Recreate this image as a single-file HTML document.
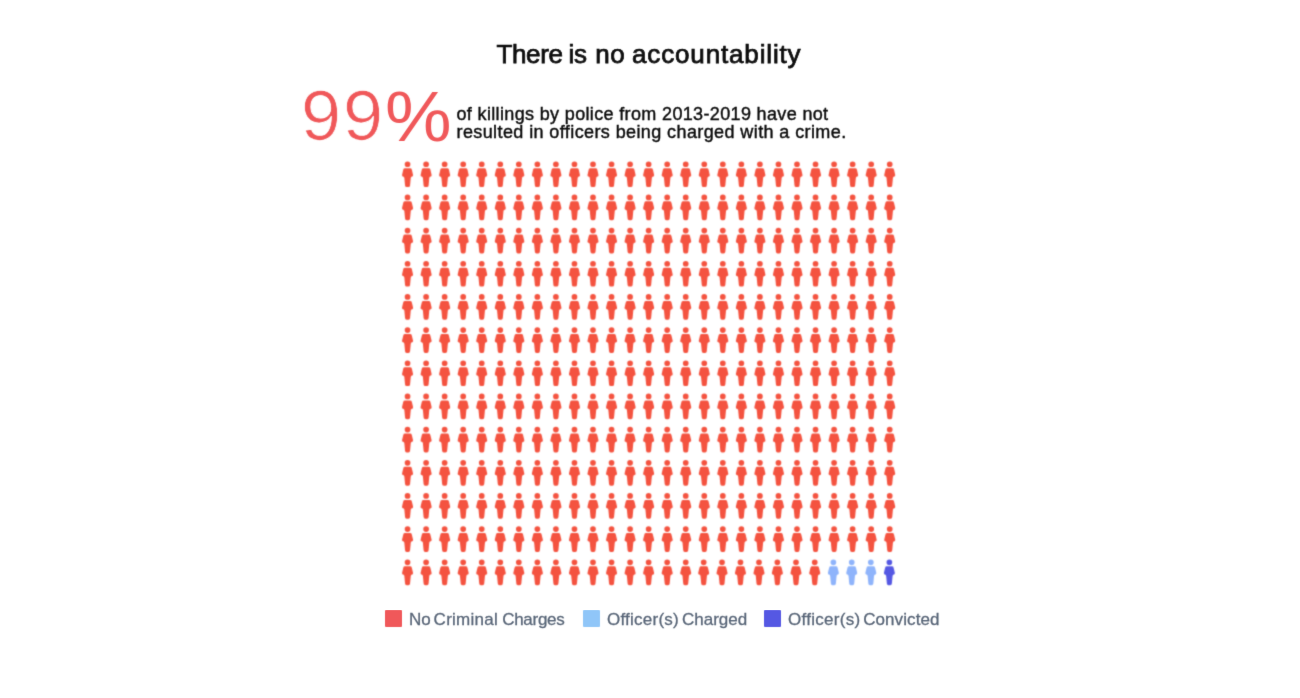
<!DOCTYPE html>
<html lang="en">
<head>
<meta charset="utf-8">
<title>There is no accountability</title>
<style>
html,body{margin:0;padding:0;background:#fff;}
body{width:1300px;height:698px;position:relative;overflow:hidden;font-family:"Liberation Sans",sans-serif;}
.soft{filter:url(#t);}
.title{position:absolute;left:0;top:37.5px;width:1300px;height:32px;white-space:nowrap;font-size:26px;line-height:32px;color:#0a0a0a;-webkit-text-stroke:0.75px #0a0a0a;}
.title span{position:absolute;top:0;}
.big{position:absolute;left:301px;top:76.3px;font-size:71px;line-height:80px;color:#f0585a;white-space:nowrap;}
.big .n{position:absolute;left:0;top:0;letter-spacing:2px;-webkit-text-stroke:0.7px #fff;transform-origin:0 81%;transform:scale(1.015,1);}
.big .pc{position:absolute;left:84px;top:0.8px;display:inline-block;transform-origin:0 81%;transform:scale(1.055,1);}
.sub{position:absolute;left:456.5px;top:105.3px;font-size:18px;line-height:18px;color:#111;white-space:nowrap;letter-spacing:0.31px;-webkit-text-stroke:0.45px #111;}
.legend{position:absolute;top:610px;left:0;font-family:"Liberation Sans",sans-serif;font-size:17px;color:#596678;line-height:18px;white-space:nowrap;-webkit-text-stroke:0.3px #596678;}
.legend span.sw{position:absolute;top:0.4px;width:17.1px;height:17px;border-radius:1px;}
.legend span.tx{position:absolute;top:1.1px;}
svg.grid{position:absolute;left:0;top:0;}
.r{fill:#f4523f;} .l{fill:#8fb4fb;} .d{fill:#5558e3;}
</style>
</head>
<body>
<div class="soft" style="position:absolute;left:0;top:0;width:1300px;height:698px">
<div class="title"><span style="left:496.5px;letter-spacing:-0.39px">There </span><span style="left:568.5px;letter-spacing:-0.4px">is </span><span style="left:595.2px;letter-spacing:0.6px">no </span><span style="left:632px;letter-spacing:0.85px">accountability</span></div>
<div class="big"><span class="n">99</span><span class="pc">%</span></div>
<div class="sub"><span style="letter-spacing:0.35px">of killings by police from 2013-2019 have not</span><br><span style="letter-spacing:0.4px">resulted in officers being charged with a crime.</span></div>
</div>
<svg class="grid" width="1300" height="698" viewBox="0 0 1300 698">
<defs>
<filter id="b" x="-5%" y="-5%" width="110%" height="110%"><feConvolveMatrix order="3" kernelMatrix="0.0361 0.1178 0.0361 0.1178 0.3846 0.1178 0.0361 0.1178 0.0361" divisor="1" edgeMode="none" preserveAlpha="false"/></filter>
<filter id="t" x="0" y="0" width="100%" height="100%"><feConvolveMatrix order="3" kernelMatrix="0.0113 0.0838 0.0113 0.0838 0.6193 0.0838 0.0113 0.0838 0.0113" divisor="1" edgeMode="none" preserveAlpha="false"/></filter>
</defs>
<g filter="url(#b)">
<path class="r" d="M404.7,164.25a2.85,2.85 0 1,0 5.7,0a2.85,2.85 0 1,0 -5.7,0zM404.95,168.2l5.2,0q1.3,0 1.65,1.4l1.15,4.8q0.4,1.9 -0.9,2.1q-1.2,0.2 -1.3,1.4l-0.7,7.5q-0.1,1.7 -1.6,1.7l-1.8,0q-1.5,0 -1.6,-1.7l-0.7,-7.5q-0.1,-1.2 -1.3,-1.4q-1.3,-0.2 -0.9,-2.1l1.15,-4.8q0.35,-1.4 1.65,-1.4z M423.25,164.25a2.85,2.85 0 1,0 5.7,0a2.85,2.85 0 1,0 -5.7,0zM423.5,168.2l5.2,0q1.3,0 1.65,1.4l1.15,4.8q0.4,1.9 -0.9,2.1q-1.2,0.2 -1.3,1.4l-0.7,7.5q-0.1,1.7 -1.6,1.7l-1.8,0q-1.5,0 -1.6,-1.7l-0.7,-7.5q-0.1,-1.2 -1.3,-1.4q-1.3,-0.2 -0.9,-2.1l1.15,-4.8q0.35,-1.4 1.65,-1.4z M441.79,164.25a2.85,2.85 0 1,0 5.7,0a2.85,2.85 0 1,0 -5.7,0zM442.04,168.2l5.2,0q1.3,0 1.65,1.4l1.15,4.8q0.4,1.9 -0.9,2.1q-1.2,0.2 -1.3,1.4l-0.7,7.5q-0.1,1.7 -1.6,1.7l-1.8,0q-1.5,0 -1.6,-1.7l-0.7,-7.5q-0.1,-1.2 -1.3,-1.4q-1.3,-0.2 -0.9,-2.1l1.15,-4.8q0.35,-1.4 1.65,-1.4z M460.33,164.25a2.85,2.85 0 1,0 5.7,0a2.85,2.85 0 1,0 -5.7,0zM460.58,168.2l5.2,0q1.3,0 1.65,1.4l1.15,4.8q0.4,1.9 -0.9,2.1q-1.2,0.2 -1.3,1.4l-0.7,7.5q-0.1,1.7 -1.6,1.7l-1.8,0q-1.5,0 -1.6,-1.7l-0.7,-7.5q-0.1,-1.2 -1.3,-1.4q-1.3,-0.2 -0.9,-2.1l1.15,-4.8q0.35,-1.4 1.65,-1.4z M478.88,164.25a2.85,2.85 0 1,0 5.7,0a2.85,2.85 0 1,0 -5.7,0zM479.13,168.2l5.2,0q1.3,0 1.65,1.4l1.15,4.8q0.4,1.9 -0.9,2.1q-1.2,0.2 -1.3,1.4l-0.7,7.5q-0.1,1.7 -1.6,1.7l-1.8,0q-1.5,0 -1.6,-1.7l-0.7,-7.5q-0.1,-1.2 -1.3,-1.4q-1.3,-0.2 -0.9,-2.1l1.15,-4.8q0.35,-1.4 1.65,-1.4z M497.43,164.25a2.85,2.85 0 1,0 5.7,0a2.85,2.85 0 1,0 -5.7,0zM497.68,168.2l5.2,0q1.3,0 1.65,1.4l1.15,4.8q0.4,1.9 -0.9,2.1q-1.2,0.2 -1.3,1.4l-0.7,7.5q-0.1,1.7 -1.6,1.7l-1.8,0q-1.5,0 -1.6,-1.7l-0.7,-7.5q-0.1,-1.2 -1.3,-1.4q-1.3,-0.2 -0.9,-2.1l1.15,-4.8q0.35,-1.4 1.65,-1.4z M515.97,164.25a2.85,2.85 0 1,0 5.7,0a2.85,2.85 0 1,0 -5.7,0zM516.22,168.2l5.2,0q1.3,0 1.65,1.4l1.15,4.8q0.4,1.9 -0.9,2.1q-1.2,0.2 -1.3,1.4l-0.7,7.5q-0.1,1.7 -1.6,1.7l-1.8,0q-1.5,0 -1.6,-1.7l-0.7,-7.5q-0.1,-1.2 -1.3,-1.4q-1.3,-0.2 -0.9,-2.1l1.15,-4.8q0.35,-1.4 1.65,-1.4z M534.51,164.25a2.85,2.85 0 1,0 5.7,0a2.85,2.85 0 1,0 -5.7,0zM534.76,168.2l5.2,0q1.3,0 1.65,1.4l1.15,4.8q0.4,1.9 -0.9,2.1q-1.2,0.2 -1.3,1.4l-0.7,7.5q-0.1,1.7 -1.6,1.7l-1.8,0q-1.5,0 -1.6,-1.7l-0.7,-7.5q-0.1,-1.2 -1.3,-1.4q-1.3,-0.2 -0.9,-2.1l1.15,-4.8q0.35,-1.4 1.65,-1.4z M553.06,164.25a2.85,2.85 0 1,0 5.7,0a2.85,2.85 0 1,0 -5.7,0zM553.31,168.2l5.2,0q1.3,0 1.65,1.4l1.15,4.8q0.4,1.9 -0.9,2.1q-1.2,0.2 -1.3,1.4l-0.7,7.5q-0.1,1.7 -1.6,1.7l-1.8,0q-1.5,0 -1.6,-1.7l-0.7,-7.5q-0.1,-1.2 -1.3,-1.4q-1.3,-0.2 -0.9,-2.1l1.15,-4.8q0.35,-1.4 1.65,-1.4z M571.61,164.25a2.85,2.85 0 1,0 5.7,0a2.85,2.85 0 1,0 -5.7,0zM571.86,168.2l5.2,0q1.3,0 1.65,1.4l1.15,4.8q0.4,1.9 -0.9,2.1q-1.2,0.2 -1.3,1.4l-0.7,7.5q-0.1,1.7 -1.6,1.7l-1.8,0q-1.5,0 -1.6,-1.7l-0.7,-7.5q-0.1,-1.2 -1.3,-1.4q-1.3,-0.2 -0.9,-2.1l1.15,-4.8q0.35,-1.4 1.65,-1.4z M590.15,164.25a2.85,2.85 0 1,0 5.7,0a2.85,2.85 0 1,0 -5.7,0zM590.4,168.2l5.2,0q1.3,0 1.65,1.4l1.15,4.8q0.4,1.9 -0.9,2.1q-1.2,0.2 -1.3,1.4l-0.7,7.5q-0.1,1.7 -1.6,1.7l-1.8,0q-1.5,0 -1.6,-1.7l-0.7,-7.5q-0.1,-1.2 -1.3,-1.4q-1.3,-0.2 -0.9,-2.1l1.15,-4.8q0.35,-1.4 1.65,-1.4z M608.7,164.25a2.85,2.85 0 1,0 5.7,0a2.85,2.85 0 1,0 -5.7,0zM608.95,168.2l5.2,0q1.3,0 1.65,1.4l1.15,4.8q0.4,1.9 -0.9,2.1q-1.2,0.2 -1.3,1.4l-0.7,7.5q-0.1,1.7 -1.6,1.7l-1.8,0q-1.5,0 -1.6,-1.7l-0.7,-7.5q-0.1,-1.2 -1.3,-1.4q-1.3,-0.2 -0.9,-2.1l1.15,-4.8q0.35,-1.4 1.65,-1.4z M627.24,164.25a2.85,2.85 0 1,0 5.7,0a2.85,2.85 0 1,0 -5.7,0zM627.49,168.2l5.2,0q1.3,0 1.65,1.4l1.15,4.8q0.4,1.9 -0.9,2.1q-1.2,0.2 -1.3,1.4l-0.7,7.5q-0.1,1.7 -1.6,1.7l-1.8,0q-1.5,0 -1.6,-1.7l-0.7,-7.5q-0.1,-1.2 -1.3,-1.4q-1.3,-0.2 -0.9,-2.1l1.15,-4.8q0.35,-1.4 1.65,-1.4z M645.78,164.25a2.85,2.85 0 1,0 5.7,0a2.85,2.85 0 1,0 -5.7,0zM646.03,168.2l5.2,0q1.3,0 1.65,1.4l1.15,4.8q0.4,1.9 -0.9,2.1q-1.2,0.2 -1.3,1.4l-0.7,7.5q-0.1,1.7 -1.6,1.7l-1.8,0q-1.5,0 -1.6,-1.7l-0.7,-7.5q-0.1,-1.2 -1.3,-1.4q-1.3,-0.2 -0.9,-2.1l1.15,-4.8q0.35,-1.4 1.65,-1.4z M664.33,164.25a2.85,2.85 0 1,0 5.7,0a2.85,2.85 0 1,0 -5.7,0zM664.58,168.2l5.2,0q1.3,0 1.65,1.4l1.15,4.8q0.4,1.9 -0.9,2.1q-1.2,0.2 -1.3,1.4l-0.7,7.5q-0.1,1.7 -1.6,1.7l-1.8,0q-1.5,0 -1.6,-1.7l-0.7,-7.5q-0.1,-1.2 -1.3,-1.4q-1.3,-0.2 -0.9,-2.1l1.15,-4.8q0.35,-1.4 1.65,-1.4z M682.88,164.25a2.85,2.85 0 1,0 5.7,0a2.85,2.85 0 1,0 -5.7,0zM683.12,168.2l5.2,0q1.3,0 1.65,1.4l1.15,4.8q0.4,1.9 -0.9,2.1q-1.2,0.2 -1.3,1.4l-0.7,7.5q-0.1,1.7 -1.6,1.7l-1.8,0q-1.5,0 -1.6,-1.7l-0.7,-7.5q-0.1,-1.2 -1.3,-1.4q-1.3,-0.2 -0.9,-2.1l1.15,-4.8q0.35,-1.4 1.65,-1.4z M701.42,164.25a2.85,2.85 0 1,0 5.7,0a2.85,2.85 0 1,0 -5.7,0zM701.67,168.2l5.2,0q1.3,0 1.65,1.4l1.15,4.8q0.4,1.9 -0.9,2.1q-1.2,0.2 -1.3,1.4l-0.7,7.5q-0.1,1.7 -1.6,1.7l-1.8,0q-1.5,0 -1.6,-1.7l-0.7,-7.5q-0.1,-1.2 -1.3,-1.4q-1.3,-0.2 -0.9,-2.1l1.15,-4.8q0.35,-1.4 1.65,-1.4z M719.97,164.25a2.85,2.85 0 1,0 5.7,0a2.85,2.85 0 1,0 -5.7,0zM720.22,168.2l5.2,0q1.3,0 1.65,1.4l1.15,4.8q0.4,1.9 -0.9,2.1q-1.2,0.2 -1.3,1.4l-0.7,7.5q-0.1,1.7 -1.6,1.7l-1.8,0q-1.5,0 -1.6,-1.7l-0.7,-7.5q-0.1,-1.2 -1.3,-1.4q-1.3,-0.2 -0.9,-2.1l1.15,-4.8q0.35,-1.4 1.65,-1.4z M738.51,164.25a2.85,2.85 0 1,0 5.7,0a2.85,2.85 0 1,0 -5.7,0zM738.76,168.2l5.2,0q1.3,0 1.65,1.4l1.15,4.8q0.4,1.9 -0.9,2.1q-1.2,0.2 -1.3,1.4l-0.7,7.5q-0.1,1.7 -1.6,1.7l-1.8,0q-1.5,0 -1.6,-1.7l-0.7,-7.5q-0.1,-1.2 -1.3,-1.4q-1.3,-0.2 -0.9,-2.1l1.15,-4.8q0.35,-1.4 1.65,-1.4z M757.05,164.25a2.85,2.85 0 1,0 5.7,0a2.85,2.85 0 1,0 -5.7,0zM757.3,168.2l5.2,0q1.3,0 1.65,1.4l1.15,4.8q0.4,1.9 -0.9,2.1q-1.2,0.2 -1.3,1.4l-0.7,7.5q-0.1,1.7 -1.6,1.7l-1.8,0q-1.5,0 -1.6,-1.7l-0.7,-7.5q-0.1,-1.2 -1.3,-1.4q-1.3,-0.2 -0.9,-2.1l1.15,-4.8q0.35,-1.4 1.65,-1.4z M775.6,164.25a2.85,2.85 0 1,0 5.7,0a2.85,2.85 0 1,0 -5.7,0zM775.85,168.2l5.2,0q1.3,0 1.65,1.4l1.15,4.8q0.4,1.9 -0.9,2.1q-1.2,0.2 -1.3,1.4l-0.7,7.5q-0.1,1.7 -1.6,1.7l-1.8,0q-1.5,0 -1.6,-1.7l-0.7,-7.5q-0.1,-1.2 -1.3,-1.4q-1.3,-0.2 -0.9,-2.1l1.15,-4.8q0.35,-1.4 1.65,-1.4z M794.15,164.25a2.85,2.85 0 1,0 5.7,0a2.85,2.85 0 1,0 -5.7,0zM794.4,168.2l5.2,0q1.3,0 1.65,1.4l1.15,4.8q0.4,1.9 -0.9,2.1q-1.2,0.2 -1.3,1.4l-0.7,7.5q-0.1,1.7 -1.6,1.7l-1.8,0q-1.5,0 -1.6,-1.7l-0.7,-7.5q-0.1,-1.2 -1.3,-1.4q-1.3,-0.2 -0.9,-2.1l1.15,-4.8q0.35,-1.4 1.65,-1.4z M812.69,164.25a2.85,2.85 0 1,0 5.7,0a2.85,2.85 0 1,0 -5.7,0zM812.94,168.2l5.2,0q1.3,0 1.65,1.4l1.15,4.8q0.4,1.9 -0.9,2.1q-1.2,0.2 -1.3,1.4l-0.7,7.5q-0.1,1.7 -1.6,1.7l-1.8,0q-1.5,0 -1.6,-1.7l-0.7,-7.5q-0.1,-1.2 -1.3,-1.4q-1.3,-0.2 -0.9,-2.1l1.15,-4.8q0.35,-1.4 1.65,-1.4z M831.24,164.25a2.85,2.85 0 1,0 5.7,0a2.85,2.85 0 1,0 -5.7,0zM831.49,168.2l5.2,0q1.3,0 1.65,1.4l1.15,4.8q0.4,1.9 -0.9,2.1q-1.2,0.2 -1.3,1.4l-0.7,7.5q-0.1,1.7 -1.6,1.7l-1.8,0q-1.5,0 -1.6,-1.7l-0.7,-7.5q-0.1,-1.2 -1.3,-1.4q-1.3,-0.2 -0.9,-2.1l1.15,-4.8q0.35,-1.4 1.65,-1.4z M849.78,164.25a2.85,2.85 0 1,0 5.7,0a2.85,2.85 0 1,0 -5.7,0zM850.03,168.2l5.2,0q1.3,0 1.65,1.4l1.15,4.8q0.4,1.9 -0.9,2.1q-1.2,0.2 -1.3,1.4l-0.7,7.5q-0.1,1.7 -1.6,1.7l-1.8,0q-1.5,0 -1.6,-1.7l-0.7,-7.5q-0.1,-1.2 -1.3,-1.4q-1.3,-0.2 -0.9,-2.1l1.15,-4.8q0.35,-1.4 1.65,-1.4z M868.33,164.25a2.85,2.85 0 1,0 5.7,0a2.85,2.85 0 1,0 -5.7,0zM868.58,168.2l5.2,0q1.3,0 1.65,1.4l1.15,4.8q0.4,1.9 -0.9,2.1q-1.2,0.2 -1.3,1.4l-0.7,7.5q-0.1,1.7 -1.6,1.7l-1.8,0q-1.5,0 -1.6,-1.7l-0.7,-7.5q-0.1,-1.2 -1.3,-1.4q-1.3,-0.2 -0.9,-2.1l1.15,-4.8q0.35,-1.4 1.65,-1.4z M886.87,164.25a2.85,2.85 0 1,0 5.7,0a2.85,2.85 0 1,0 -5.7,0zM887.12,168.2l5.2,0q1.3,0 1.65,1.4l1.15,4.8q0.4,1.9 -0.9,2.1q-1.2,0.2 -1.3,1.4l-0.7,7.5q-0.1,1.7 -1.6,1.7l-1.8,0q-1.5,0 -1.6,-1.7l-0.7,-7.5q-0.1,-1.2 -1.3,-1.4q-1.3,-0.2 -0.9,-2.1l1.15,-4.8q0.35,-1.4 1.65,-1.4z M404.7,197.42a2.85,2.85 0 1,0 5.7,0a2.85,2.85 0 1,0 -5.7,0zM404.95,201.37l5.2,0q1.3,0 1.65,1.4l1.15,4.8q0.4,1.9 -0.9,2.1q-1.2,0.2 -1.3,1.4l-0.7,7.5q-0.1,1.7 -1.6,1.7l-1.8,0q-1.5,0 -1.6,-1.7l-0.7,-7.5q-0.1,-1.2 -1.3,-1.4q-1.3,-0.2 -0.9,-2.1l1.15,-4.8q0.35,-1.4 1.65,-1.4z M423.25,197.42a2.85,2.85 0 1,0 5.7,0a2.85,2.85 0 1,0 -5.7,0zM423.5,201.37l5.2,0q1.3,0 1.65,1.4l1.15,4.8q0.4,1.9 -0.9,2.1q-1.2,0.2 -1.3,1.4l-0.7,7.5q-0.1,1.7 -1.6,1.7l-1.8,0q-1.5,0 -1.6,-1.7l-0.7,-7.5q-0.1,-1.2 -1.3,-1.4q-1.3,-0.2 -0.9,-2.1l1.15,-4.8q0.35,-1.4 1.65,-1.4z M441.79,197.42a2.85,2.85 0 1,0 5.7,0a2.85,2.85 0 1,0 -5.7,0zM442.04,201.37l5.2,0q1.3,0 1.65,1.4l1.15,4.8q0.4,1.9 -0.9,2.1q-1.2,0.2 -1.3,1.4l-0.7,7.5q-0.1,1.7 -1.6,1.7l-1.8,0q-1.5,0 -1.6,-1.7l-0.7,-7.5q-0.1,-1.2 -1.3,-1.4q-1.3,-0.2 -0.9,-2.1l1.15,-4.8q0.35,-1.4 1.65,-1.4z M460.33,197.42a2.85,2.85 0 1,0 5.7,0a2.85,2.85 0 1,0 -5.7,0zM460.58,201.37l5.2,0q1.3,0 1.65,1.4l1.15,4.8q0.4,1.9 -0.9,2.1q-1.2,0.2 -1.3,1.4l-0.7,7.5q-0.1,1.7 -1.6,1.7l-1.8,0q-1.5,0 -1.6,-1.7l-0.7,-7.5q-0.1,-1.2 -1.3,-1.4q-1.3,-0.2 -0.9,-2.1l1.15,-4.8q0.35,-1.4 1.65,-1.4z M478.88,197.42a2.85,2.85 0 1,0 5.7,0a2.85,2.85 0 1,0 -5.7,0zM479.13,201.37l5.2,0q1.3,0 1.65,1.4l1.15,4.8q0.4,1.9 -0.9,2.1q-1.2,0.2 -1.3,1.4l-0.7,7.5q-0.1,1.7 -1.6,1.7l-1.8,0q-1.5,0 -1.6,-1.7l-0.7,-7.5q-0.1,-1.2 -1.3,-1.4q-1.3,-0.2 -0.9,-2.1l1.15,-4.8q0.35,-1.4 1.65,-1.4z M497.43,197.42a2.85,2.85 0 1,0 5.7,0a2.85,2.85 0 1,0 -5.7,0zM497.68,201.37l5.2,0q1.3,0 1.65,1.4l1.15,4.8q0.4,1.9 -0.9,2.1q-1.2,0.2 -1.3,1.4l-0.7,7.5q-0.1,1.7 -1.6,1.7l-1.8,0q-1.5,0 -1.6,-1.7l-0.7,-7.5q-0.1,-1.2 -1.3,-1.4q-1.3,-0.2 -0.9,-2.1l1.15,-4.8q0.35,-1.4 1.65,-1.4z M515.97,197.42a2.85,2.85 0 1,0 5.7,0a2.85,2.85 0 1,0 -5.7,0zM516.22,201.37l5.2,0q1.3,0 1.65,1.4l1.15,4.8q0.4,1.9 -0.9,2.1q-1.2,0.2 -1.3,1.4l-0.7,7.5q-0.1,1.7 -1.6,1.7l-1.8,0q-1.5,0 -1.6,-1.7l-0.7,-7.5q-0.1,-1.2 -1.3,-1.4q-1.3,-0.2 -0.9,-2.1l1.15,-4.8q0.35,-1.4 1.65,-1.4z M534.51,197.42a2.85,2.85 0 1,0 5.7,0a2.85,2.85 0 1,0 -5.7,0zM534.76,201.37l5.2,0q1.3,0 1.65,1.4l1.15,4.8q0.4,1.9 -0.9,2.1q-1.2,0.2 -1.3,1.4l-0.7,7.5q-0.1,1.7 -1.6,1.7l-1.8,0q-1.5,0 -1.6,-1.7l-0.7,-7.5q-0.1,-1.2 -1.3,-1.4q-1.3,-0.2 -0.9,-2.1l1.15,-4.8q0.35,-1.4 1.65,-1.4z M553.06,197.42a2.85,2.85 0 1,0 5.7,0a2.85,2.85 0 1,0 -5.7,0zM553.31,201.37l5.2,0q1.3,0 1.65,1.4l1.15,4.8q0.4,1.9 -0.9,2.1q-1.2,0.2 -1.3,1.4l-0.7,7.5q-0.1,1.7 -1.6,1.7l-1.8,0q-1.5,0 -1.6,-1.7l-0.7,-7.5q-0.1,-1.2 -1.3,-1.4q-1.3,-0.2 -0.9,-2.1l1.15,-4.8q0.35,-1.4 1.65,-1.4z M571.61,197.42a2.85,2.85 0 1,0 5.7,0a2.85,2.85 0 1,0 -5.7,0zM571.86,201.37l5.2,0q1.3,0 1.65,1.4l1.15,4.8q0.4,1.9 -0.9,2.1q-1.2,0.2 -1.3,1.4l-0.7,7.5q-0.1,1.7 -1.6,1.7l-1.8,0q-1.5,0 -1.6,-1.7l-0.7,-7.5q-0.1,-1.2 -1.3,-1.4q-1.3,-0.2 -0.9,-2.1l1.15,-4.8q0.35,-1.4 1.65,-1.4z M590.15,197.42a2.85,2.85 0 1,0 5.7,0a2.85,2.85 0 1,0 -5.7,0zM590.4,201.37l5.2,0q1.3,0 1.65,1.4l1.15,4.8q0.4,1.9 -0.9,2.1q-1.2,0.2 -1.3,1.4l-0.7,7.5q-0.1,1.7 -1.6,1.7l-1.8,0q-1.5,0 -1.6,-1.7l-0.7,-7.5q-0.1,-1.2 -1.3,-1.4q-1.3,-0.2 -0.9,-2.1l1.15,-4.8q0.35,-1.4 1.65,-1.4z M608.7,197.42a2.85,2.85 0 1,0 5.7,0a2.85,2.85 0 1,0 -5.7,0zM608.95,201.37l5.2,0q1.3,0 1.65,1.4l1.15,4.8q0.4,1.9 -0.9,2.1q-1.2,0.2 -1.3,1.4l-0.7,7.5q-0.1,1.7 -1.6,1.7l-1.8,0q-1.5,0 -1.6,-1.7l-0.7,-7.5q-0.1,-1.2 -1.3,-1.4q-1.3,-0.2 -0.9,-2.1l1.15,-4.8q0.35,-1.4 1.65,-1.4z M627.24,197.42a2.85,2.85 0 1,0 5.7,0a2.85,2.85 0 1,0 -5.7,0zM627.49,201.37l5.2,0q1.3,0 1.65,1.4l1.15,4.8q0.4,1.9 -0.9,2.1q-1.2,0.2 -1.3,1.4l-0.7,7.5q-0.1,1.7 -1.6,1.7l-1.8,0q-1.5,0 -1.6,-1.7l-0.7,-7.5q-0.1,-1.2 -1.3,-1.4q-1.3,-0.2 -0.9,-2.1l1.15,-4.8q0.35,-1.4 1.65,-1.4z M645.78,197.42a2.85,2.85 0 1,0 5.7,0a2.85,2.85 0 1,0 -5.7,0zM646.03,201.37l5.2,0q1.3,0 1.65,1.4l1.15,4.8q0.4,1.9 -0.9,2.1q-1.2,0.2 -1.3,1.4l-0.7,7.5q-0.1,1.7 -1.6,1.7l-1.8,0q-1.5,0 -1.6,-1.7l-0.7,-7.5q-0.1,-1.2 -1.3,-1.4q-1.3,-0.2 -0.9,-2.1l1.15,-4.8q0.35,-1.4 1.65,-1.4z M664.33,197.42a2.85,2.85 0 1,0 5.7,0a2.85,2.85 0 1,0 -5.7,0zM664.58,201.37l5.2,0q1.3,0 1.65,1.4l1.15,4.8q0.4,1.9 -0.9,2.1q-1.2,0.2 -1.3,1.4l-0.7,7.5q-0.1,1.7 -1.6,1.7l-1.8,0q-1.5,0 -1.6,-1.7l-0.7,-7.5q-0.1,-1.2 -1.3,-1.4q-1.3,-0.2 -0.9,-2.1l1.15,-4.8q0.35,-1.4 1.65,-1.4z M682.88,197.42a2.85,2.85 0 1,0 5.7,0a2.85,2.85 0 1,0 -5.7,0zM683.12,201.37l5.2,0q1.3,0 1.65,1.4l1.15,4.8q0.4,1.9 -0.9,2.1q-1.2,0.2 -1.3,1.4l-0.7,7.5q-0.1,1.7 -1.6,1.7l-1.8,0q-1.5,0 -1.6,-1.7l-0.7,-7.5q-0.1,-1.2 -1.3,-1.4q-1.3,-0.2 -0.9,-2.1l1.15,-4.8q0.35,-1.4 1.65,-1.4z M701.42,197.42a2.85,2.85 0 1,0 5.7,0a2.85,2.85 0 1,0 -5.7,0zM701.67,201.37l5.2,0q1.3,0 1.65,1.4l1.15,4.8q0.4,1.9 -0.9,2.1q-1.2,0.2 -1.3,1.4l-0.7,7.5q-0.1,1.7 -1.6,1.7l-1.8,0q-1.5,0 -1.6,-1.7l-0.7,-7.5q-0.1,-1.2 -1.3,-1.4q-1.3,-0.2 -0.9,-2.1l1.15,-4.8q0.35,-1.4 1.65,-1.4z M719.97,197.42a2.85,2.85 0 1,0 5.7,0a2.85,2.85 0 1,0 -5.7,0zM720.22,201.37l5.2,0q1.3,0 1.65,1.4l1.15,4.8q0.4,1.9 -0.9,2.1q-1.2,0.2 -1.3,1.4l-0.7,7.5q-0.1,1.7 -1.6,1.7l-1.8,0q-1.5,0 -1.6,-1.7l-0.7,-7.5q-0.1,-1.2 -1.3,-1.4q-1.3,-0.2 -0.9,-2.1l1.15,-4.8q0.35,-1.4 1.65,-1.4z M738.51,197.42a2.85,2.85 0 1,0 5.7,0a2.85,2.85 0 1,0 -5.7,0zM738.76,201.37l5.2,0q1.3,0 1.65,1.4l1.15,4.8q0.4,1.9 -0.9,2.1q-1.2,0.2 -1.3,1.4l-0.7,7.5q-0.1,1.7 -1.6,1.7l-1.8,0q-1.5,0 -1.6,-1.7l-0.7,-7.5q-0.1,-1.2 -1.3,-1.4q-1.3,-0.2 -0.9,-2.1l1.15,-4.8q0.35,-1.4 1.65,-1.4z M757.05,197.42a2.85,2.85 0 1,0 5.7,0a2.85,2.85 0 1,0 -5.7,0zM757.3,201.37l5.2,0q1.3,0 1.65,1.4l1.15,4.8q0.4,1.9 -0.9,2.1q-1.2,0.2 -1.3,1.4l-0.7,7.5q-0.1,1.7 -1.6,1.7l-1.8,0q-1.5,0 -1.6,-1.7l-0.7,-7.5q-0.1,-1.2 -1.3,-1.4q-1.3,-0.2 -0.9,-2.1l1.15,-4.8q0.35,-1.4 1.65,-1.4z M775.6,197.42a2.85,2.85 0 1,0 5.7,0a2.85,2.85 0 1,0 -5.7,0zM775.85,201.37l5.2,0q1.3,0 1.65,1.4l1.15,4.8q0.4,1.9 -0.9,2.1q-1.2,0.2 -1.3,1.4l-0.7,7.5q-0.1,1.7 -1.6,1.7l-1.8,0q-1.5,0 -1.6,-1.7l-0.7,-7.5q-0.1,-1.2 -1.3,-1.4q-1.3,-0.2 -0.9,-2.1l1.15,-4.8q0.35,-1.4 1.65,-1.4z M794.15,197.42a2.85,2.85 0 1,0 5.7,0a2.85,2.85 0 1,0 -5.7,0zM794.4,201.37l5.2,0q1.3,0 1.65,1.4l1.15,4.8q0.4,1.9 -0.9,2.1q-1.2,0.2 -1.3,1.4l-0.7,7.5q-0.1,1.7 -1.6,1.7l-1.8,0q-1.5,0 -1.6,-1.7l-0.7,-7.5q-0.1,-1.2 -1.3,-1.4q-1.3,-0.2 -0.9,-2.1l1.15,-4.8q0.35,-1.4 1.65,-1.4z M812.69,197.42a2.85,2.85 0 1,0 5.7,0a2.85,2.85 0 1,0 -5.7,0zM812.94,201.37l5.2,0q1.3,0 1.65,1.4l1.15,4.8q0.4,1.9 -0.9,2.1q-1.2,0.2 -1.3,1.4l-0.7,7.5q-0.1,1.7 -1.6,1.7l-1.8,0q-1.5,0 -1.6,-1.7l-0.7,-7.5q-0.1,-1.2 -1.3,-1.4q-1.3,-0.2 -0.9,-2.1l1.15,-4.8q0.35,-1.4 1.65,-1.4z M831.24,197.42a2.85,2.85 0 1,0 5.7,0a2.85,2.85 0 1,0 -5.7,0zM831.49,201.37l5.2,0q1.3,0 1.65,1.4l1.15,4.8q0.4,1.9 -0.9,2.1q-1.2,0.2 -1.3,1.4l-0.7,7.5q-0.1,1.7 -1.6,1.7l-1.8,0q-1.5,0 -1.6,-1.7l-0.7,-7.5q-0.1,-1.2 -1.3,-1.4q-1.3,-0.2 -0.9,-2.1l1.15,-4.8q0.35,-1.4 1.65,-1.4z M849.78,197.42a2.85,2.85 0 1,0 5.7,0a2.85,2.85 0 1,0 -5.7,0zM850.03,201.37l5.2,0q1.3,0 1.65,1.4l1.15,4.8q0.4,1.9 -0.9,2.1q-1.2,0.2 -1.3,1.4l-0.7,7.5q-0.1,1.7 -1.6,1.7l-1.8,0q-1.5,0 -1.6,-1.7l-0.7,-7.5q-0.1,-1.2 -1.3,-1.4q-1.3,-0.2 -0.9,-2.1l1.15,-4.8q0.35,-1.4 1.65,-1.4z M868.33,197.42a2.85,2.85 0 1,0 5.7,0a2.85,2.85 0 1,0 -5.7,0zM868.58,201.37l5.2,0q1.3,0 1.65,1.4l1.15,4.8q0.4,1.9 -0.9,2.1q-1.2,0.2 -1.3,1.4l-0.7,7.5q-0.1,1.7 -1.6,1.7l-1.8,0q-1.5,0 -1.6,-1.7l-0.7,-7.5q-0.1,-1.2 -1.3,-1.4q-1.3,-0.2 -0.9,-2.1l1.15,-4.8q0.35,-1.4 1.65,-1.4z M886.87,197.42a2.85,2.85 0 1,0 5.7,0a2.85,2.85 0 1,0 -5.7,0zM887.12,201.37l5.2,0q1.3,0 1.65,1.4l1.15,4.8q0.4,1.9 -0.9,2.1q-1.2,0.2 -1.3,1.4l-0.7,7.5q-0.1,1.7 -1.6,1.7l-1.8,0q-1.5,0 -1.6,-1.7l-0.7,-7.5q-0.1,-1.2 -1.3,-1.4q-1.3,-0.2 -0.9,-2.1l1.15,-4.8q0.35,-1.4 1.65,-1.4z M404.7,230.59a2.85,2.85 0 1,0 5.7,0a2.85,2.85 0 1,0 -5.7,0zM404.95,234.54l5.2,0q1.3,0 1.65,1.4l1.15,4.8q0.4,1.9 -0.9,2.1q-1.2,0.2 -1.3,1.4l-0.7,7.5q-0.1,1.7 -1.6,1.7l-1.8,0q-1.5,0 -1.6,-1.7l-0.7,-7.5q-0.1,-1.2 -1.3,-1.4q-1.3,-0.2 -0.9,-2.1l1.15,-4.8q0.35,-1.4 1.65,-1.4z M423.25,230.59a2.85,2.85 0 1,0 5.7,0a2.85,2.85 0 1,0 -5.7,0zM423.5,234.54l5.2,0q1.3,0 1.65,1.4l1.15,4.8q0.4,1.9 -0.9,2.1q-1.2,0.2 -1.3,1.4l-0.7,7.5q-0.1,1.7 -1.6,1.7l-1.8,0q-1.5,0 -1.6,-1.7l-0.7,-7.5q-0.1,-1.2 -1.3,-1.4q-1.3,-0.2 -0.9,-2.1l1.15,-4.8q0.35,-1.4 1.65,-1.4z M441.79,230.59a2.85,2.85 0 1,0 5.7,0a2.85,2.85 0 1,0 -5.7,0zM442.04,234.54l5.2,0q1.3,0 1.65,1.4l1.15,4.8q0.4,1.9 -0.9,2.1q-1.2,0.2 -1.3,1.4l-0.7,7.5q-0.1,1.7 -1.6,1.7l-1.8,0q-1.5,0 -1.6,-1.7l-0.7,-7.5q-0.1,-1.2 -1.3,-1.4q-1.3,-0.2 -0.9,-2.1l1.15,-4.8q0.35,-1.4 1.65,-1.4z M460.33,230.59a2.85,2.85 0 1,0 5.7,0a2.85,2.85 0 1,0 -5.7,0zM460.58,234.54l5.2,0q1.3,0 1.65,1.4l1.15,4.8q0.4,1.9 -0.9,2.1q-1.2,0.2 -1.3,1.4l-0.7,7.5q-0.1,1.7 -1.6,1.7l-1.8,0q-1.5,0 -1.6,-1.7l-0.7,-7.5q-0.1,-1.2 -1.3,-1.4q-1.3,-0.2 -0.9,-2.1l1.15,-4.8q0.35,-1.4 1.65,-1.4z M478.88,230.59a2.85,2.85 0 1,0 5.7,0a2.85,2.85 0 1,0 -5.7,0zM479.13,234.54l5.2,0q1.3,0 1.65,1.4l1.15,4.8q0.4,1.9 -0.9,2.1q-1.2,0.2 -1.3,1.4l-0.7,7.5q-0.1,1.7 -1.6,1.7l-1.8,0q-1.5,0 -1.6,-1.7l-0.7,-7.5q-0.1,-1.2 -1.3,-1.4q-1.3,-0.2 -0.9,-2.1l1.15,-4.8q0.35,-1.4 1.65,-1.4z M497.43,230.59a2.85,2.85 0 1,0 5.7,0a2.85,2.85 0 1,0 -5.7,0zM497.68,234.54l5.2,0q1.3,0 1.65,1.4l1.15,4.8q0.4,1.9 -0.9,2.1q-1.2,0.2 -1.3,1.4l-0.7,7.5q-0.1,1.7 -1.6,1.7l-1.8,0q-1.5,0 -1.6,-1.7l-0.7,-7.5q-0.1,-1.2 -1.3,-1.4q-1.3,-0.2 -0.9,-2.1l1.15,-4.8q0.35,-1.4 1.65,-1.4z M515.97,230.59a2.85,2.85 0 1,0 5.7,0a2.85,2.85 0 1,0 -5.7,0zM516.22,234.54l5.2,0q1.3,0 1.65,1.4l1.15,4.8q0.4,1.9 -0.9,2.1q-1.2,0.2 -1.3,1.4l-0.7,7.5q-0.1,1.7 -1.6,1.7l-1.8,0q-1.5,0 -1.6,-1.7l-0.7,-7.5q-0.1,-1.2 -1.3,-1.4q-1.3,-0.2 -0.9,-2.1l1.15,-4.8q0.35,-1.4 1.65,-1.4z M534.51,230.59a2.85,2.85 0 1,0 5.7,0a2.85,2.85 0 1,0 -5.7,0zM534.76,234.54l5.2,0q1.3,0 1.65,1.4l1.15,4.8q0.4,1.9 -0.9,2.1q-1.2,0.2 -1.3,1.4l-0.7,7.5q-0.1,1.7 -1.6,1.7l-1.8,0q-1.5,0 -1.6,-1.7l-0.7,-7.5q-0.1,-1.2 -1.3,-1.4q-1.3,-0.2 -0.9,-2.1l1.15,-4.8q0.35,-1.4 1.65,-1.4z M553.06,230.59a2.85,2.85 0 1,0 5.7,0a2.85,2.85 0 1,0 -5.7,0zM553.31,234.54l5.2,0q1.3,0 1.65,1.4l1.15,4.8q0.4,1.9 -0.9,2.1q-1.2,0.2 -1.3,1.4l-0.7,7.5q-0.1,1.7 -1.6,1.7l-1.8,0q-1.5,0 -1.6,-1.7l-0.7,-7.5q-0.1,-1.2 -1.3,-1.4q-1.3,-0.2 -0.9,-2.1l1.15,-4.8q0.35,-1.4 1.65,-1.4z M571.61,230.59a2.85,2.85 0 1,0 5.7,0a2.85,2.85 0 1,0 -5.7,0zM571.86,234.54l5.2,0q1.3,0 1.65,1.4l1.15,4.8q0.4,1.9 -0.9,2.1q-1.2,0.2 -1.3,1.4l-0.7,7.5q-0.1,1.7 -1.6,1.7l-1.8,0q-1.5,0 -1.6,-1.7l-0.7,-7.5q-0.1,-1.2 -1.3,-1.4q-1.3,-0.2 -0.9,-2.1l1.15,-4.8q0.35,-1.4 1.65,-1.4z M590.15,230.59a2.85,2.85 0 1,0 5.7,0a2.85,2.85 0 1,0 -5.7,0zM590.4,234.54l5.2,0q1.3,0 1.65,1.4l1.15,4.8q0.4,1.9 -0.9,2.1q-1.2,0.2 -1.3,1.4l-0.7,7.5q-0.1,1.7 -1.6,1.7l-1.8,0q-1.5,0 -1.6,-1.7l-0.7,-7.5q-0.1,-1.2 -1.3,-1.4q-1.3,-0.2 -0.9,-2.1l1.15,-4.8q0.35,-1.4 1.65,-1.4z M608.7,230.59a2.85,2.85 0 1,0 5.7,0a2.85,2.85 0 1,0 -5.7,0zM608.95,234.54l5.2,0q1.3,0 1.65,1.4l1.15,4.8q0.4,1.9 -0.9,2.1q-1.2,0.2 -1.3,1.4l-0.7,7.5q-0.1,1.7 -1.6,1.7l-1.8,0q-1.5,0 -1.6,-1.7l-0.7,-7.5q-0.1,-1.2 -1.3,-1.4q-1.3,-0.2 -0.9,-2.1l1.15,-4.8q0.35,-1.4 1.65,-1.4z M627.24,230.59a2.85,2.85 0 1,0 5.7,0a2.85,2.85 0 1,0 -5.7,0zM627.49,234.54l5.2,0q1.3,0 1.65,1.4l1.15,4.8q0.4,1.9 -0.9,2.1q-1.2,0.2 -1.3,1.4l-0.7,7.5q-0.1,1.7 -1.6,1.7l-1.8,0q-1.5,0 -1.6,-1.7l-0.7,-7.5q-0.1,-1.2 -1.3,-1.4q-1.3,-0.2 -0.9,-2.1l1.15,-4.8q0.35,-1.4 1.65,-1.4z M645.78,230.59a2.85,2.85 0 1,0 5.7,0a2.85,2.85 0 1,0 -5.7,0zM646.03,234.54l5.2,0q1.3,0 1.65,1.4l1.15,4.8q0.4,1.9 -0.9,2.1q-1.2,0.2 -1.3,1.4l-0.7,7.5q-0.1,1.7 -1.6,1.7l-1.8,0q-1.5,0 -1.6,-1.7l-0.7,-7.5q-0.1,-1.2 -1.3,-1.4q-1.3,-0.2 -0.9,-2.1l1.15,-4.8q0.35,-1.4 1.65,-1.4z M664.33,230.59a2.85,2.85 0 1,0 5.7,0a2.85,2.85 0 1,0 -5.7,0zM664.58,234.54l5.2,0q1.3,0 1.65,1.4l1.15,4.8q0.4,1.9 -0.9,2.1q-1.2,0.2 -1.3,1.4l-0.7,7.5q-0.1,1.7 -1.6,1.7l-1.8,0q-1.5,0 -1.6,-1.7l-0.7,-7.5q-0.1,-1.2 -1.3,-1.4q-1.3,-0.2 -0.9,-2.1l1.15,-4.8q0.35,-1.4 1.65,-1.4z M682.88,230.59a2.85,2.85 0 1,0 5.7,0a2.85,2.85 0 1,0 -5.7,0zM683.12,234.54l5.2,0q1.3,0 1.65,1.4l1.15,4.8q0.4,1.9 -0.9,2.1q-1.2,0.2 -1.3,1.4l-0.7,7.5q-0.1,1.7 -1.6,1.7l-1.8,0q-1.5,0 -1.6,-1.7l-0.7,-7.5q-0.1,-1.2 -1.3,-1.4q-1.3,-0.2 -0.9,-2.1l1.15,-4.8q0.35,-1.4 1.65,-1.4z M701.42,230.59a2.85,2.85 0 1,0 5.7,0a2.85,2.85 0 1,0 -5.7,0zM701.67,234.54l5.2,0q1.3,0 1.65,1.4l1.15,4.8q0.4,1.9 -0.9,2.1q-1.2,0.2 -1.3,1.4l-0.7,7.5q-0.1,1.7 -1.6,1.7l-1.8,0q-1.5,0 -1.6,-1.7l-0.7,-7.5q-0.1,-1.2 -1.3,-1.4q-1.3,-0.2 -0.9,-2.1l1.15,-4.8q0.35,-1.4 1.65,-1.4z M719.97,230.59a2.85,2.85 0 1,0 5.7,0a2.85,2.85 0 1,0 -5.7,0zM720.22,234.54l5.2,0q1.3,0 1.65,1.4l1.15,4.8q0.4,1.9 -0.9,2.1q-1.2,0.2 -1.3,1.4l-0.7,7.5q-0.1,1.7 -1.6,1.7l-1.8,0q-1.5,0 -1.6,-1.7l-0.7,-7.5q-0.1,-1.2 -1.3,-1.4q-1.3,-0.2 -0.9,-2.1l1.15,-4.8q0.35,-1.4 1.65,-1.4z M738.51,230.59a2.85,2.85 0 1,0 5.7,0a2.85,2.85 0 1,0 -5.7,0zM738.76,234.54l5.2,0q1.3,0 1.65,1.4l1.15,4.8q0.4,1.9 -0.9,2.1q-1.2,0.2 -1.3,1.4l-0.7,7.5q-0.1,1.7 -1.6,1.7l-1.8,0q-1.5,0 -1.6,-1.7l-0.7,-7.5q-0.1,-1.2 -1.3,-1.4q-1.3,-0.2 -0.9,-2.1l1.15,-4.8q0.35,-1.4 1.65,-1.4z M757.05,230.59a2.85,2.85 0 1,0 5.7,0a2.85,2.85 0 1,0 -5.7,0zM757.3,234.54l5.2,0q1.3,0 1.65,1.4l1.15,4.8q0.4,1.9 -0.9,2.1q-1.2,0.2 -1.3,1.4l-0.7,7.5q-0.1,1.7 -1.6,1.7l-1.8,0q-1.5,0 -1.6,-1.7l-0.7,-7.5q-0.1,-1.2 -1.3,-1.4q-1.3,-0.2 -0.9,-2.1l1.15,-4.8q0.35,-1.4 1.65,-1.4z M775.6,230.59a2.85,2.85 0 1,0 5.7,0a2.85,2.85 0 1,0 -5.7,0zM775.85,234.54l5.2,0q1.3,0 1.65,1.4l1.15,4.8q0.4,1.9 -0.9,2.1q-1.2,0.2 -1.3,1.4l-0.7,7.5q-0.1,1.7 -1.6,1.7l-1.8,0q-1.5,0 -1.6,-1.7l-0.7,-7.5q-0.1,-1.2 -1.3,-1.4q-1.3,-0.2 -0.9,-2.1l1.15,-4.8q0.35,-1.4 1.65,-1.4z M794.15,230.59a2.85,2.85 0 1,0 5.7,0a2.85,2.85 0 1,0 -5.7,0zM794.4,234.54l5.2,0q1.3,0 1.65,1.4l1.15,4.8q0.4,1.9 -0.9,2.1q-1.2,0.2 -1.3,1.4l-0.7,7.5q-0.1,1.7 -1.6,1.7l-1.8,0q-1.5,0 -1.6,-1.7l-0.7,-7.5q-0.1,-1.2 -1.3,-1.4q-1.3,-0.2 -0.9,-2.1l1.15,-4.8q0.35,-1.4 1.65,-1.4z M812.69,230.59a2.85,2.85 0 1,0 5.7,0a2.85,2.85 0 1,0 -5.7,0zM812.94,234.54l5.2,0q1.3,0 1.65,1.4l1.15,4.8q0.4,1.9 -0.9,2.1q-1.2,0.2 -1.3,1.4l-0.7,7.5q-0.1,1.7 -1.6,1.7l-1.8,0q-1.5,0 -1.6,-1.7l-0.7,-7.5q-0.1,-1.2 -1.3,-1.4q-1.3,-0.2 -0.9,-2.1l1.15,-4.8q0.35,-1.4 1.65,-1.4z M831.24,230.59a2.85,2.85 0 1,0 5.7,0a2.85,2.85 0 1,0 -5.7,0zM831.49,234.54l5.2,0q1.3,0 1.65,1.4l1.15,4.8q0.4,1.9 -0.9,2.1q-1.2,0.2 -1.3,1.4l-0.7,7.5q-0.1,1.7 -1.6,1.7l-1.8,0q-1.5,0 -1.6,-1.7l-0.7,-7.5q-0.1,-1.2 -1.3,-1.4q-1.3,-0.2 -0.9,-2.1l1.15,-4.8q0.35,-1.4 1.65,-1.4z M849.78,230.59a2.85,2.85 0 1,0 5.7,0a2.85,2.85 0 1,0 -5.7,0zM850.03,234.54l5.2,0q1.3,0 1.65,1.4l1.15,4.8q0.4,1.9 -0.9,2.1q-1.2,0.2 -1.3,1.4l-0.7,7.5q-0.1,1.7 -1.6,1.7l-1.8,0q-1.5,0 -1.6,-1.7l-0.7,-7.5q-0.1,-1.2 -1.3,-1.4q-1.3,-0.2 -0.9,-2.1l1.15,-4.8q0.35,-1.4 1.65,-1.4z M868.33,230.59a2.85,2.85 0 1,0 5.7,0a2.85,2.85 0 1,0 -5.7,0zM868.58,234.54l5.2,0q1.3,0 1.65,1.4l1.15,4.8q0.4,1.9 -0.9,2.1q-1.2,0.2 -1.3,1.4l-0.7,7.5q-0.1,1.7 -1.6,1.7l-1.8,0q-1.5,0 -1.6,-1.7l-0.7,-7.5q-0.1,-1.2 -1.3,-1.4q-1.3,-0.2 -0.9,-2.1l1.15,-4.8q0.35,-1.4 1.65,-1.4z M886.87,230.59a2.85,2.85 0 1,0 5.7,0a2.85,2.85 0 1,0 -5.7,0zM887.12,234.54l5.2,0q1.3,0 1.65,1.4l1.15,4.8q0.4,1.9 -0.9,2.1q-1.2,0.2 -1.3,1.4l-0.7,7.5q-0.1,1.7 -1.6,1.7l-1.8,0q-1.5,0 -1.6,-1.7l-0.7,-7.5q-0.1,-1.2 -1.3,-1.4q-1.3,-0.2 -0.9,-2.1l1.15,-4.8q0.35,-1.4 1.65,-1.4z M404.7,263.76a2.85,2.85 0 1,0 5.7,0a2.85,2.85 0 1,0 -5.7,0zM404.95,267.71l5.2,0q1.3,0 1.65,1.4l1.15,4.8q0.4,1.9 -0.9,2.1q-1.2,0.2 -1.3,1.4l-0.7,7.5q-0.1,1.7 -1.6,1.7l-1.8,0q-1.5,0 -1.6,-1.7l-0.7,-7.5q-0.1,-1.2 -1.3,-1.4q-1.3,-0.2 -0.9,-2.1l1.15,-4.8q0.35,-1.4 1.65,-1.4z M423.25,263.76a2.85,2.85 0 1,0 5.7,0a2.85,2.85 0 1,0 -5.7,0zM423.5,267.71l5.2,0q1.3,0 1.65,1.4l1.15,4.8q0.4,1.9 -0.9,2.1q-1.2,0.2 -1.3,1.4l-0.7,7.5q-0.1,1.7 -1.6,1.7l-1.8,0q-1.5,0 -1.6,-1.7l-0.7,-7.5q-0.1,-1.2 -1.3,-1.4q-1.3,-0.2 -0.9,-2.1l1.15,-4.8q0.35,-1.4 1.65,-1.4z M441.79,263.76a2.85,2.85 0 1,0 5.7,0a2.85,2.85 0 1,0 -5.7,0zM442.04,267.71l5.2,0q1.3,0 1.65,1.4l1.15,4.8q0.4,1.9 -0.9,2.1q-1.2,0.2 -1.3,1.4l-0.7,7.5q-0.1,1.7 -1.6,1.7l-1.8,0q-1.5,0 -1.6,-1.7l-0.7,-7.5q-0.1,-1.2 -1.3,-1.4q-1.3,-0.2 -0.9,-2.1l1.15,-4.8q0.35,-1.4 1.65,-1.4z M460.33,263.76a2.85,2.85 0 1,0 5.7,0a2.85,2.85 0 1,0 -5.7,0zM460.58,267.71l5.2,0q1.3,0 1.65,1.4l1.15,4.8q0.4,1.9 -0.9,2.1q-1.2,0.2 -1.3,1.4l-0.7,7.5q-0.1,1.7 -1.6,1.7l-1.8,0q-1.5,0 -1.6,-1.7l-0.7,-7.5q-0.1,-1.2 -1.3,-1.4q-1.3,-0.2 -0.9,-2.1l1.15,-4.8q0.35,-1.4 1.65,-1.4z M478.88,263.76a2.85,2.85 0 1,0 5.7,0a2.85,2.85 0 1,0 -5.7,0zM479.13,267.71l5.2,0q1.3,0 1.65,1.4l1.15,4.8q0.4,1.9 -0.9,2.1q-1.2,0.2 -1.3,1.4l-0.7,7.5q-0.1,1.7 -1.6,1.7l-1.8,0q-1.5,0 -1.6,-1.7l-0.7,-7.5q-0.1,-1.2 -1.3,-1.4q-1.3,-0.2 -0.9,-2.1l1.15,-4.8q0.35,-1.4 1.65,-1.4z M497.43,263.76a2.85,2.85 0 1,0 5.7,0a2.85,2.85 0 1,0 -5.7,0zM497.68,267.71l5.2,0q1.3,0 1.65,1.4l1.15,4.8q0.4,1.9 -0.9,2.1q-1.2,0.2 -1.3,1.4l-0.7,7.5q-0.1,1.7 -1.6,1.7l-1.8,0q-1.5,0 -1.6,-1.7l-0.7,-7.5q-0.1,-1.2 -1.3,-1.4q-1.3,-0.2 -0.9,-2.1l1.15,-4.8q0.35,-1.4 1.65,-1.4z M515.97,263.76a2.85,2.85 0 1,0 5.7,0a2.85,2.85 0 1,0 -5.7,0zM516.22,267.71l5.2,0q1.3,0 1.65,1.4l1.15,4.8q0.4,1.9 -0.9,2.1q-1.2,0.2 -1.3,1.4l-0.7,7.5q-0.1,1.7 -1.6,1.7l-1.8,0q-1.5,0 -1.6,-1.7l-0.7,-7.5q-0.1,-1.2 -1.3,-1.4q-1.3,-0.2 -0.9,-2.1l1.15,-4.8q0.35,-1.4 1.65,-1.4z M534.51,263.76a2.85,2.85 0 1,0 5.7,0a2.85,2.85 0 1,0 -5.7,0zM534.76,267.71l5.2,0q1.3,0 1.65,1.4l1.15,4.8q0.4,1.9 -0.9,2.1q-1.2,0.2 -1.3,1.4l-0.7,7.5q-0.1,1.7 -1.6,1.7l-1.8,0q-1.5,0 -1.6,-1.7l-0.7,-7.5q-0.1,-1.2 -1.3,-1.4q-1.3,-0.2 -0.9,-2.1l1.15,-4.8q0.35,-1.4 1.65,-1.4z M553.06,263.76a2.85,2.85 0 1,0 5.7,0a2.85,2.85 0 1,0 -5.7,0zM553.31,267.71l5.2,0q1.3,0 1.65,1.4l1.15,4.8q0.4,1.9 -0.9,2.1q-1.2,0.2 -1.3,1.4l-0.7,7.5q-0.1,1.7 -1.6,1.7l-1.8,0q-1.5,0 -1.6,-1.7l-0.7,-7.5q-0.1,-1.2 -1.3,-1.4q-1.3,-0.2 -0.9,-2.1l1.15,-4.8q0.35,-1.4 1.65,-1.4z M571.61,263.76a2.85,2.85 0 1,0 5.7,0a2.85,2.85 0 1,0 -5.7,0zM571.86,267.71l5.2,0q1.3,0 1.65,1.4l1.15,4.8q0.4,1.9 -0.9,2.1q-1.2,0.2 -1.3,1.4l-0.7,7.5q-0.1,1.7 -1.6,1.7l-1.8,0q-1.5,0 -1.6,-1.7l-0.7,-7.5q-0.1,-1.2 -1.3,-1.4q-1.3,-0.2 -0.9,-2.1l1.15,-4.8q0.35,-1.4 1.65,-1.4z M590.15,263.76a2.85,2.85 0 1,0 5.7,0a2.85,2.85 0 1,0 -5.7,0zM590.4,267.71l5.2,0q1.3,0 1.65,1.4l1.15,4.8q0.4,1.9 -0.9,2.1q-1.2,0.2 -1.3,1.4l-0.7,7.5q-0.1,1.7 -1.6,1.7l-1.8,0q-1.5,0 -1.6,-1.7l-0.7,-7.5q-0.1,-1.2 -1.3,-1.4q-1.3,-0.2 -0.9,-2.1l1.15,-4.8q0.35,-1.4 1.65,-1.4z M608.7,263.76a2.85,2.85 0 1,0 5.7,0a2.85,2.85 0 1,0 -5.7,0zM608.95,267.71l5.2,0q1.3,0 1.65,1.4l1.15,4.8q0.4,1.9 -0.9,2.1q-1.2,0.2 -1.3,1.4l-0.7,7.5q-0.1,1.7 -1.6,1.7l-1.8,0q-1.5,0 -1.6,-1.7l-0.7,-7.5q-0.1,-1.2 -1.3,-1.4q-1.3,-0.2 -0.9,-2.1l1.15,-4.8q0.35,-1.4 1.65,-1.4z M627.24,263.76a2.85,2.85 0 1,0 5.7,0a2.85,2.85 0 1,0 -5.7,0zM627.49,267.71l5.2,0q1.3,0 1.65,1.4l1.15,4.8q0.4,1.9 -0.9,2.1q-1.2,0.2 -1.3,1.4l-0.7,7.5q-0.1,1.7 -1.6,1.7l-1.8,0q-1.5,0 -1.6,-1.7l-0.7,-7.5q-0.1,-1.2 -1.3,-1.4q-1.3,-0.2 -0.9,-2.1l1.15,-4.8q0.35,-1.4 1.65,-1.4z M645.78,263.76a2.85,2.85 0 1,0 5.7,0a2.85,2.85 0 1,0 -5.7,0zM646.03,267.71l5.2,0q1.3,0 1.65,1.4l1.15,4.8q0.4,1.9 -0.9,2.1q-1.2,0.2 -1.3,1.4l-0.7,7.5q-0.1,1.7 -1.6,1.7l-1.8,0q-1.5,0 -1.6,-1.7l-0.7,-7.5q-0.1,-1.2 -1.3,-1.4q-1.3,-0.2 -0.9,-2.1l1.15,-4.8q0.35,-1.4 1.65,-1.4z M664.33,263.76a2.85,2.85 0 1,0 5.7,0a2.85,2.85 0 1,0 -5.7,0zM664.58,267.71l5.2,0q1.3,0 1.65,1.4l1.15,4.8q0.4,1.9 -0.9,2.1q-1.2,0.2 -1.3,1.4l-0.7,7.5q-0.1,1.7 -1.6,1.7l-1.8,0q-1.5,0 -1.6,-1.7l-0.7,-7.5q-0.1,-1.2 -1.3,-1.4q-1.3,-0.2 -0.9,-2.1l1.15,-4.8q0.35,-1.4 1.65,-1.4z M682.88,263.76a2.85,2.85 0 1,0 5.7,0a2.85,2.85 0 1,0 -5.7,0zM683.12,267.71l5.2,0q1.3,0 1.65,1.4l1.15,4.8q0.4,1.9 -0.9,2.1q-1.2,0.2 -1.3,1.4l-0.7,7.5q-0.1,1.7 -1.6,1.7l-1.8,0q-1.5,0 -1.6,-1.7l-0.7,-7.5q-0.1,-1.2 -1.3,-1.4q-1.3,-0.2 -0.9,-2.1l1.15,-4.8q0.35,-1.4 1.65,-1.4z M701.42,263.76a2.85,2.85 0 1,0 5.7,0a2.85,2.85 0 1,0 -5.7,0zM701.67,267.71l5.2,0q1.3,0 1.65,1.4l1.15,4.8q0.4,1.9 -0.9,2.1q-1.2,0.2 -1.3,1.4l-0.7,7.5q-0.1,1.7 -1.6,1.7l-1.8,0q-1.5,0 -1.6,-1.7l-0.7,-7.5q-0.1,-1.2 -1.3,-1.4q-1.3,-0.2 -0.9,-2.1l1.15,-4.8q0.35,-1.4 1.65,-1.4z M719.97,263.76a2.85,2.85 0 1,0 5.7,0a2.85,2.85 0 1,0 -5.7,0zM720.22,267.71l5.2,0q1.3,0 1.65,1.4l1.15,4.8q0.4,1.9 -0.9,2.1q-1.2,0.2 -1.3,1.4l-0.7,7.5q-0.1,1.7 -1.6,1.7l-1.8,0q-1.5,0 -1.6,-1.7l-0.7,-7.5q-0.1,-1.2 -1.3,-1.4q-1.3,-0.2 -0.9,-2.1l1.15,-4.8q0.35,-1.4 1.65,-1.4z M738.51,263.76a2.85,2.85 0 1,0 5.7,0a2.85,2.85 0 1,0 -5.7,0zM738.76,267.71l5.2,0q1.3,0 1.65,1.4l1.15,4.8q0.4,1.9 -0.9,2.1q-1.2,0.2 -1.3,1.4l-0.7,7.5q-0.1,1.7 -1.6,1.7l-1.8,0q-1.5,0 -1.6,-1.7l-0.7,-7.5q-0.1,-1.2 -1.3,-1.4q-1.3,-0.2 -0.9,-2.1l1.15,-4.8q0.35,-1.4 1.65,-1.4z M757.05,263.76a2.85,2.85 0 1,0 5.7,0a2.85,2.85 0 1,0 -5.7,0zM757.3,267.71l5.2,0q1.3,0 1.65,1.4l1.15,4.8q0.4,1.9 -0.9,2.1q-1.2,0.2 -1.3,1.4l-0.7,7.5q-0.1,1.7 -1.6,1.7l-1.8,0q-1.5,0 -1.6,-1.7l-0.7,-7.5q-0.1,-1.2 -1.3,-1.4q-1.3,-0.2 -0.9,-2.1l1.15,-4.8q0.35,-1.4 1.65,-1.4z M775.6,263.76a2.85,2.85 0 1,0 5.7,0a2.85,2.85 0 1,0 -5.7,0zM775.85,267.71l5.2,0q1.3,0 1.65,1.4l1.15,4.8q0.4,1.9 -0.9,2.1q-1.2,0.2 -1.3,1.4l-0.7,7.5q-0.1,1.7 -1.6,1.7l-1.8,0q-1.5,0 -1.6,-1.7l-0.7,-7.5q-0.1,-1.2 -1.3,-1.4q-1.3,-0.2 -0.9,-2.1l1.15,-4.8q0.35,-1.4 1.65,-1.4z M794.15,263.76a2.85,2.85 0 1,0 5.7,0a2.85,2.85 0 1,0 -5.7,0zM794.4,267.71l5.2,0q1.3,0 1.65,1.4l1.15,4.8q0.4,1.9 -0.9,2.1q-1.2,0.2 -1.3,1.4l-0.7,7.5q-0.1,1.7 -1.6,1.7l-1.8,0q-1.5,0 -1.6,-1.7l-0.7,-7.5q-0.1,-1.2 -1.3,-1.4q-1.3,-0.2 -0.9,-2.1l1.15,-4.8q0.35,-1.4 1.65,-1.4z M812.69,263.76a2.85,2.85 0 1,0 5.7,0a2.85,2.85 0 1,0 -5.7,0zM812.94,267.71l5.2,0q1.3,0 1.65,1.4l1.15,4.8q0.4,1.9 -0.9,2.1q-1.2,0.2 -1.3,1.4l-0.7,7.5q-0.1,1.7 -1.6,1.7l-1.8,0q-1.5,0 -1.6,-1.7l-0.7,-7.5q-0.1,-1.2 -1.3,-1.4q-1.3,-0.2 -0.9,-2.1l1.15,-4.8q0.35,-1.4 1.65,-1.4z M831.24,263.76a2.85,2.85 0 1,0 5.7,0a2.85,2.85 0 1,0 -5.7,0zM831.49,267.71l5.2,0q1.3,0 1.65,1.4l1.15,4.8q0.4,1.9 -0.9,2.1q-1.2,0.2 -1.3,1.4l-0.7,7.5q-0.1,1.7 -1.6,1.7l-1.8,0q-1.5,0 -1.6,-1.7l-0.7,-7.5q-0.1,-1.2 -1.3,-1.4q-1.3,-0.2 -0.9,-2.1l1.15,-4.8q0.35,-1.4 1.65,-1.4z M849.78,263.76a2.85,2.85 0 1,0 5.7,0a2.85,2.85 0 1,0 -5.7,0zM850.03,267.71l5.2,0q1.3,0 1.65,1.4l1.15,4.8q0.4,1.9 -0.9,2.1q-1.2,0.2 -1.3,1.4l-0.7,7.5q-0.1,1.7 -1.6,1.7l-1.8,0q-1.5,0 -1.6,-1.7l-0.7,-7.5q-0.1,-1.2 -1.3,-1.4q-1.3,-0.2 -0.9,-2.1l1.15,-4.8q0.35,-1.4 1.65,-1.4z M868.33,263.76a2.85,2.85 0 1,0 5.7,0a2.85,2.85 0 1,0 -5.7,0zM868.58,267.71l5.2,0q1.3,0 1.65,1.4l1.15,4.8q0.4,1.9 -0.9,2.1q-1.2,0.2 -1.3,1.4l-0.7,7.5q-0.1,1.7 -1.6,1.7l-1.8,0q-1.5,0 -1.6,-1.7l-0.7,-7.5q-0.1,-1.2 -1.3,-1.4q-1.3,-0.2 -0.9,-2.1l1.15,-4.8q0.35,-1.4 1.65,-1.4z M886.87,263.76a2.85,2.85 0 1,0 5.7,0a2.85,2.85 0 1,0 -5.7,0zM887.12,267.71l5.2,0q1.3,0 1.65,1.4l1.15,4.8q0.4,1.9 -0.9,2.1q-1.2,0.2 -1.3,1.4l-0.7,7.5q-0.1,1.7 -1.6,1.7l-1.8,0q-1.5,0 -1.6,-1.7l-0.7,-7.5q-0.1,-1.2 -1.3,-1.4q-1.3,-0.2 -0.9,-2.1l1.15,-4.8q0.35,-1.4 1.65,-1.4z M404.7,296.93a2.85,2.85 0 1,0 5.7,0a2.85,2.85 0 1,0 -5.7,0zM404.95,300.88l5.2,0q1.3,0 1.65,1.4l1.15,4.8q0.4,1.9 -0.9,2.1q-1.2,0.2 -1.3,1.4l-0.7,7.5q-0.1,1.7 -1.6,1.7l-1.8,0q-1.5,0 -1.6,-1.7l-0.7,-7.5q-0.1,-1.2 -1.3,-1.4q-1.3,-0.2 -0.9,-2.1l1.15,-4.8q0.35,-1.4 1.65,-1.4z M423.25,296.93a2.85,2.85 0 1,0 5.7,0a2.85,2.85 0 1,0 -5.7,0zM423.5,300.88l5.2,0q1.3,0 1.65,1.4l1.15,4.8q0.4,1.9 -0.9,2.1q-1.2,0.2 -1.3,1.4l-0.7,7.5q-0.1,1.7 -1.6,1.7l-1.8,0q-1.5,0 -1.6,-1.7l-0.7,-7.5q-0.1,-1.2 -1.3,-1.4q-1.3,-0.2 -0.9,-2.1l1.15,-4.8q0.35,-1.4 1.65,-1.4z M441.79,296.93a2.85,2.85 0 1,0 5.7,0a2.85,2.85 0 1,0 -5.7,0zM442.04,300.88l5.2,0q1.3,0 1.65,1.4l1.15,4.8q0.4,1.9 -0.9,2.1q-1.2,0.2 -1.3,1.4l-0.7,7.5q-0.1,1.7 -1.6,1.7l-1.8,0q-1.5,0 -1.6,-1.7l-0.7,-7.5q-0.1,-1.2 -1.3,-1.4q-1.3,-0.2 -0.9,-2.1l1.15,-4.8q0.35,-1.4 1.65,-1.4z M460.33,296.93a2.85,2.85 0 1,0 5.7,0a2.85,2.85 0 1,0 -5.7,0zM460.58,300.88l5.2,0q1.3,0 1.65,1.4l1.15,4.8q0.4,1.9 -0.9,2.1q-1.2,0.2 -1.3,1.4l-0.7,7.5q-0.1,1.7 -1.6,1.7l-1.8,0q-1.5,0 -1.6,-1.7l-0.7,-7.5q-0.1,-1.2 -1.3,-1.4q-1.3,-0.2 -0.9,-2.1l1.15,-4.8q0.35,-1.4 1.65,-1.4z M478.88,296.93a2.85,2.85 0 1,0 5.7,0a2.85,2.85 0 1,0 -5.7,0zM479.13,300.88l5.2,0q1.3,0 1.65,1.4l1.15,4.8q0.4,1.9 -0.9,2.1q-1.2,0.2 -1.3,1.4l-0.7,7.5q-0.1,1.7 -1.6,1.7l-1.8,0q-1.5,0 -1.6,-1.7l-0.7,-7.5q-0.1,-1.2 -1.3,-1.4q-1.3,-0.2 -0.9,-2.1l1.15,-4.8q0.35,-1.4 1.65,-1.4z M497.43,296.93a2.85,2.85 0 1,0 5.7,0a2.85,2.85 0 1,0 -5.7,0zM497.68,300.88l5.2,0q1.3,0 1.65,1.4l1.15,4.8q0.4,1.9 -0.9,2.1q-1.2,0.2 -1.3,1.4l-0.7,7.5q-0.1,1.7 -1.6,1.7l-1.8,0q-1.5,0 -1.6,-1.7l-0.7,-7.5q-0.1,-1.2 -1.3,-1.4q-1.3,-0.2 -0.9,-2.1l1.15,-4.8q0.35,-1.4 1.65,-1.4z M515.97,296.93a2.85,2.85 0 1,0 5.7,0a2.85,2.85 0 1,0 -5.7,0zM516.22,300.88l5.2,0q1.3,0 1.65,1.4l1.15,4.8q0.4,1.9 -0.9,2.1q-1.2,0.2 -1.3,1.4l-0.7,7.5q-0.1,1.7 -1.6,1.7l-1.8,0q-1.5,0 -1.6,-1.7l-0.7,-7.5q-0.1,-1.2 -1.3,-1.4q-1.3,-0.2 -0.9,-2.1l1.15,-4.8q0.35,-1.4 1.65,-1.4z M534.51,296.93a2.85,2.85 0 1,0 5.7,0a2.85,2.85 0 1,0 -5.7,0zM534.76,300.88l5.2,0q1.3,0 1.65,1.4l1.15,4.8q0.4,1.9 -0.9,2.1q-1.2,0.2 -1.3,1.4l-0.7,7.5q-0.1,1.7 -1.6,1.7l-1.8,0q-1.5,0 -1.6,-1.7l-0.7,-7.5q-0.1,-1.2 -1.3,-1.4q-1.3,-0.2 -0.9,-2.1l1.15,-4.8q0.35,-1.4 1.65,-1.4z M553.06,296.93a2.85,2.85 0 1,0 5.7,0a2.85,2.85 0 1,0 -5.7,0zM553.31,300.88l5.2,0q1.3,0 1.65,1.4l1.15,4.8q0.4,1.9 -0.9,2.1q-1.2,0.2 -1.3,1.4l-0.7,7.5q-0.1,1.7 -1.6,1.7l-1.8,0q-1.5,0 -1.6,-1.7l-0.7,-7.5q-0.1,-1.2 -1.3,-1.4q-1.3,-0.2 -0.9,-2.1l1.15,-4.8q0.35,-1.4 1.65,-1.4z M571.61,296.93a2.85,2.85 0 1,0 5.7,0a2.85,2.85 0 1,0 -5.7,0zM571.86,300.88l5.2,0q1.3,0 1.65,1.4l1.15,4.8q0.4,1.9 -0.9,2.1q-1.2,0.2 -1.3,1.4l-0.7,7.5q-0.1,1.7 -1.6,1.7l-1.8,0q-1.5,0 -1.6,-1.7l-0.7,-7.5q-0.1,-1.2 -1.3,-1.4q-1.3,-0.2 -0.9,-2.1l1.15,-4.8q0.35,-1.4 1.65,-1.4z M590.15,296.93a2.85,2.85 0 1,0 5.7,0a2.85,2.85 0 1,0 -5.7,0zM590.4,300.88l5.2,0q1.3,0 1.65,1.4l1.15,4.8q0.4,1.9 -0.9,2.1q-1.2,0.2 -1.3,1.4l-0.7,7.5q-0.1,1.7 -1.6,1.7l-1.8,0q-1.5,0 -1.6,-1.7l-0.7,-7.5q-0.1,-1.2 -1.3,-1.4q-1.3,-0.2 -0.9,-2.1l1.15,-4.8q0.35,-1.4 1.65,-1.4z M608.7,296.93a2.85,2.85 0 1,0 5.7,0a2.85,2.85 0 1,0 -5.7,0zM608.95,300.88l5.2,0q1.3,0 1.65,1.4l1.15,4.8q0.4,1.9 -0.9,2.1q-1.2,0.2 -1.3,1.4l-0.7,7.5q-0.1,1.7 -1.6,1.7l-1.8,0q-1.5,0 -1.6,-1.7l-0.7,-7.5q-0.1,-1.2 -1.3,-1.4q-1.3,-0.2 -0.9,-2.1l1.15,-4.8q0.35,-1.4 1.65,-1.4z M627.24,296.93a2.85,2.85 0 1,0 5.7,0a2.85,2.85 0 1,0 -5.7,0zM627.49,300.88l5.2,0q1.3,0 1.65,1.4l1.15,4.8q0.4,1.9 -0.9,2.1q-1.2,0.2 -1.3,1.4l-0.7,7.5q-0.1,1.7 -1.6,1.7l-1.8,0q-1.5,0 -1.6,-1.7l-0.7,-7.5q-0.1,-1.2 -1.3,-1.4q-1.3,-0.2 -0.9,-2.1l1.15,-4.8q0.35,-1.4 1.65,-1.4z M645.78,296.93a2.85,2.85 0 1,0 5.7,0a2.85,2.85 0 1,0 -5.7,0zM646.03,300.88l5.2,0q1.3,0 1.65,1.4l1.15,4.8q0.4,1.9 -0.9,2.1q-1.2,0.2 -1.3,1.4l-0.7,7.5q-0.1,1.7 -1.6,1.7l-1.8,0q-1.5,0 -1.6,-1.7l-0.7,-7.5q-0.1,-1.2 -1.3,-1.4q-1.3,-0.2 -0.9,-2.1l1.15,-4.8q0.35,-1.4 1.65,-1.4z M664.33,296.93a2.85,2.85 0 1,0 5.7,0a2.85,2.85 0 1,0 -5.7,0zM664.58,300.88l5.2,0q1.3,0 1.65,1.4l1.15,4.8q0.4,1.9 -0.9,2.1q-1.2,0.2 -1.3,1.4l-0.7,7.5q-0.1,1.7 -1.6,1.7l-1.8,0q-1.5,0 -1.6,-1.7l-0.7,-7.5q-0.1,-1.2 -1.3,-1.4q-1.3,-0.2 -0.9,-2.1l1.15,-4.8q0.35,-1.4 1.65,-1.4z M682.88,296.93a2.85,2.85 0 1,0 5.7,0a2.85,2.85 0 1,0 -5.7,0zM683.12,300.88l5.2,0q1.3,0 1.65,1.4l1.15,4.8q0.4,1.9 -0.9,2.1q-1.2,0.2 -1.3,1.4l-0.7,7.5q-0.1,1.7 -1.6,1.7l-1.8,0q-1.5,0 -1.6,-1.7l-0.7,-7.5q-0.1,-1.2 -1.3,-1.4q-1.3,-0.2 -0.9,-2.1l1.15,-4.8q0.35,-1.4 1.65,-1.4z M701.42,296.93a2.85,2.85 0 1,0 5.7,0a2.85,2.85 0 1,0 -5.7,0zM701.67,300.88l5.2,0q1.3,0 1.65,1.4l1.15,4.8q0.4,1.9 -0.9,2.1q-1.2,0.2 -1.3,1.4l-0.7,7.5q-0.1,1.7 -1.6,1.7l-1.8,0q-1.5,0 -1.6,-1.7l-0.7,-7.5q-0.1,-1.2 -1.3,-1.4q-1.3,-0.2 -0.9,-2.1l1.15,-4.8q0.35,-1.4 1.65,-1.4z M719.97,296.93a2.85,2.85 0 1,0 5.7,0a2.85,2.85 0 1,0 -5.7,0zM720.22,300.88l5.2,0q1.3,0 1.65,1.4l1.15,4.8q0.4,1.9 -0.9,2.1q-1.2,0.2 -1.3,1.4l-0.7,7.5q-0.1,1.7 -1.6,1.7l-1.8,0q-1.5,0 -1.6,-1.7l-0.7,-7.5q-0.1,-1.2 -1.3,-1.4q-1.3,-0.2 -0.9,-2.1l1.15,-4.8q0.35,-1.4 1.65,-1.4z M738.51,296.93a2.85,2.85 0 1,0 5.7,0a2.85,2.85 0 1,0 -5.7,0zM738.76,300.88l5.2,0q1.3,0 1.65,1.4l1.15,4.8q0.4,1.9 -0.9,2.1q-1.2,0.2 -1.3,1.4l-0.7,7.5q-0.1,1.7 -1.6,1.7l-1.8,0q-1.5,0 -1.6,-1.7l-0.7,-7.5q-0.1,-1.2 -1.3,-1.4q-1.3,-0.2 -0.9,-2.1l1.15,-4.8q0.35,-1.4 1.65,-1.4z M757.05,296.93a2.85,2.85 0 1,0 5.7,0a2.85,2.85 0 1,0 -5.7,0zM757.3,300.88l5.2,0q1.3,0 1.65,1.4l1.15,4.8q0.4,1.9 -0.9,2.1q-1.2,0.2 -1.3,1.4l-0.7,7.5q-0.1,1.7 -1.6,1.7l-1.8,0q-1.5,0 -1.6,-1.7l-0.7,-7.5q-0.1,-1.2 -1.3,-1.4q-1.3,-0.2 -0.9,-2.1l1.15,-4.8q0.35,-1.4 1.65,-1.4z M775.6,296.93a2.85,2.85 0 1,0 5.7,0a2.85,2.85 0 1,0 -5.7,0zM775.85,300.88l5.2,0q1.3,0 1.65,1.4l1.15,4.8q0.4,1.9 -0.9,2.1q-1.2,0.2 -1.3,1.4l-0.7,7.5q-0.1,1.7 -1.6,1.7l-1.8,0q-1.5,0 -1.6,-1.7l-0.7,-7.5q-0.1,-1.2 -1.3,-1.4q-1.3,-0.2 -0.9,-2.1l1.15,-4.8q0.35,-1.4 1.65,-1.4z M794.15,296.93a2.85,2.85 0 1,0 5.7,0a2.85,2.85 0 1,0 -5.7,0zM794.4,300.88l5.2,0q1.3,0 1.65,1.4l1.15,4.8q0.4,1.9 -0.9,2.1q-1.2,0.2 -1.3,1.4l-0.7,7.5q-0.1,1.7 -1.6,1.7l-1.8,0q-1.5,0 -1.6,-1.7l-0.7,-7.5q-0.1,-1.2 -1.3,-1.4q-1.3,-0.2 -0.9,-2.1l1.15,-4.8q0.35,-1.4 1.65,-1.4z M812.69,296.93a2.85,2.85 0 1,0 5.7,0a2.85,2.85 0 1,0 -5.7,0zM812.94,300.88l5.2,0q1.3,0 1.65,1.4l1.15,4.8q0.4,1.9 -0.9,2.1q-1.2,0.2 -1.3,1.4l-0.7,7.5q-0.1,1.7 -1.6,1.7l-1.8,0q-1.5,0 -1.6,-1.7l-0.7,-7.5q-0.1,-1.2 -1.3,-1.4q-1.3,-0.2 -0.9,-2.1l1.15,-4.8q0.35,-1.4 1.65,-1.4z M831.24,296.93a2.85,2.85 0 1,0 5.7,0a2.85,2.85 0 1,0 -5.7,0zM831.49,300.88l5.2,0q1.3,0 1.65,1.4l1.15,4.8q0.4,1.9 -0.9,2.1q-1.2,0.2 -1.3,1.4l-0.7,7.5q-0.1,1.7 -1.6,1.7l-1.8,0q-1.5,0 -1.6,-1.7l-0.7,-7.5q-0.1,-1.2 -1.3,-1.4q-1.3,-0.2 -0.9,-2.1l1.15,-4.8q0.35,-1.4 1.65,-1.4z M849.78,296.93a2.85,2.85 0 1,0 5.7,0a2.85,2.85 0 1,0 -5.7,0zM850.03,300.88l5.2,0q1.3,0 1.65,1.4l1.15,4.8q0.4,1.9 -0.9,2.1q-1.2,0.2 -1.3,1.4l-0.7,7.5q-0.1,1.7 -1.6,1.7l-1.8,0q-1.5,0 -1.6,-1.7l-0.7,-7.5q-0.1,-1.2 -1.3,-1.4q-1.3,-0.2 -0.9,-2.1l1.15,-4.8q0.35,-1.4 1.65,-1.4z M868.33,296.93a2.85,2.85 0 1,0 5.7,0a2.85,2.85 0 1,0 -5.7,0zM868.58,300.88l5.2,0q1.3,0 1.65,1.4l1.15,4.8q0.4,1.9 -0.9,2.1q-1.2,0.2 -1.3,1.4l-0.7,7.5q-0.1,1.7 -1.6,1.7l-1.8,0q-1.5,0 -1.6,-1.7l-0.7,-7.5q-0.1,-1.2 -1.3,-1.4q-1.3,-0.2 -0.9,-2.1l1.15,-4.8q0.35,-1.4 1.65,-1.4z M886.87,296.93a2.85,2.85 0 1,0 5.7,0a2.85,2.85 0 1,0 -5.7,0zM887.12,300.88l5.2,0q1.3,0 1.65,1.4l1.15,4.8q0.4,1.9 -0.9,2.1q-1.2,0.2 -1.3,1.4l-0.7,7.5q-0.1,1.7 -1.6,1.7l-1.8,0q-1.5,0 -1.6,-1.7l-0.7,-7.5q-0.1,-1.2 -1.3,-1.4q-1.3,-0.2 -0.9,-2.1l1.15,-4.8q0.35,-1.4 1.65,-1.4z M404.7,330.1a2.85,2.85 0 1,0 5.7,0a2.85,2.85 0 1,0 -5.7,0zM404.95,334.05l5.2,0q1.3,0 1.65,1.4l1.15,4.8q0.4,1.9 -0.9,2.1q-1.2,0.2 -1.3,1.4l-0.7,7.5q-0.1,1.7 -1.6,1.7l-1.8,0q-1.5,0 -1.6,-1.7l-0.7,-7.5q-0.1,-1.2 -1.3,-1.4q-1.3,-0.2 -0.9,-2.1l1.15,-4.8q0.35,-1.4 1.65,-1.4z M423.25,330.1a2.85,2.85 0 1,0 5.7,0a2.85,2.85 0 1,0 -5.7,0zM423.5,334.05l5.2,0q1.3,0 1.65,1.4l1.15,4.8q0.4,1.9 -0.9,2.1q-1.2,0.2 -1.3,1.4l-0.7,7.5q-0.1,1.7 -1.6,1.7l-1.8,0q-1.5,0 -1.6,-1.7l-0.7,-7.5q-0.1,-1.2 -1.3,-1.4q-1.3,-0.2 -0.9,-2.1l1.15,-4.8q0.35,-1.4 1.65,-1.4z M441.79,330.1a2.85,2.85 0 1,0 5.7,0a2.85,2.85 0 1,0 -5.7,0zM442.04,334.05l5.2,0q1.3,0 1.65,1.4l1.15,4.8q0.4,1.9 -0.9,2.1q-1.2,0.2 -1.3,1.4l-0.7,7.5q-0.1,1.7 -1.6,1.7l-1.8,0q-1.5,0 -1.6,-1.7l-0.7,-7.5q-0.1,-1.2 -1.3,-1.4q-1.3,-0.2 -0.9,-2.1l1.15,-4.8q0.35,-1.4 1.65,-1.4z M460.33,330.1a2.85,2.85 0 1,0 5.7,0a2.85,2.85 0 1,0 -5.7,0zM460.58,334.05l5.2,0q1.3,0 1.65,1.4l1.15,4.8q0.4,1.9 -0.9,2.1q-1.2,0.2 -1.3,1.4l-0.7,7.5q-0.1,1.7 -1.6,1.7l-1.8,0q-1.5,0 -1.6,-1.7l-0.7,-7.5q-0.1,-1.2 -1.3,-1.4q-1.3,-0.2 -0.9,-2.1l1.15,-4.8q0.35,-1.4 1.65,-1.4z M478.88,330.1a2.85,2.85 0 1,0 5.7,0a2.85,2.85 0 1,0 -5.7,0zM479.13,334.05l5.2,0q1.3,0 1.65,1.4l1.15,4.8q0.4,1.9 -0.9,2.1q-1.2,0.2 -1.3,1.4l-0.7,7.5q-0.1,1.7 -1.6,1.7l-1.8,0q-1.5,0 -1.6,-1.7l-0.7,-7.5q-0.1,-1.2 -1.3,-1.4q-1.3,-0.2 -0.9,-2.1l1.15,-4.8q0.35,-1.4 1.65,-1.4z M497.43,330.1a2.85,2.85 0 1,0 5.7,0a2.85,2.85 0 1,0 -5.7,0zM497.68,334.05l5.2,0q1.3,0 1.65,1.4l1.15,4.8q0.4,1.9 -0.9,2.1q-1.2,0.2 -1.3,1.4l-0.7,7.5q-0.1,1.7 -1.6,1.7l-1.8,0q-1.5,0 -1.6,-1.7l-0.7,-7.5q-0.1,-1.2 -1.3,-1.4q-1.3,-0.2 -0.9,-2.1l1.15,-4.8q0.35,-1.4 1.65,-1.4z M515.97,330.1a2.85,2.85 0 1,0 5.7,0a2.85,2.85 0 1,0 -5.7,0zM516.22,334.05l5.2,0q1.3,0 1.65,1.4l1.15,4.8q0.4,1.9 -0.9,2.1q-1.2,0.2 -1.3,1.4l-0.7,7.5q-0.1,1.7 -1.6,1.7l-1.8,0q-1.5,0 -1.6,-1.7l-0.7,-7.5q-0.1,-1.2 -1.3,-1.4q-1.3,-0.2 -0.9,-2.1l1.15,-4.8q0.35,-1.4 1.65,-1.4z M534.51,330.1a2.85,2.85 0 1,0 5.7,0a2.85,2.85 0 1,0 -5.7,0zM534.76,334.05l5.2,0q1.3,0 1.65,1.4l1.15,4.8q0.4,1.9 -0.9,2.1q-1.2,0.2 -1.3,1.4l-0.7,7.5q-0.1,1.7 -1.6,1.7l-1.8,0q-1.5,0 -1.6,-1.7l-0.7,-7.5q-0.1,-1.2 -1.3,-1.4q-1.3,-0.2 -0.9,-2.1l1.15,-4.8q0.35,-1.4 1.65,-1.4z M553.06,330.1a2.85,2.85 0 1,0 5.7,0a2.85,2.85 0 1,0 -5.7,0zM553.31,334.05l5.2,0q1.3,0 1.65,1.4l1.15,4.8q0.4,1.9 -0.9,2.1q-1.2,0.2 -1.3,1.4l-0.7,7.5q-0.1,1.7 -1.6,1.7l-1.8,0q-1.5,0 -1.6,-1.7l-0.7,-7.5q-0.1,-1.2 -1.3,-1.4q-1.3,-0.2 -0.9,-2.1l1.15,-4.8q0.35,-1.4 1.65,-1.4z M571.61,330.1a2.85,2.85 0 1,0 5.7,0a2.85,2.85 0 1,0 -5.7,0zM571.86,334.05l5.2,0q1.3,0 1.65,1.4l1.15,4.8q0.4,1.9 -0.9,2.1q-1.2,0.2 -1.3,1.4l-0.7,7.5q-0.1,1.7 -1.6,1.7l-1.8,0q-1.5,0 -1.6,-1.7l-0.7,-7.5q-0.1,-1.2 -1.3,-1.4q-1.3,-0.2 -0.9,-2.1l1.15,-4.8q0.35,-1.4 1.65,-1.4z M590.15,330.1a2.85,2.85 0 1,0 5.7,0a2.85,2.85 0 1,0 -5.7,0zM590.4,334.05l5.2,0q1.3,0 1.65,1.4l1.15,4.8q0.4,1.9 -0.9,2.1q-1.2,0.2 -1.3,1.4l-0.7,7.5q-0.1,1.7 -1.6,1.7l-1.8,0q-1.5,0 -1.6,-1.7l-0.7,-7.5q-0.1,-1.2 -1.3,-1.4q-1.3,-0.2 -0.9,-2.1l1.15,-4.8q0.35,-1.4 1.65,-1.4z M608.7,330.1a2.85,2.85 0 1,0 5.7,0a2.85,2.85 0 1,0 -5.7,0zM608.95,334.05l5.2,0q1.3,0 1.65,1.4l1.15,4.8q0.4,1.9 -0.9,2.1q-1.2,0.2 -1.3,1.4l-0.7,7.5q-0.1,1.7 -1.6,1.7l-1.8,0q-1.5,0 -1.6,-1.7l-0.7,-7.5q-0.1,-1.2 -1.3,-1.4q-1.3,-0.2 -0.9,-2.1l1.15,-4.8q0.35,-1.4 1.65,-1.4z M627.24,330.1a2.85,2.85 0 1,0 5.7,0a2.85,2.85 0 1,0 -5.7,0zM627.49,334.05l5.2,0q1.3,0 1.65,1.4l1.15,4.8q0.4,1.9 -0.9,2.1q-1.2,0.2 -1.3,1.4l-0.7,7.5q-0.1,1.7 -1.6,1.7l-1.8,0q-1.5,0 -1.6,-1.7l-0.7,-7.5q-0.1,-1.2 -1.3,-1.4q-1.3,-0.2 -0.9,-2.1l1.15,-4.8q0.35,-1.4 1.65,-1.4z M645.78,330.1a2.85,2.85 0 1,0 5.7,0a2.85,2.85 0 1,0 -5.7,0zM646.03,334.05l5.2,0q1.3,0 1.65,1.4l1.15,4.8q0.4,1.9 -0.9,2.1q-1.2,0.2 -1.3,1.4l-0.7,7.5q-0.1,1.7 -1.6,1.7l-1.8,0q-1.5,0 -1.6,-1.7l-0.7,-7.5q-0.1,-1.2 -1.3,-1.4q-1.3,-0.2 -0.9,-2.1l1.15,-4.8q0.35,-1.4 1.65,-1.4z M664.33,330.1a2.85,2.85 0 1,0 5.7,0a2.85,2.85 0 1,0 -5.7,0zM664.58,334.05l5.2,0q1.3,0 1.65,1.4l1.15,4.8q0.4,1.9 -0.9,2.1q-1.2,0.2 -1.3,1.4l-0.7,7.5q-0.1,1.7 -1.6,1.7l-1.8,0q-1.5,0 -1.6,-1.7l-0.7,-7.5q-0.1,-1.2 -1.3,-1.4q-1.3,-0.2 -0.9,-2.1l1.15,-4.8q0.35,-1.4 1.65,-1.4z M682.88,330.1a2.85,2.85 0 1,0 5.7,0a2.85,2.85 0 1,0 -5.7,0zM683.12,334.05l5.2,0q1.3,0 1.65,1.4l1.15,4.8q0.4,1.9 -0.9,2.1q-1.2,0.2 -1.3,1.4l-0.7,7.5q-0.1,1.7 -1.6,1.7l-1.8,0q-1.5,0 -1.6,-1.7l-0.7,-7.5q-0.1,-1.2 -1.3,-1.4q-1.3,-0.2 -0.9,-2.1l1.15,-4.8q0.35,-1.4 1.65,-1.4z M701.42,330.1a2.85,2.85 0 1,0 5.7,0a2.85,2.85 0 1,0 -5.7,0zM701.67,334.05l5.2,0q1.3,0 1.65,1.4l1.15,4.8q0.4,1.9 -0.9,2.1q-1.2,0.2 -1.3,1.4l-0.7,7.5q-0.1,1.7 -1.6,1.7l-1.8,0q-1.5,0 -1.6,-1.7l-0.7,-7.5q-0.1,-1.2 -1.3,-1.4q-1.3,-0.2 -0.9,-2.1l1.15,-4.8q0.35,-1.4 1.65,-1.4z M719.97,330.1a2.85,2.85 0 1,0 5.7,0a2.85,2.85 0 1,0 -5.7,0zM720.22,334.05l5.2,0q1.3,0 1.65,1.4l1.15,4.8q0.4,1.9 -0.9,2.1q-1.2,0.2 -1.3,1.4l-0.7,7.5q-0.1,1.7 -1.6,1.7l-1.8,0q-1.5,0 -1.6,-1.7l-0.7,-7.5q-0.1,-1.2 -1.3,-1.4q-1.3,-0.2 -0.9,-2.1l1.15,-4.8q0.35,-1.4 1.65,-1.4z M738.51,330.1a2.85,2.85 0 1,0 5.7,0a2.85,2.85 0 1,0 -5.7,0zM738.76,334.05l5.2,0q1.3,0 1.65,1.4l1.15,4.8q0.4,1.9 -0.9,2.1q-1.2,0.2 -1.3,1.4l-0.7,7.5q-0.1,1.7 -1.6,1.7l-1.8,0q-1.5,0 -1.6,-1.7l-0.7,-7.5q-0.1,-1.2 -1.3,-1.4q-1.3,-0.2 -0.9,-2.1l1.15,-4.8q0.35,-1.4 1.65,-1.4z M757.05,330.1a2.85,2.85 0 1,0 5.7,0a2.85,2.85 0 1,0 -5.7,0zM757.3,334.05l5.2,0q1.3,0 1.65,1.4l1.15,4.8q0.4,1.9 -0.9,2.1q-1.2,0.2 -1.3,1.4l-0.7,7.5q-0.1,1.7 -1.6,1.7l-1.8,0q-1.5,0 -1.6,-1.7l-0.7,-7.5q-0.1,-1.2 -1.3,-1.4q-1.3,-0.2 -0.9,-2.1l1.15,-4.8q0.35,-1.4 1.65,-1.4z M775.6,330.1a2.85,2.85 0 1,0 5.7,0a2.85,2.85 0 1,0 -5.7,0zM775.85,334.05l5.2,0q1.3,0 1.65,1.4l1.15,4.8q0.4,1.9 -0.9,2.1q-1.2,0.2 -1.3,1.4l-0.7,7.5q-0.1,1.7 -1.6,1.7l-1.8,0q-1.5,0 -1.6,-1.7l-0.7,-7.5q-0.1,-1.2 -1.3,-1.4q-1.3,-0.2 -0.9,-2.1l1.15,-4.8q0.35,-1.4 1.65,-1.4z M794.15,330.1a2.85,2.85 0 1,0 5.7,0a2.85,2.85 0 1,0 -5.7,0zM794.4,334.05l5.2,0q1.3,0 1.65,1.4l1.15,4.8q0.4,1.9 -0.9,2.1q-1.2,0.2 -1.3,1.4l-0.7,7.5q-0.1,1.7 -1.6,1.7l-1.8,0q-1.5,0 -1.6,-1.7l-0.7,-7.5q-0.1,-1.2 -1.3,-1.4q-1.3,-0.2 -0.9,-2.1l1.15,-4.8q0.35,-1.4 1.65,-1.4z M812.69,330.1a2.85,2.85 0 1,0 5.7,0a2.85,2.85 0 1,0 -5.7,0zM812.94,334.05l5.2,0q1.3,0 1.65,1.4l1.15,4.8q0.4,1.9 -0.9,2.1q-1.2,0.2 -1.3,1.4l-0.7,7.5q-0.1,1.7 -1.6,1.7l-1.8,0q-1.5,0 -1.6,-1.7l-0.7,-7.5q-0.1,-1.2 -1.3,-1.4q-1.3,-0.2 -0.9,-2.1l1.15,-4.8q0.35,-1.4 1.65,-1.4z M831.24,330.1a2.85,2.85 0 1,0 5.7,0a2.85,2.85 0 1,0 -5.7,0zM831.49,334.05l5.2,0q1.3,0 1.65,1.4l1.15,4.8q0.4,1.9 -0.9,2.1q-1.2,0.2 -1.3,1.4l-0.7,7.5q-0.1,1.7 -1.6,1.7l-1.8,0q-1.5,0 -1.6,-1.7l-0.7,-7.5q-0.1,-1.2 -1.3,-1.4q-1.3,-0.2 -0.9,-2.1l1.15,-4.8q0.35,-1.4 1.65,-1.4z M849.78,330.1a2.85,2.85 0 1,0 5.7,0a2.85,2.85 0 1,0 -5.7,0zM850.03,334.05l5.2,0q1.3,0 1.65,1.4l1.15,4.8q0.4,1.9 -0.9,2.1q-1.2,0.2 -1.3,1.4l-0.7,7.5q-0.1,1.7 -1.6,1.7l-1.8,0q-1.5,0 -1.6,-1.7l-0.7,-7.5q-0.1,-1.2 -1.3,-1.4q-1.3,-0.2 -0.9,-2.1l1.15,-4.8q0.35,-1.4 1.65,-1.4z M868.33,330.1a2.85,2.85 0 1,0 5.7,0a2.85,2.85 0 1,0 -5.7,0zM868.58,334.05l5.2,0q1.3,0 1.65,1.4l1.15,4.8q0.4,1.9 -0.9,2.1q-1.2,0.2 -1.3,1.4l-0.7,7.5q-0.1,1.7 -1.6,1.7l-1.8,0q-1.5,0 -1.6,-1.7l-0.7,-7.5q-0.1,-1.2 -1.3,-1.4q-1.3,-0.2 -0.9,-2.1l1.15,-4.8q0.35,-1.4 1.65,-1.4z M886.87,330.1a2.85,2.85 0 1,0 5.7,0a2.85,2.85 0 1,0 -5.7,0zM887.12,334.05l5.2,0q1.3,0 1.65,1.4l1.15,4.8q0.4,1.9 -0.9,2.1q-1.2,0.2 -1.3,1.4l-0.7,7.5q-0.1,1.7 -1.6,1.7l-1.8,0q-1.5,0 -1.6,-1.7l-0.7,-7.5q-0.1,-1.2 -1.3,-1.4q-1.3,-0.2 -0.9,-2.1l1.15,-4.8q0.35,-1.4 1.65,-1.4z M404.7,363.27a2.85,2.85 0 1,0 5.7,0a2.85,2.85 0 1,0 -5.7,0zM404.95,367.22l5.2,0q1.3,0 1.65,1.4l1.15,4.8q0.4,1.9 -0.9,2.1q-1.2,0.2 -1.3,1.4l-0.7,7.5q-0.1,1.7 -1.6,1.7l-1.8,0q-1.5,0 -1.6,-1.7l-0.7,-7.5q-0.1,-1.2 -1.3,-1.4q-1.3,-0.2 -0.9,-2.1l1.15,-4.8q0.35,-1.4 1.65,-1.4z M423.25,363.27a2.85,2.85 0 1,0 5.7,0a2.85,2.85 0 1,0 -5.7,0zM423.5,367.22l5.2,0q1.3,0 1.65,1.4l1.15,4.8q0.4,1.9 -0.9,2.1q-1.2,0.2 -1.3,1.4l-0.7,7.5q-0.1,1.7 -1.6,1.7l-1.8,0q-1.5,0 -1.6,-1.7l-0.7,-7.5q-0.1,-1.2 -1.3,-1.4q-1.3,-0.2 -0.9,-2.1l1.15,-4.8q0.35,-1.4 1.65,-1.4z M441.79,363.27a2.85,2.85 0 1,0 5.7,0a2.85,2.85 0 1,0 -5.7,0zM442.04,367.22l5.2,0q1.3,0 1.65,1.4l1.15,4.8q0.4,1.9 -0.9,2.1q-1.2,0.2 -1.3,1.4l-0.7,7.5q-0.1,1.7 -1.6,1.7l-1.8,0q-1.5,0 -1.6,-1.7l-0.7,-7.5q-0.1,-1.2 -1.3,-1.4q-1.3,-0.2 -0.9,-2.1l1.15,-4.8q0.35,-1.4 1.65,-1.4z M460.33,363.27a2.85,2.85 0 1,0 5.7,0a2.85,2.85 0 1,0 -5.7,0zM460.58,367.22l5.2,0q1.3,0 1.65,1.4l1.15,4.8q0.4,1.9 -0.9,2.1q-1.2,0.2 -1.3,1.4l-0.7,7.5q-0.1,1.7 -1.6,1.7l-1.8,0q-1.5,0 -1.6,-1.7l-0.7,-7.5q-0.1,-1.2 -1.3,-1.4q-1.3,-0.2 -0.9,-2.1l1.15,-4.8q0.35,-1.4 1.65,-1.4z M478.88,363.27a2.85,2.85 0 1,0 5.7,0a2.85,2.85 0 1,0 -5.7,0zM479.13,367.22l5.2,0q1.3,0 1.65,1.4l1.15,4.8q0.4,1.9 -0.9,2.1q-1.2,0.2 -1.3,1.4l-0.7,7.5q-0.1,1.7 -1.6,1.7l-1.8,0q-1.5,0 -1.6,-1.7l-0.7,-7.5q-0.1,-1.2 -1.3,-1.4q-1.3,-0.2 -0.9,-2.1l1.15,-4.8q0.35,-1.4 1.65,-1.4z M497.43,363.27a2.85,2.85 0 1,0 5.7,0a2.85,2.85 0 1,0 -5.7,0zM497.68,367.22l5.2,0q1.3,0 1.65,1.4l1.15,4.8q0.4,1.9 -0.9,2.1q-1.2,0.2 -1.3,1.4l-0.7,7.5q-0.1,1.7 -1.6,1.7l-1.8,0q-1.5,0 -1.6,-1.7l-0.7,-7.5q-0.1,-1.2 -1.3,-1.4q-1.3,-0.2 -0.9,-2.1l1.15,-4.8q0.35,-1.4 1.65,-1.4z M515.97,363.27a2.85,2.85 0 1,0 5.7,0a2.85,2.85 0 1,0 -5.7,0zM516.22,367.22l5.2,0q1.3,0 1.65,1.4l1.15,4.8q0.4,1.9 -0.9,2.1q-1.2,0.2 -1.3,1.4l-0.7,7.5q-0.1,1.7 -1.6,1.7l-1.8,0q-1.5,0 -1.6,-1.7l-0.7,-7.5q-0.1,-1.2 -1.3,-1.4q-1.3,-0.2 -0.9,-2.1l1.15,-4.8q0.35,-1.4 1.65,-1.4z M534.51,363.27a2.85,2.85 0 1,0 5.7,0a2.85,2.85 0 1,0 -5.7,0zM534.76,367.22l5.2,0q1.3,0 1.65,1.4l1.15,4.8q0.4,1.9 -0.9,2.1q-1.2,0.2 -1.3,1.4l-0.7,7.5q-0.1,1.7 -1.6,1.7l-1.8,0q-1.5,0 -1.6,-1.7l-0.7,-7.5q-0.1,-1.2 -1.3,-1.4q-1.3,-0.2 -0.9,-2.1l1.15,-4.8q0.35,-1.4 1.65,-1.4z M553.06,363.27a2.85,2.85 0 1,0 5.7,0a2.85,2.85 0 1,0 -5.7,0zM553.31,367.22l5.2,0q1.3,0 1.65,1.4l1.15,4.8q0.4,1.9 -0.9,2.1q-1.2,0.2 -1.3,1.4l-0.7,7.5q-0.1,1.7 -1.6,1.7l-1.8,0q-1.5,0 -1.6,-1.7l-0.7,-7.5q-0.1,-1.2 -1.3,-1.4q-1.3,-0.2 -0.9,-2.1l1.15,-4.8q0.35,-1.4 1.65,-1.4z M571.61,363.27a2.85,2.85 0 1,0 5.7,0a2.85,2.85 0 1,0 -5.7,0zM571.86,367.22l5.2,0q1.3,0 1.65,1.4l1.15,4.8q0.4,1.9 -0.9,2.1q-1.2,0.2 -1.3,1.4l-0.7,7.5q-0.1,1.7 -1.6,1.7l-1.8,0q-1.5,0 -1.6,-1.7l-0.7,-7.5q-0.1,-1.2 -1.3,-1.4q-1.3,-0.2 -0.9,-2.1l1.15,-4.8q0.35,-1.4 1.65,-1.4z M590.15,363.27a2.85,2.85 0 1,0 5.7,0a2.85,2.85 0 1,0 -5.7,0zM590.4,367.22l5.2,0q1.3,0 1.65,1.4l1.15,4.8q0.4,1.9 -0.9,2.1q-1.2,0.2 -1.3,1.4l-0.7,7.5q-0.1,1.7 -1.6,1.7l-1.8,0q-1.5,0 -1.6,-1.7l-0.7,-7.5q-0.1,-1.2 -1.3,-1.4q-1.3,-0.2 -0.9,-2.1l1.15,-4.8q0.35,-1.4 1.65,-1.4z M608.7,363.27a2.85,2.85 0 1,0 5.7,0a2.85,2.85 0 1,0 -5.7,0zM608.95,367.22l5.2,0q1.3,0 1.65,1.4l1.15,4.8q0.4,1.9 -0.9,2.1q-1.2,0.2 -1.3,1.4l-0.7,7.5q-0.1,1.7 -1.6,1.7l-1.8,0q-1.5,0 -1.6,-1.7l-0.7,-7.5q-0.1,-1.2 -1.3,-1.4q-1.3,-0.2 -0.9,-2.1l1.15,-4.8q0.35,-1.4 1.65,-1.4z M627.24,363.27a2.85,2.85 0 1,0 5.7,0a2.85,2.85 0 1,0 -5.7,0zM627.49,367.22l5.2,0q1.3,0 1.65,1.4l1.15,4.8q0.4,1.9 -0.9,2.1q-1.2,0.2 -1.3,1.4l-0.7,7.5q-0.1,1.7 -1.6,1.7l-1.8,0q-1.5,0 -1.6,-1.7l-0.7,-7.5q-0.1,-1.2 -1.3,-1.4q-1.3,-0.2 -0.9,-2.1l1.15,-4.8q0.35,-1.4 1.65,-1.4z M645.78,363.27a2.85,2.85 0 1,0 5.7,0a2.85,2.85 0 1,0 -5.7,0zM646.03,367.22l5.2,0q1.3,0 1.65,1.4l1.15,4.8q0.4,1.9 -0.9,2.1q-1.2,0.2 -1.3,1.4l-0.7,7.5q-0.1,1.7 -1.6,1.7l-1.8,0q-1.5,0 -1.6,-1.7l-0.7,-7.5q-0.1,-1.2 -1.3,-1.4q-1.3,-0.2 -0.9,-2.1l1.15,-4.8q0.35,-1.4 1.65,-1.4z M664.33,363.27a2.85,2.85 0 1,0 5.7,0a2.85,2.85 0 1,0 -5.7,0zM664.58,367.22l5.2,0q1.3,0 1.65,1.4l1.15,4.8q0.4,1.9 -0.9,2.1q-1.2,0.2 -1.3,1.4l-0.7,7.5q-0.1,1.7 -1.6,1.7l-1.8,0q-1.5,0 -1.6,-1.7l-0.7,-7.5q-0.1,-1.2 -1.3,-1.4q-1.3,-0.2 -0.9,-2.1l1.15,-4.8q0.35,-1.4 1.65,-1.4z M682.88,363.27a2.85,2.85 0 1,0 5.7,0a2.85,2.85 0 1,0 -5.7,0zM683.12,367.22l5.2,0q1.3,0 1.65,1.4l1.15,4.8q0.4,1.9 -0.9,2.1q-1.2,0.2 -1.3,1.4l-0.7,7.5q-0.1,1.7 -1.6,1.7l-1.8,0q-1.5,0 -1.6,-1.7l-0.7,-7.5q-0.1,-1.2 -1.3,-1.4q-1.3,-0.2 -0.9,-2.1l1.15,-4.8q0.35,-1.4 1.65,-1.4z M701.42,363.27a2.85,2.85 0 1,0 5.7,0a2.85,2.85 0 1,0 -5.7,0zM701.67,367.22l5.2,0q1.3,0 1.65,1.4l1.15,4.8q0.4,1.9 -0.9,2.1q-1.2,0.2 -1.3,1.4l-0.7,7.5q-0.1,1.7 -1.6,1.7l-1.8,0q-1.5,0 -1.6,-1.7l-0.7,-7.5q-0.1,-1.2 -1.3,-1.4q-1.3,-0.2 -0.9,-2.1l1.15,-4.8q0.35,-1.4 1.65,-1.4z M719.97,363.27a2.85,2.85 0 1,0 5.7,0a2.85,2.85 0 1,0 -5.7,0zM720.22,367.22l5.2,0q1.3,0 1.65,1.4l1.15,4.8q0.4,1.9 -0.9,2.1q-1.2,0.2 -1.3,1.4l-0.7,7.5q-0.1,1.7 -1.6,1.7l-1.8,0q-1.5,0 -1.6,-1.7l-0.7,-7.5q-0.1,-1.2 -1.3,-1.4q-1.3,-0.2 -0.9,-2.1l1.15,-4.8q0.35,-1.4 1.65,-1.4z M738.51,363.27a2.85,2.85 0 1,0 5.7,0a2.85,2.85 0 1,0 -5.7,0zM738.76,367.22l5.2,0q1.3,0 1.65,1.4l1.15,4.8q0.4,1.9 -0.9,2.1q-1.2,0.2 -1.3,1.4l-0.7,7.5q-0.1,1.7 -1.6,1.7l-1.8,0q-1.5,0 -1.6,-1.7l-0.7,-7.5q-0.1,-1.2 -1.3,-1.4q-1.3,-0.2 -0.9,-2.1l1.15,-4.8q0.35,-1.4 1.65,-1.4z M757.05,363.27a2.85,2.85 0 1,0 5.7,0a2.85,2.85 0 1,0 -5.7,0zM757.3,367.22l5.2,0q1.3,0 1.65,1.4l1.15,4.8q0.4,1.9 -0.9,2.1q-1.2,0.2 -1.3,1.4l-0.7,7.5q-0.1,1.7 -1.6,1.7l-1.8,0q-1.5,0 -1.6,-1.7l-0.7,-7.5q-0.1,-1.2 -1.3,-1.4q-1.3,-0.2 -0.9,-2.1l1.15,-4.8q0.35,-1.4 1.65,-1.4z M775.6,363.27a2.85,2.85 0 1,0 5.7,0a2.85,2.85 0 1,0 -5.7,0zM775.85,367.22l5.2,0q1.3,0 1.65,1.4l1.15,4.8q0.4,1.9 -0.9,2.1q-1.2,0.2 -1.3,1.4l-0.7,7.5q-0.1,1.7 -1.6,1.7l-1.8,0q-1.5,0 -1.6,-1.7l-0.7,-7.5q-0.1,-1.2 -1.3,-1.4q-1.3,-0.2 -0.9,-2.1l1.15,-4.8q0.35,-1.4 1.65,-1.4z M794.15,363.27a2.85,2.85 0 1,0 5.7,0a2.85,2.85 0 1,0 -5.7,0zM794.4,367.22l5.2,0q1.3,0 1.65,1.4l1.15,4.8q0.4,1.9 -0.9,2.1q-1.2,0.2 -1.3,1.4l-0.7,7.5q-0.1,1.7 -1.6,1.7l-1.8,0q-1.5,0 -1.6,-1.7l-0.7,-7.5q-0.1,-1.2 -1.3,-1.4q-1.3,-0.2 -0.9,-2.1l1.15,-4.8q0.35,-1.4 1.65,-1.4z M812.69,363.27a2.85,2.85 0 1,0 5.7,0a2.85,2.85 0 1,0 -5.7,0zM812.94,367.22l5.2,0q1.3,0 1.65,1.4l1.15,4.8q0.4,1.9 -0.9,2.1q-1.2,0.2 -1.3,1.4l-0.7,7.5q-0.1,1.7 -1.6,1.7l-1.8,0q-1.5,0 -1.6,-1.7l-0.7,-7.5q-0.1,-1.2 -1.3,-1.4q-1.3,-0.2 -0.9,-2.1l1.15,-4.8q0.35,-1.4 1.65,-1.4z M831.24,363.27a2.85,2.85 0 1,0 5.7,0a2.85,2.85 0 1,0 -5.7,0zM831.49,367.22l5.2,0q1.3,0 1.65,1.4l1.15,4.8q0.4,1.9 -0.9,2.1q-1.2,0.2 -1.3,1.4l-0.7,7.5q-0.1,1.7 -1.6,1.7l-1.8,0q-1.5,0 -1.6,-1.7l-0.7,-7.5q-0.1,-1.2 -1.3,-1.4q-1.3,-0.2 -0.9,-2.1l1.15,-4.8q0.35,-1.4 1.65,-1.4z M849.78,363.27a2.85,2.85 0 1,0 5.7,0a2.85,2.85 0 1,0 -5.7,0zM850.03,367.22l5.2,0q1.3,0 1.65,1.4l1.15,4.8q0.4,1.9 -0.9,2.1q-1.2,0.2 -1.3,1.4l-0.7,7.5q-0.1,1.7 -1.6,1.7l-1.8,0q-1.5,0 -1.6,-1.7l-0.7,-7.5q-0.1,-1.2 -1.3,-1.4q-1.3,-0.2 -0.9,-2.1l1.15,-4.8q0.35,-1.4 1.65,-1.4z M868.33,363.27a2.85,2.85 0 1,0 5.7,0a2.85,2.85 0 1,0 -5.7,0zM868.58,367.22l5.2,0q1.3,0 1.65,1.4l1.15,4.8q0.4,1.9 -0.9,2.1q-1.2,0.2 -1.3,1.4l-0.7,7.5q-0.1,1.7 -1.6,1.7l-1.8,0q-1.5,0 -1.6,-1.7l-0.7,-7.5q-0.1,-1.2 -1.3,-1.4q-1.3,-0.2 -0.9,-2.1l1.15,-4.8q0.35,-1.4 1.65,-1.4z M886.87,363.27a2.85,2.85 0 1,0 5.7,0a2.85,2.85 0 1,0 -5.7,0zM887.12,367.22l5.2,0q1.3,0 1.65,1.4l1.15,4.8q0.4,1.9 -0.9,2.1q-1.2,0.2 -1.3,1.4l-0.7,7.5q-0.1,1.7 -1.6,1.7l-1.8,0q-1.5,0 -1.6,-1.7l-0.7,-7.5q-0.1,-1.2 -1.3,-1.4q-1.3,-0.2 -0.9,-2.1l1.15,-4.8q0.35,-1.4 1.65,-1.4z M404.7,396.44a2.85,2.85 0 1,0 5.7,0a2.85,2.85 0 1,0 -5.7,0zM404.95,400.39l5.2,0q1.3,0 1.65,1.4l1.15,4.8q0.4,1.9 -0.9,2.1q-1.2,0.2 -1.3,1.4l-0.7,7.5q-0.1,1.7 -1.6,1.7l-1.8,0q-1.5,0 -1.6,-1.7l-0.7,-7.5q-0.1,-1.2 -1.3,-1.4q-1.3,-0.2 -0.9,-2.1l1.15,-4.8q0.35,-1.4 1.65,-1.4z M423.25,396.44a2.85,2.85 0 1,0 5.7,0a2.85,2.85 0 1,0 -5.7,0zM423.5,400.39l5.2,0q1.3,0 1.65,1.4l1.15,4.8q0.4,1.9 -0.9,2.1q-1.2,0.2 -1.3,1.4l-0.7,7.5q-0.1,1.7 -1.6,1.7l-1.8,0q-1.5,0 -1.6,-1.7l-0.7,-7.5q-0.1,-1.2 -1.3,-1.4q-1.3,-0.2 -0.9,-2.1l1.15,-4.8q0.35,-1.4 1.65,-1.4z M441.79,396.44a2.85,2.85 0 1,0 5.7,0a2.85,2.85 0 1,0 -5.7,0zM442.04,400.39l5.2,0q1.3,0 1.65,1.4l1.15,4.8q0.4,1.9 -0.9,2.1q-1.2,0.2 -1.3,1.4l-0.7,7.5q-0.1,1.7 -1.6,1.7l-1.8,0q-1.5,0 -1.6,-1.7l-0.7,-7.5q-0.1,-1.2 -1.3,-1.4q-1.3,-0.2 -0.9,-2.1l1.15,-4.8q0.35,-1.4 1.65,-1.4z M460.33,396.44a2.85,2.85 0 1,0 5.7,0a2.85,2.85 0 1,0 -5.7,0zM460.58,400.39l5.2,0q1.3,0 1.65,1.4l1.15,4.8q0.4,1.9 -0.9,2.1q-1.2,0.2 -1.3,1.4l-0.7,7.5q-0.1,1.7 -1.6,1.7l-1.8,0q-1.5,0 -1.6,-1.7l-0.7,-7.5q-0.1,-1.2 -1.3,-1.4q-1.3,-0.2 -0.9,-2.1l1.15,-4.8q0.35,-1.4 1.65,-1.4z M478.88,396.44a2.85,2.85 0 1,0 5.7,0a2.85,2.85 0 1,0 -5.7,0zM479.13,400.39l5.2,0q1.3,0 1.65,1.4l1.15,4.8q0.4,1.9 -0.9,2.1q-1.2,0.2 -1.3,1.4l-0.7,7.5q-0.1,1.7 -1.6,1.7l-1.8,0q-1.5,0 -1.6,-1.7l-0.7,-7.5q-0.1,-1.2 -1.3,-1.4q-1.3,-0.2 -0.9,-2.1l1.15,-4.8q0.35,-1.4 1.65,-1.4z M497.43,396.44a2.85,2.85 0 1,0 5.7,0a2.85,2.85 0 1,0 -5.7,0zM497.68,400.39l5.2,0q1.3,0 1.65,1.4l1.15,4.8q0.4,1.9 -0.9,2.1q-1.2,0.2 -1.3,1.4l-0.7,7.5q-0.1,1.7 -1.6,1.7l-1.8,0q-1.5,0 -1.6,-1.7l-0.7,-7.5q-0.1,-1.2 -1.3,-1.4q-1.3,-0.2 -0.9,-2.1l1.15,-4.8q0.35,-1.4 1.65,-1.4z M515.97,396.44a2.85,2.85 0 1,0 5.7,0a2.85,2.85 0 1,0 -5.7,0zM516.22,400.39l5.2,0q1.3,0 1.65,1.4l1.15,4.8q0.4,1.9 -0.9,2.1q-1.2,0.2 -1.3,1.4l-0.7,7.5q-0.1,1.7 -1.6,1.7l-1.8,0q-1.5,0 -1.6,-1.7l-0.7,-7.5q-0.1,-1.2 -1.3,-1.4q-1.3,-0.2 -0.9,-2.1l1.15,-4.8q0.35,-1.4 1.65,-1.4z M534.51,396.44a2.85,2.85 0 1,0 5.7,0a2.85,2.85 0 1,0 -5.7,0zM534.76,400.39l5.2,0q1.3,0 1.65,1.4l1.15,4.8q0.4,1.9 -0.9,2.1q-1.2,0.2 -1.3,1.4l-0.7,7.5q-0.1,1.7 -1.6,1.7l-1.8,0q-1.5,0 -1.6,-1.7l-0.7,-7.5q-0.1,-1.2 -1.3,-1.4q-1.3,-0.2 -0.9,-2.1l1.15,-4.8q0.35,-1.4 1.65,-1.4z M553.06,396.44a2.85,2.85 0 1,0 5.7,0a2.85,2.85 0 1,0 -5.7,0zM553.31,400.39l5.2,0q1.3,0 1.65,1.4l1.15,4.8q0.4,1.9 -0.9,2.1q-1.2,0.2 -1.3,1.4l-0.7,7.5q-0.1,1.7 -1.6,1.7l-1.8,0q-1.5,0 -1.6,-1.7l-0.7,-7.5q-0.1,-1.2 -1.3,-1.4q-1.3,-0.2 -0.9,-2.1l1.15,-4.8q0.35,-1.4 1.65,-1.4z M571.61,396.44a2.85,2.85 0 1,0 5.7,0a2.85,2.85 0 1,0 -5.7,0zM571.86,400.39l5.2,0q1.3,0 1.65,1.4l1.15,4.8q0.4,1.9 -0.9,2.1q-1.2,0.2 -1.3,1.4l-0.7,7.5q-0.1,1.7 -1.6,1.7l-1.8,0q-1.5,0 -1.6,-1.7l-0.7,-7.5q-0.1,-1.2 -1.3,-1.4q-1.3,-0.2 -0.9,-2.1l1.15,-4.8q0.35,-1.4 1.65,-1.4z M590.15,396.44a2.85,2.85 0 1,0 5.7,0a2.85,2.85 0 1,0 -5.7,0zM590.4,400.39l5.2,0q1.3,0 1.65,1.4l1.15,4.8q0.4,1.9 -0.9,2.1q-1.2,0.2 -1.3,1.4l-0.7,7.5q-0.1,1.7 -1.6,1.7l-1.8,0q-1.5,0 -1.6,-1.7l-0.7,-7.5q-0.1,-1.2 -1.3,-1.4q-1.3,-0.2 -0.9,-2.1l1.15,-4.8q0.35,-1.4 1.65,-1.4z M608.7,396.44a2.85,2.85 0 1,0 5.7,0a2.85,2.85 0 1,0 -5.7,0zM608.95,400.39l5.2,0q1.3,0 1.65,1.4l1.15,4.8q0.4,1.9 -0.9,2.1q-1.2,0.2 -1.3,1.4l-0.7,7.5q-0.1,1.7 -1.6,1.7l-1.8,0q-1.5,0 -1.6,-1.7l-0.7,-7.5q-0.1,-1.2 -1.3,-1.4q-1.3,-0.2 -0.9,-2.1l1.15,-4.8q0.35,-1.4 1.65,-1.4z M627.24,396.44a2.85,2.85 0 1,0 5.7,0a2.85,2.85 0 1,0 -5.7,0zM627.49,400.39l5.2,0q1.3,0 1.65,1.4l1.15,4.8q0.4,1.9 -0.9,2.1q-1.2,0.2 -1.3,1.4l-0.7,7.5q-0.1,1.7 -1.6,1.7l-1.8,0q-1.5,0 -1.6,-1.7l-0.7,-7.5q-0.1,-1.2 -1.3,-1.4q-1.3,-0.2 -0.9,-2.1l1.15,-4.8q0.35,-1.4 1.65,-1.4z M645.78,396.44a2.85,2.85 0 1,0 5.7,0a2.85,2.85 0 1,0 -5.7,0zM646.03,400.39l5.2,0q1.3,0 1.65,1.4l1.15,4.8q0.4,1.9 -0.9,2.1q-1.2,0.2 -1.3,1.4l-0.7,7.5q-0.1,1.7 -1.6,1.7l-1.8,0q-1.5,0 -1.6,-1.7l-0.7,-7.5q-0.1,-1.2 -1.3,-1.4q-1.3,-0.2 -0.9,-2.1l1.15,-4.8q0.35,-1.4 1.65,-1.4z M664.33,396.44a2.85,2.85 0 1,0 5.7,0a2.85,2.85 0 1,0 -5.7,0zM664.58,400.39l5.2,0q1.3,0 1.65,1.4l1.15,4.8q0.4,1.9 -0.9,2.1q-1.2,0.2 -1.3,1.4l-0.7,7.5q-0.1,1.7 -1.6,1.7l-1.8,0q-1.5,0 -1.6,-1.7l-0.7,-7.5q-0.1,-1.2 -1.3,-1.4q-1.3,-0.2 -0.9,-2.1l1.15,-4.8q0.35,-1.4 1.65,-1.4z M682.88,396.44a2.85,2.85 0 1,0 5.7,0a2.85,2.85 0 1,0 -5.7,0zM683.12,400.39l5.2,0q1.3,0 1.65,1.4l1.15,4.8q0.4,1.9 -0.9,2.1q-1.2,0.2 -1.3,1.4l-0.7,7.5q-0.1,1.7 -1.6,1.7l-1.8,0q-1.5,0 -1.6,-1.7l-0.7,-7.5q-0.1,-1.2 -1.3,-1.4q-1.3,-0.2 -0.9,-2.1l1.15,-4.8q0.35,-1.4 1.65,-1.4z M701.42,396.44a2.85,2.85 0 1,0 5.7,0a2.85,2.85 0 1,0 -5.7,0zM701.67,400.39l5.2,0q1.3,0 1.65,1.4l1.15,4.8q0.4,1.9 -0.9,2.1q-1.2,0.2 -1.3,1.4l-0.7,7.5q-0.1,1.7 -1.6,1.7l-1.8,0q-1.5,0 -1.6,-1.7l-0.7,-7.5q-0.1,-1.2 -1.3,-1.4q-1.3,-0.2 -0.9,-2.1l1.15,-4.8q0.35,-1.4 1.65,-1.4z M719.97,396.44a2.85,2.85 0 1,0 5.7,0a2.85,2.85 0 1,0 -5.7,0zM720.22,400.39l5.2,0q1.3,0 1.65,1.4l1.15,4.8q0.4,1.9 -0.9,2.1q-1.2,0.2 -1.3,1.4l-0.7,7.5q-0.1,1.7 -1.6,1.7l-1.8,0q-1.5,0 -1.6,-1.7l-0.7,-7.5q-0.1,-1.2 -1.3,-1.4q-1.3,-0.2 -0.9,-2.1l1.15,-4.8q0.35,-1.4 1.65,-1.4z M738.51,396.44a2.85,2.85 0 1,0 5.7,0a2.85,2.85 0 1,0 -5.7,0zM738.76,400.39l5.2,0q1.3,0 1.65,1.4l1.15,4.8q0.4,1.9 -0.9,2.1q-1.2,0.2 -1.3,1.4l-0.7,7.5q-0.1,1.7 -1.6,1.7l-1.8,0q-1.5,0 -1.6,-1.7l-0.7,-7.5q-0.1,-1.2 -1.3,-1.4q-1.3,-0.2 -0.9,-2.1l1.15,-4.8q0.35,-1.4 1.65,-1.4z M757.05,396.44a2.85,2.85 0 1,0 5.7,0a2.85,2.85 0 1,0 -5.7,0zM757.3,400.39l5.2,0q1.3,0 1.65,1.4l1.15,4.8q0.4,1.9 -0.9,2.1q-1.2,0.2 -1.3,1.4l-0.7,7.5q-0.1,1.7 -1.6,1.7l-1.8,0q-1.5,0 -1.6,-1.7l-0.7,-7.5q-0.1,-1.2 -1.3,-1.4q-1.3,-0.2 -0.9,-2.1l1.15,-4.8q0.35,-1.4 1.65,-1.4z M775.6,396.44a2.85,2.85 0 1,0 5.7,0a2.85,2.85 0 1,0 -5.7,0zM775.85,400.39l5.2,0q1.3,0 1.65,1.4l1.15,4.8q0.4,1.9 -0.9,2.1q-1.2,0.2 -1.3,1.4l-0.7,7.5q-0.1,1.7 -1.6,1.7l-1.8,0q-1.5,0 -1.6,-1.7l-0.7,-7.5q-0.1,-1.2 -1.3,-1.4q-1.3,-0.2 -0.9,-2.1l1.15,-4.8q0.35,-1.4 1.65,-1.4z M794.15,396.44a2.85,2.85 0 1,0 5.7,0a2.85,2.85 0 1,0 -5.7,0zM794.4,400.39l5.2,0q1.3,0 1.65,1.4l1.15,4.8q0.4,1.9 -0.9,2.1q-1.2,0.2 -1.3,1.4l-0.7,7.5q-0.1,1.7 -1.6,1.7l-1.8,0q-1.5,0 -1.6,-1.7l-0.7,-7.5q-0.1,-1.2 -1.3,-1.4q-1.3,-0.2 -0.9,-2.1l1.15,-4.8q0.35,-1.4 1.65,-1.4z M812.69,396.44a2.85,2.85 0 1,0 5.7,0a2.85,2.85 0 1,0 -5.7,0zM812.94,400.39l5.2,0q1.3,0 1.65,1.4l1.15,4.8q0.4,1.9 -0.9,2.1q-1.2,0.2 -1.3,1.4l-0.7,7.5q-0.1,1.7 -1.6,1.7l-1.8,0q-1.5,0 -1.6,-1.7l-0.7,-7.5q-0.1,-1.2 -1.3,-1.4q-1.3,-0.2 -0.9,-2.1l1.15,-4.8q0.35,-1.4 1.65,-1.4z M831.24,396.44a2.85,2.85 0 1,0 5.7,0a2.85,2.85 0 1,0 -5.7,0zM831.49,400.39l5.2,0q1.3,0 1.65,1.4l1.15,4.8q0.4,1.9 -0.9,2.1q-1.2,0.2 -1.3,1.4l-0.7,7.5q-0.1,1.7 -1.6,1.7l-1.8,0q-1.5,0 -1.6,-1.7l-0.7,-7.5q-0.1,-1.2 -1.3,-1.4q-1.3,-0.2 -0.9,-2.1l1.15,-4.8q0.35,-1.4 1.65,-1.4z M849.78,396.44a2.85,2.85 0 1,0 5.7,0a2.85,2.85 0 1,0 -5.7,0zM850.03,400.39l5.2,0q1.3,0 1.65,1.4l1.15,4.8q0.4,1.9 -0.9,2.1q-1.2,0.2 -1.3,1.4l-0.7,7.5q-0.1,1.7 -1.6,1.7l-1.8,0q-1.5,0 -1.6,-1.7l-0.7,-7.5q-0.1,-1.2 -1.3,-1.4q-1.3,-0.2 -0.9,-2.1l1.15,-4.8q0.35,-1.4 1.65,-1.4z M868.33,396.44a2.85,2.85 0 1,0 5.7,0a2.85,2.85 0 1,0 -5.7,0zM868.58,400.39l5.2,0q1.3,0 1.65,1.4l1.15,4.8q0.4,1.9 -0.9,2.1q-1.2,0.2 -1.3,1.4l-0.7,7.5q-0.1,1.7 -1.6,1.7l-1.8,0q-1.5,0 -1.6,-1.7l-0.7,-7.5q-0.1,-1.2 -1.3,-1.4q-1.3,-0.2 -0.9,-2.1l1.15,-4.8q0.35,-1.4 1.65,-1.4z M886.87,396.44a2.85,2.85 0 1,0 5.7,0a2.85,2.85 0 1,0 -5.7,0zM887.12,400.39l5.2,0q1.3,0 1.65,1.4l1.15,4.8q0.4,1.9 -0.9,2.1q-1.2,0.2 -1.3,1.4l-0.7,7.5q-0.1,1.7 -1.6,1.7l-1.8,0q-1.5,0 -1.6,-1.7l-0.7,-7.5q-0.1,-1.2 -1.3,-1.4q-1.3,-0.2 -0.9,-2.1l1.15,-4.8q0.35,-1.4 1.65,-1.4z M404.7,429.61a2.85,2.85 0 1,0 5.7,0a2.85,2.85 0 1,0 -5.7,0zM404.95,433.56l5.2,0q1.3,0 1.65,1.4l1.15,4.8q0.4,1.9 -0.9,2.1q-1.2,0.2 -1.3,1.4l-0.7,7.5q-0.1,1.7 -1.6,1.7l-1.8,0q-1.5,0 -1.6,-1.7l-0.7,-7.5q-0.1,-1.2 -1.3,-1.4q-1.3,-0.2 -0.9,-2.1l1.15,-4.8q0.35,-1.4 1.65,-1.4z M423.25,429.61a2.85,2.85 0 1,0 5.7,0a2.85,2.85 0 1,0 -5.7,0zM423.5,433.56l5.2,0q1.3,0 1.65,1.4l1.15,4.8q0.4,1.9 -0.9,2.1q-1.2,0.2 -1.3,1.4l-0.7,7.5q-0.1,1.7 -1.6,1.7l-1.8,0q-1.5,0 -1.6,-1.7l-0.7,-7.5q-0.1,-1.2 -1.3,-1.4q-1.3,-0.2 -0.9,-2.1l1.15,-4.8q0.35,-1.4 1.65,-1.4z M441.79,429.61a2.85,2.85 0 1,0 5.7,0a2.85,2.85 0 1,0 -5.7,0zM442.04,433.56l5.2,0q1.3,0 1.65,1.4l1.15,4.8q0.4,1.9 -0.9,2.1q-1.2,0.2 -1.3,1.4l-0.7,7.5q-0.1,1.7 -1.6,1.7l-1.8,0q-1.5,0 -1.6,-1.7l-0.7,-7.5q-0.1,-1.2 -1.3,-1.4q-1.3,-0.2 -0.9,-2.1l1.15,-4.8q0.35,-1.4 1.65,-1.4z M460.33,429.61a2.85,2.85 0 1,0 5.7,0a2.85,2.85 0 1,0 -5.7,0zM460.58,433.56l5.2,0q1.3,0 1.65,1.4l1.15,4.8q0.4,1.9 -0.9,2.1q-1.2,0.2 -1.3,1.4l-0.7,7.5q-0.1,1.7 -1.6,1.7l-1.8,0q-1.5,0 -1.6,-1.7l-0.7,-7.5q-0.1,-1.2 -1.3,-1.4q-1.3,-0.2 -0.9,-2.1l1.15,-4.8q0.35,-1.4 1.65,-1.4z M478.88,429.61a2.85,2.85 0 1,0 5.7,0a2.85,2.85 0 1,0 -5.7,0zM479.13,433.56l5.2,0q1.3,0 1.65,1.4l1.15,4.8q0.4,1.9 -0.9,2.1q-1.2,0.2 -1.3,1.4l-0.7,7.5q-0.1,1.7 -1.6,1.7l-1.8,0q-1.5,0 -1.6,-1.7l-0.7,-7.5q-0.1,-1.2 -1.3,-1.4q-1.3,-0.2 -0.9,-2.1l1.15,-4.8q0.35,-1.4 1.65,-1.4z M497.43,429.61a2.85,2.85 0 1,0 5.7,0a2.85,2.85 0 1,0 -5.7,0zM497.68,433.56l5.2,0q1.3,0 1.65,1.4l1.15,4.8q0.4,1.9 -0.9,2.1q-1.2,0.2 -1.3,1.4l-0.7,7.5q-0.1,1.7 -1.6,1.7l-1.8,0q-1.5,0 -1.6,-1.7l-0.7,-7.5q-0.1,-1.2 -1.3,-1.4q-1.3,-0.2 -0.9,-2.1l1.15,-4.8q0.35,-1.4 1.65,-1.4z M515.97,429.61a2.85,2.85 0 1,0 5.7,0a2.85,2.85 0 1,0 -5.7,0zM516.22,433.56l5.2,0q1.3,0 1.65,1.4l1.15,4.8q0.4,1.9 -0.9,2.1q-1.2,0.2 -1.3,1.4l-0.7,7.5q-0.1,1.7 -1.6,1.7l-1.8,0q-1.5,0 -1.6,-1.7l-0.7,-7.5q-0.1,-1.2 -1.3,-1.4q-1.3,-0.2 -0.9,-2.1l1.15,-4.8q0.35,-1.4 1.65,-1.4z M534.51,429.61a2.85,2.85 0 1,0 5.7,0a2.85,2.85 0 1,0 -5.7,0zM534.76,433.56l5.2,0q1.3,0 1.65,1.4l1.15,4.8q0.4,1.9 -0.9,2.1q-1.2,0.2 -1.3,1.4l-0.7,7.5q-0.1,1.7 -1.6,1.7l-1.8,0q-1.5,0 -1.6,-1.7l-0.7,-7.5q-0.1,-1.2 -1.3,-1.4q-1.3,-0.2 -0.9,-2.1l1.15,-4.8q0.35,-1.4 1.65,-1.4z M553.06,429.61a2.85,2.85 0 1,0 5.7,0a2.85,2.85 0 1,0 -5.7,0zM553.31,433.56l5.2,0q1.3,0 1.65,1.4l1.15,4.8q0.4,1.9 -0.9,2.1q-1.2,0.2 -1.3,1.4l-0.7,7.5q-0.1,1.7 -1.6,1.7l-1.8,0q-1.5,0 -1.6,-1.7l-0.7,-7.5q-0.1,-1.2 -1.3,-1.4q-1.3,-0.2 -0.9,-2.1l1.15,-4.8q0.35,-1.4 1.65,-1.4z M571.61,429.61a2.85,2.85 0 1,0 5.7,0a2.85,2.85 0 1,0 -5.7,0zM571.86,433.56l5.2,0q1.3,0 1.65,1.4l1.15,4.8q0.4,1.9 -0.9,2.1q-1.2,0.2 -1.3,1.4l-0.7,7.5q-0.1,1.7 -1.6,1.7l-1.8,0q-1.5,0 -1.6,-1.7l-0.7,-7.5q-0.1,-1.2 -1.3,-1.4q-1.3,-0.2 -0.9,-2.1l1.15,-4.8q0.35,-1.4 1.65,-1.4z M590.15,429.61a2.85,2.85 0 1,0 5.7,0a2.85,2.85 0 1,0 -5.7,0zM590.4,433.56l5.2,0q1.3,0 1.65,1.4l1.15,4.8q0.4,1.9 -0.9,2.1q-1.2,0.2 -1.3,1.4l-0.7,7.5q-0.1,1.7 -1.6,1.7l-1.8,0q-1.5,0 -1.6,-1.7l-0.7,-7.5q-0.1,-1.2 -1.3,-1.4q-1.3,-0.2 -0.9,-2.1l1.15,-4.8q0.35,-1.4 1.65,-1.4z M608.7,429.61a2.85,2.85 0 1,0 5.7,0a2.85,2.85 0 1,0 -5.7,0zM608.95,433.56l5.2,0q1.3,0 1.65,1.4l1.15,4.8q0.4,1.9 -0.9,2.1q-1.2,0.2 -1.3,1.4l-0.7,7.5q-0.1,1.7 -1.6,1.7l-1.8,0q-1.5,0 -1.6,-1.7l-0.7,-7.5q-0.1,-1.2 -1.3,-1.4q-1.3,-0.2 -0.9,-2.1l1.15,-4.8q0.35,-1.4 1.65,-1.4z M627.24,429.61a2.85,2.85 0 1,0 5.7,0a2.85,2.85 0 1,0 -5.7,0zM627.49,433.56l5.2,0q1.3,0 1.65,1.4l1.15,4.8q0.4,1.9 -0.9,2.1q-1.2,0.2 -1.3,1.4l-0.7,7.5q-0.1,1.7 -1.6,1.7l-1.8,0q-1.5,0 -1.6,-1.7l-0.7,-7.5q-0.1,-1.2 -1.3,-1.4q-1.3,-0.2 -0.9,-2.1l1.15,-4.8q0.35,-1.4 1.65,-1.4z M645.78,429.61a2.85,2.85 0 1,0 5.7,0a2.85,2.85 0 1,0 -5.7,0zM646.03,433.56l5.2,0q1.3,0 1.65,1.4l1.15,4.8q0.4,1.9 -0.9,2.1q-1.2,0.2 -1.3,1.4l-0.7,7.5q-0.1,1.7 -1.6,1.7l-1.8,0q-1.5,0 -1.6,-1.7l-0.7,-7.5q-0.1,-1.2 -1.3,-1.4q-1.3,-0.2 -0.9,-2.1l1.15,-4.8q0.35,-1.4 1.65,-1.4z M664.33,429.61a2.85,2.85 0 1,0 5.7,0a2.85,2.85 0 1,0 -5.7,0zM664.58,433.56l5.2,0q1.3,0 1.65,1.4l1.15,4.8q0.4,1.9 -0.9,2.1q-1.2,0.2 -1.3,1.4l-0.7,7.5q-0.1,1.7 -1.6,1.7l-1.8,0q-1.5,0 -1.6,-1.7l-0.7,-7.5q-0.1,-1.2 -1.3,-1.4q-1.3,-0.2 -0.9,-2.1l1.15,-4.8q0.35,-1.4 1.65,-1.4z M682.88,429.61a2.85,2.85 0 1,0 5.7,0a2.85,2.85 0 1,0 -5.7,0zM683.12,433.56l5.2,0q1.3,0 1.65,1.4l1.15,4.8q0.4,1.9 -0.9,2.1q-1.2,0.2 -1.3,1.4l-0.7,7.5q-0.1,1.7 -1.6,1.7l-1.8,0q-1.5,0 -1.6,-1.7l-0.7,-7.5q-0.1,-1.2 -1.3,-1.4q-1.3,-0.2 -0.9,-2.1l1.15,-4.8q0.35,-1.4 1.65,-1.4z M701.42,429.61a2.85,2.85 0 1,0 5.7,0a2.85,2.85 0 1,0 -5.7,0zM701.67,433.56l5.2,0q1.3,0 1.65,1.4l1.15,4.8q0.4,1.9 -0.9,2.1q-1.2,0.2 -1.3,1.4l-0.7,7.5q-0.1,1.7 -1.6,1.7l-1.8,0q-1.5,0 -1.6,-1.7l-0.7,-7.5q-0.1,-1.2 -1.3,-1.4q-1.3,-0.2 -0.9,-2.1l1.15,-4.8q0.35,-1.4 1.65,-1.4z M719.97,429.61a2.85,2.85 0 1,0 5.7,0a2.85,2.85 0 1,0 -5.7,0zM720.22,433.56l5.2,0q1.3,0 1.65,1.4l1.15,4.8q0.4,1.9 -0.9,2.1q-1.2,0.2 -1.3,1.4l-0.7,7.5q-0.1,1.7 -1.6,1.7l-1.8,0q-1.5,0 -1.6,-1.7l-0.7,-7.5q-0.1,-1.2 -1.3,-1.4q-1.3,-0.2 -0.9,-2.1l1.15,-4.8q0.35,-1.4 1.65,-1.4z M738.51,429.61a2.85,2.85 0 1,0 5.7,0a2.85,2.85 0 1,0 -5.7,0zM738.76,433.56l5.2,0q1.3,0 1.65,1.4l1.15,4.8q0.4,1.9 -0.9,2.1q-1.2,0.2 -1.3,1.4l-0.7,7.5q-0.1,1.7 -1.6,1.7l-1.8,0q-1.5,0 -1.6,-1.7l-0.7,-7.5q-0.1,-1.2 -1.3,-1.4q-1.3,-0.2 -0.9,-2.1l1.15,-4.8q0.35,-1.4 1.65,-1.4z M757.05,429.61a2.85,2.85 0 1,0 5.7,0a2.85,2.85 0 1,0 -5.7,0zM757.3,433.56l5.2,0q1.3,0 1.65,1.4l1.15,4.8q0.4,1.9 -0.9,2.1q-1.2,0.2 -1.3,1.4l-0.7,7.5q-0.1,1.7 -1.6,1.7l-1.8,0q-1.5,0 -1.6,-1.7l-0.7,-7.5q-0.1,-1.2 -1.3,-1.4q-1.3,-0.2 -0.9,-2.1l1.15,-4.8q0.35,-1.4 1.65,-1.4z M775.6,429.61a2.85,2.85 0 1,0 5.7,0a2.85,2.85 0 1,0 -5.7,0zM775.85,433.56l5.2,0q1.3,0 1.65,1.4l1.15,4.8q0.4,1.9 -0.9,2.1q-1.2,0.2 -1.3,1.4l-0.7,7.5q-0.1,1.7 -1.6,1.7l-1.8,0q-1.5,0 -1.6,-1.7l-0.7,-7.5q-0.1,-1.2 -1.3,-1.4q-1.3,-0.2 -0.9,-2.1l1.15,-4.8q0.35,-1.4 1.65,-1.4z M794.15,429.61a2.85,2.85 0 1,0 5.7,0a2.85,2.85 0 1,0 -5.7,0zM794.4,433.56l5.2,0q1.3,0 1.65,1.4l1.15,4.8q0.4,1.9 -0.9,2.1q-1.2,0.2 -1.3,1.4l-0.7,7.5q-0.1,1.7 -1.6,1.7l-1.8,0q-1.5,0 -1.6,-1.7l-0.7,-7.5q-0.1,-1.2 -1.3,-1.4q-1.3,-0.2 -0.9,-2.1l1.15,-4.8q0.35,-1.4 1.65,-1.4z M812.69,429.61a2.85,2.85 0 1,0 5.7,0a2.85,2.85 0 1,0 -5.7,0zM812.94,433.56l5.2,0q1.3,0 1.65,1.4l1.15,4.8q0.4,1.9 -0.9,2.1q-1.2,0.2 -1.3,1.4l-0.7,7.5q-0.1,1.7 -1.6,1.7l-1.8,0q-1.5,0 -1.6,-1.7l-0.7,-7.5q-0.1,-1.2 -1.3,-1.4q-1.3,-0.2 -0.9,-2.1l1.15,-4.8q0.35,-1.4 1.65,-1.4z M831.24,429.61a2.85,2.85 0 1,0 5.7,0a2.85,2.85 0 1,0 -5.7,0zM831.49,433.56l5.2,0q1.3,0 1.65,1.4l1.15,4.8q0.4,1.9 -0.9,2.1q-1.2,0.2 -1.3,1.4l-0.7,7.5q-0.1,1.7 -1.6,1.7l-1.8,0q-1.5,0 -1.6,-1.7l-0.7,-7.5q-0.1,-1.2 -1.3,-1.4q-1.3,-0.2 -0.9,-2.1l1.15,-4.8q0.35,-1.4 1.65,-1.4z M849.78,429.61a2.85,2.85 0 1,0 5.7,0a2.85,2.85 0 1,0 -5.7,0zM850.03,433.56l5.2,0q1.3,0 1.65,1.4l1.15,4.8q0.4,1.9 -0.9,2.1q-1.2,0.2 -1.3,1.4l-0.7,7.5q-0.1,1.7 -1.6,1.7l-1.8,0q-1.5,0 -1.6,-1.7l-0.7,-7.5q-0.1,-1.2 -1.3,-1.4q-1.3,-0.2 -0.9,-2.1l1.15,-4.8q0.35,-1.4 1.65,-1.4z M868.33,429.61a2.85,2.85 0 1,0 5.7,0a2.85,2.85 0 1,0 -5.7,0zM868.58,433.56l5.2,0q1.3,0 1.65,1.4l1.15,4.8q0.4,1.9 -0.9,2.1q-1.2,0.2 -1.3,1.4l-0.7,7.5q-0.1,1.7 -1.6,1.7l-1.8,0q-1.5,0 -1.6,-1.7l-0.7,-7.5q-0.1,-1.2 -1.3,-1.4q-1.3,-0.2 -0.9,-2.1l1.15,-4.8q0.35,-1.4 1.65,-1.4z M886.87,429.61a2.85,2.85 0 1,0 5.7,0a2.85,2.85 0 1,0 -5.7,0zM887.12,433.56l5.2,0q1.3,0 1.65,1.4l1.15,4.8q0.4,1.9 -0.9,2.1q-1.2,0.2 -1.3,1.4l-0.7,7.5q-0.1,1.7 -1.6,1.7l-1.8,0q-1.5,0 -1.6,-1.7l-0.7,-7.5q-0.1,-1.2 -1.3,-1.4q-1.3,-0.2 -0.9,-2.1l1.15,-4.8q0.35,-1.4 1.65,-1.4z M404.7,462.78a2.85,2.85 0 1,0 5.7,0a2.85,2.85 0 1,0 -5.7,0zM404.95,466.73l5.2,0q1.3,0 1.65,1.4l1.15,4.8q0.4,1.9 -0.9,2.1q-1.2,0.2 -1.3,1.4l-0.7,7.5q-0.1,1.7 -1.6,1.7l-1.8,0q-1.5,0 -1.6,-1.7l-0.7,-7.5q-0.1,-1.2 -1.3,-1.4q-1.3,-0.2 -0.9,-2.1l1.15,-4.8q0.35,-1.4 1.65,-1.4z M423.25,462.78a2.85,2.85 0 1,0 5.7,0a2.85,2.85 0 1,0 -5.7,0zM423.5,466.73l5.2,0q1.3,0 1.65,1.4l1.15,4.8q0.4,1.9 -0.9,2.1q-1.2,0.2 -1.3,1.4l-0.7,7.5q-0.1,1.7 -1.6,1.7l-1.8,0q-1.5,0 -1.6,-1.7l-0.7,-7.5q-0.1,-1.2 -1.3,-1.4q-1.3,-0.2 -0.9,-2.1l1.15,-4.8q0.35,-1.4 1.65,-1.4z M441.79,462.78a2.85,2.85 0 1,0 5.7,0a2.85,2.85 0 1,0 -5.7,0zM442.04,466.73l5.2,0q1.3,0 1.65,1.4l1.15,4.8q0.4,1.9 -0.9,2.1q-1.2,0.2 -1.3,1.4l-0.7,7.5q-0.1,1.7 -1.6,1.7l-1.8,0q-1.5,0 -1.6,-1.7l-0.7,-7.5q-0.1,-1.2 -1.3,-1.4q-1.3,-0.2 -0.9,-2.1l1.15,-4.8q0.35,-1.4 1.65,-1.4z M460.33,462.78a2.85,2.85 0 1,0 5.7,0a2.85,2.85 0 1,0 -5.7,0zM460.58,466.73l5.2,0q1.3,0 1.65,1.4l1.15,4.8q0.4,1.9 -0.9,2.1q-1.2,0.2 -1.3,1.4l-0.7,7.5q-0.1,1.7 -1.6,1.7l-1.8,0q-1.5,0 -1.6,-1.7l-0.7,-7.5q-0.1,-1.2 -1.3,-1.4q-1.3,-0.2 -0.9,-2.1l1.15,-4.8q0.35,-1.4 1.65,-1.4z M478.88,462.78a2.85,2.85 0 1,0 5.7,0a2.85,2.85 0 1,0 -5.7,0zM479.13,466.73l5.2,0q1.3,0 1.65,1.4l1.15,4.8q0.4,1.9 -0.9,2.1q-1.2,0.2 -1.3,1.4l-0.7,7.5q-0.1,1.7 -1.6,1.7l-1.8,0q-1.5,0 -1.6,-1.7l-0.7,-7.5q-0.1,-1.2 -1.3,-1.4q-1.3,-0.2 -0.9,-2.1l1.15,-4.8q0.35,-1.4 1.65,-1.4z M497.43,462.78a2.85,2.85 0 1,0 5.7,0a2.85,2.85 0 1,0 -5.7,0zM497.68,466.73l5.2,0q1.3,0 1.65,1.4l1.15,4.8q0.4,1.9 -0.9,2.1q-1.2,0.2 -1.3,1.4l-0.7,7.5q-0.1,1.7 -1.6,1.7l-1.8,0q-1.5,0 -1.6,-1.7l-0.7,-7.5q-0.1,-1.2 -1.3,-1.4q-1.3,-0.2 -0.9,-2.1l1.15,-4.8q0.35,-1.4 1.65,-1.4z M515.97,462.78a2.85,2.85 0 1,0 5.7,0a2.85,2.85 0 1,0 -5.7,0zM516.22,466.73l5.2,0q1.3,0 1.65,1.4l1.15,4.8q0.4,1.9 -0.9,2.1q-1.2,0.2 -1.3,1.4l-0.7,7.5q-0.1,1.7 -1.6,1.7l-1.8,0q-1.5,0 -1.6,-1.7l-0.7,-7.5q-0.1,-1.2 -1.3,-1.4q-1.3,-0.2 -0.9,-2.1l1.15,-4.8q0.35,-1.4 1.65,-1.4z M534.51,462.78a2.85,2.85 0 1,0 5.7,0a2.85,2.85 0 1,0 -5.7,0zM534.76,466.73l5.2,0q1.3,0 1.65,1.4l1.15,4.8q0.4,1.9 -0.9,2.1q-1.2,0.2 -1.3,1.4l-0.7,7.5q-0.1,1.7 -1.6,1.7l-1.8,0q-1.5,0 -1.6,-1.7l-0.7,-7.5q-0.1,-1.2 -1.3,-1.4q-1.3,-0.2 -0.9,-2.1l1.15,-4.8q0.35,-1.4 1.65,-1.4z M553.06,462.78a2.85,2.85 0 1,0 5.7,0a2.85,2.85 0 1,0 -5.7,0zM553.31,466.73l5.2,0q1.3,0 1.65,1.4l1.15,4.8q0.4,1.9 -0.9,2.1q-1.2,0.2 -1.3,1.4l-0.7,7.5q-0.1,1.7 -1.6,1.7l-1.8,0q-1.5,0 -1.6,-1.7l-0.7,-7.5q-0.1,-1.2 -1.3,-1.4q-1.3,-0.2 -0.9,-2.1l1.15,-4.8q0.35,-1.4 1.65,-1.4z M571.61,462.78a2.85,2.85 0 1,0 5.7,0a2.85,2.85 0 1,0 -5.7,0zM571.86,466.73l5.2,0q1.3,0 1.65,1.4l1.15,4.8q0.4,1.9 -0.9,2.1q-1.2,0.2 -1.3,1.4l-0.7,7.5q-0.1,1.7 -1.6,1.7l-1.8,0q-1.5,0 -1.6,-1.7l-0.7,-7.5q-0.1,-1.2 -1.3,-1.4q-1.3,-0.2 -0.9,-2.1l1.15,-4.8q0.35,-1.4 1.65,-1.4z M590.15,462.78a2.85,2.85 0 1,0 5.7,0a2.85,2.85 0 1,0 -5.7,0zM590.4,466.73l5.2,0q1.3,0 1.65,1.4l1.15,4.8q0.4,1.9 -0.9,2.1q-1.2,0.2 -1.3,1.4l-0.7,7.5q-0.1,1.7 -1.6,1.7l-1.8,0q-1.5,0 -1.6,-1.7l-0.7,-7.5q-0.1,-1.2 -1.3,-1.4q-1.3,-0.2 -0.9,-2.1l1.15,-4.8q0.35,-1.4 1.65,-1.4z M608.7,462.78a2.85,2.85 0 1,0 5.7,0a2.85,2.85 0 1,0 -5.7,0zM608.95,466.73l5.2,0q1.3,0 1.65,1.4l1.15,4.8q0.4,1.9 -0.9,2.1q-1.2,0.2 -1.3,1.4l-0.7,7.5q-0.1,1.7 -1.6,1.7l-1.8,0q-1.5,0 -1.6,-1.7l-0.7,-7.5q-0.1,-1.2 -1.3,-1.4q-1.3,-0.2 -0.9,-2.1l1.15,-4.8q0.35,-1.4 1.65,-1.4z M627.24,462.78a2.85,2.85 0 1,0 5.7,0a2.85,2.85 0 1,0 -5.7,0zM627.49,466.73l5.2,0q1.3,0 1.65,1.4l1.15,4.8q0.4,1.9 -0.9,2.1q-1.2,0.2 -1.3,1.4l-0.7,7.5q-0.1,1.7 -1.6,1.7l-1.8,0q-1.5,0 -1.6,-1.7l-0.7,-7.5q-0.1,-1.2 -1.3,-1.4q-1.3,-0.2 -0.9,-2.1l1.15,-4.8q0.35,-1.4 1.65,-1.4z M645.78,462.78a2.85,2.85 0 1,0 5.7,0a2.85,2.85 0 1,0 -5.7,0zM646.03,466.73l5.2,0q1.3,0 1.65,1.4l1.15,4.8q0.4,1.9 -0.9,2.1q-1.2,0.2 -1.3,1.4l-0.7,7.5q-0.1,1.7 -1.6,1.7l-1.8,0q-1.5,0 -1.6,-1.7l-0.7,-7.5q-0.1,-1.2 -1.3,-1.4q-1.3,-0.2 -0.9,-2.1l1.15,-4.8q0.35,-1.4 1.65,-1.4z M664.33,462.78a2.85,2.85 0 1,0 5.7,0a2.85,2.85 0 1,0 -5.7,0zM664.58,466.73l5.2,0q1.3,0 1.65,1.4l1.15,4.8q0.4,1.9 -0.9,2.1q-1.2,0.2 -1.3,1.4l-0.7,7.5q-0.1,1.7 -1.6,1.7l-1.8,0q-1.5,0 -1.6,-1.7l-0.7,-7.5q-0.1,-1.2 -1.3,-1.4q-1.3,-0.2 -0.9,-2.1l1.15,-4.8q0.35,-1.4 1.65,-1.4z M682.88,462.78a2.85,2.85 0 1,0 5.7,0a2.85,2.85 0 1,0 -5.7,0zM683.12,466.73l5.2,0q1.3,0 1.65,1.4l1.15,4.8q0.4,1.9 -0.9,2.1q-1.2,0.2 -1.3,1.4l-0.7,7.5q-0.1,1.7 -1.6,1.7l-1.8,0q-1.5,0 -1.6,-1.7l-0.7,-7.5q-0.1,-1.2 -1.3,-1.4q-1.3,-0.2 -0.9,-2.1l1.15,-4.8q0.35,-1.4 1.65,-1.4z M701.42,462.78a2.85,2.85 0 1,0 5.7,0a2.85,2.85 0 1,0 -5.7,0zM701.67,466.73l5.2,0q1.3,0 1.65,1.4l1.15,4.8q0.4,1.9 -0.9,2.1q-1.2,0.2 -1.3,1.4l-0.7,7.5q-0.1,1.7 -1.6,1.7l-1.8,0q-1.5,0 -1.6,-1.7l-0.7,-7.5q-0.1,-1.2 -1.3,-1.4q-1.3,-0.2 -0.9,-2.1l1.15,-4.8q0.35,-1.4 1.65,-1.4z M719.97,462.78a2.85,2.85 0 1,0 5.7,0a2.85,2.85 0 1,0 -5.7,0zM720.22,466.73l5.2,0q1.3,0 1.65,1.4l1.15,4.8q0.4,1.9 -0.9,2.1q-1.2,0.2 -1.3,1.4l-0.7,7.5q-0.1,1.7 -1.6,1.7l-1.8,0q-1.5,0 -1.6,-1.7l-0.7,-7.5q-0.1,-1.2 -1.3,-1.4q-1.3,-0.2 -0.9,-2.1l1.15,-4.8q0.35,-1.4 1.65,-1.4z M738.51,462.78a2.85,2.85 0 1,0 5.7,0a2.85,2.85 0 1,0 -5.7,0zM738.76,466.73l5.2,0q1.3,0 1.65,1.4l1.15,4.8q0.4,1.9 -0.9,2.1q-1.2,0.2 -1.3,1.4l-0.7,7.5q-0.1,1.7 -1.6,1.7l-1.8,0q-1.5,0 -1.6,-1.7l-0.7,-7.5q-0.1,-1.2 -1.3,-1.4q-1.3,-0.2 -0.9,-2.1l1.15,-4.8q0.35,-1.4 1.65,-1.4z M757.05,462.78a2.85,2.85 0 1,0 5.7,0a2.85,2.85 0 1,0 -5.7,0zM757.3,466.73l5.2,0q1.3,0 1.65,1.4l1.15,4.8q0.4,1.9 -0.9,2.1q-1.2,0.2 -1.3,1.4l-0.7,7.5q-0.1,1.7 -1.6,1.7l-1.8,0q-1.5,0 -1.6,-1.7l-0.7,-7.5q-0.1,-1.2 -1.3,-1.4q-1.3,-0.2 -0.9,-2.1l1.15,-4.8q0.35,-1.4 1.65,-1.4z M775.6,462.78a2.85,2.85 0 1,0 5.7,0a2.85,2.85 0 1,0 -5.7,0zM775.85,466.73l5.2,0q1.3,0 1.65,1.4l1.15,4.8q0.4,1.9 -0.9,2.1q-1.2,0.2 -1.3,1.4l-0.7,7.5q-0.1,1.7 -1.6,1.7l-1.8,0q-1.5,0 -1.6,-1.7l-0.7,-7.5q-0.1,-1.2 -1.3,-1.4q-1.3,-0.2 -0.9,-2.1l1.15,-4.8q0.35,-1.4 1.65,-1.4z M794.15,462.78a2.85,2.85 0 1,0 5.7,0a2.85,2.85 0 1,0 -5.7,0zM794.4,466.73l5.2,0q1.3,0 1.65,1.4l1.15,4.8q0.4,1.9 -0.9,2.1q-1.2,0.2 -1.3,1.4l-0.7,7.5q-0.1,1.7 -1.6,1.7l-1.8,0q-1.5,0 -1.6,-1.7l-0.7,-7.5q-0.1,-1.2 -1.3,-1.4q-1.3,-0.2 -0.9,-2.1l1.15,-4.8q0.35,-1.4 1.65,-1.4z M812.69,462.78a2.85,2.85 0 1,0 5.7,0a2.85,2.85 0 1,0 -5.7,0zM812.94,466.73l5.2,0q1.3,0 1.65,1.4l1.15,4.8q0.4,1.9 -0.9,2.1q-1.2,0.2 -1.3,1.4l-0.7,7.5q-0.1,1.7 -1.6,1.7l-1.8,0q-1.5,0 -1.6,-1.7l-0.7,-7.5q-0.1,-1.2 -1.3,-1.4q-1.3,-0.2 -0.9,-2.1l1.15,-4.8q0.35,-1.4 1.65,-1.4z M831.24,462.78a2.85,2.85 0 1,0 5.7,0a2.85,2.85 0 1,0 -5.7,0zM831.49,466.73l5.2,0q1.3,0 1.65,1.4l1.15,4.8q0.4,1.9 -0.9,2.1q-1.2,0.2 -1.3,1.4l-0.7,7.5q-0.1,1.7 -1.6,1.7l-1.8,0q-1.5,0 -1.6,-1.7l-0.7,-7.5q-0.1,-1.2 -1.3,-1.4q-1.3,-0.2 -0.9,-2.1l1.15,-4.8q0.35,-1.4 1.65,-1.4z M849.78,462.78a2.85,2.85 0 1,0 5.7,0a2.85,2.85 0 1,0 -5.7,0zM850.03,466.73l5.2,0q1.3,0 1.65,1.4l1.15,4.8q0.4,1.9 -0.9,2.1q-1.2,0.2 -1.3,1.4l-0.7,7.5q-0.1,1.7 -1.6,1.7l-1.8,0q-1.5,0 -1.6,-1.7l-0.7,-7.5q-0.1,-1.2 -1.3,-1.4q-1.3,-0.2 -0.9,-2.1l1.15,-4.8q0.35,-1.4 1.65,-1.4z M868.33,462.78a2.85,2.85 0 1,0 5.7,0a2.85,2.85 0 1,0 -5.7,0zM868.58,466.73l5.2,0q1.3,0 1.65,1.4l1.15,4.8q0.4,1.9 -0.9,2.1q-1.2,0.2 -1.3,1.4l-0.7,7.5q-0.1,1.7 -1.6,1.7l-1.8,0q-1.5,0 -1.6,-1.7l-0.7,-7.5q-0.1,-1.2 -1.3,-1.4q-1.3,-0.2 -0.9,-2.1l1.15,-4.8q0.35,-1.4 1.65,-1.4z M886.87,462.78a2.85,2.85 0 1,0 5.7,0a2.85,2.85 0 1,0 -5.7,0zM887.12,466.73l5.2,0q1.3,0 1.65,1.4l1.15,4.8q0.4,1.9 -0.9,2.1q-1.2,0.2 -1.3,1.4l-0.7,7.5q-0.1,1.7 -1.6,1.7l-1.8,0q-1.5,0 -1.6,-1.7l-0.7,-7.5q-0.1,-1.2 -1.3,-1.4q-1.3,-0.2 -0.9,-2.1l1.15,-4.8q0.35,-1.4 1.65,-1.4z M404.7,495.95a2.85,2.85 0 1,0 5.7,0a2.85,2.85 0 1,0 -5.7,0zM404.95,499.9l5.2,0q1.3,0 1.65,1.4l1.15,4.8q0.4,1.9 -0.9,2.1q-1.2,0.2 -1.3,1.4l-0.7,7.5q-0.1,1.7 -1.6,1.7l-1.8,0q-1.5,0 -1.6,-1.7l-0.7,-7.5q-0.1,-1.2 -1.3,-1.4q-1.3,-0.2 -0.9,-2.1l1.15,-4.8q0.35,-1.4 1.65,-1.4z M423.25,495.95a2.85,2.85 0 1,0 5.7,0a2.85,2.85 0 1,0 -5.7,0zM423.5,499.9l5.2,0q1.3,0 1.65,1.4l1.15,4.8q0.4,1.9 -0.9,2.1q-1.2,0.2 -1.3,1.4l-0.7,7.5q-0.1,1.7 -1.6,1.7l-1.8,0q-1.5,0 -1.6,-1.7l-0.7,-7.5q-0.1,-1.2 -1.3,-1.4q-1.3,-0.2 -0.9,-2.1l1.15,-4.8q0.35,-1.4 1.65,-1.4z M441.79,495.95a2.85,2.85 0 1,0 5.7,0a2.85,2.85 0 1,0 -5.7,0zM442.04,499.9l5.2,0q1.3,0 1.65,1.4l1.15,4.8q0.4,1.9 -0.9,2.1q-1.2,0.2 -1.3,1.4l-0.7,7.5q-0.1,1.7 -1.6,1.7l-1.8,0q-1.5,0 -1.6,-1.7l-0.7,-7.5q-0.1,-1.2 -1.3,-1.4q-1.3,-0.2 -0.9,-2.1l1.15,-4.8q0.35,-1.4 1.65,-1.4z M460.33,495.95a2.85,2.85 0 1,0 5.7,0a2.85,2.85 0 1,0 -5.7,0zM460.58,499.9l5.2,0q1.3,0 1.65,1.4l1.15,4.8q0.4,1.9 -0.9,2.1q-1.2,0.2 -1.3,1.4l-0.7,7.5q-0.1,1.7 -1.6,1.7l-1.8,0q-1.5,0 -1.6,-1.7l-0.7,-7.5q-0.1,-1.2 -1.3,-1.4q-1.3,-0.2 -0.9,-2.1l1.15,-4.8q0.35,-1.4 1.65,-1.4z M478.88,495.95a2.85,2.85 0 1,0 5.7,0a2.85,2.85 0 1,0 -5.7,0zM479.13,499.9l5.2,0q1.3,0 1.65,1.4l1.15,4.8q0.4,1.9 -0.9,2.1q-1.2,0.2 -1.3,1.4l-0.7,7.5q-0.1,1.7 -1.6,1.7l-1.8,0q-1.5,0 -1.6,-1.7l-0.7,-7.5q-0.1,-1.2 -1.3,-1.4q-1.3,-0.2 -0.9,-2.1l1.15,-4.8q0.35,-1.4 1.65,-1.4z M497.43,495.95a2.85,2.85 0 1,0 5.7,0a2.85,2.85 0 1,0 -5.7,0zM497.68,499.9l5.2,0q1.3,0 1.65,1.4l1.15,4.8q0.4,1.9 -0.9,2.1q-1.2,0.2 -1.3,1.4l-0.7,7.5q-0.1,1.7 -1.6,1.7l-1.8,0q-1.5,0 -1.6,-1.7l-0.7,-7.5q-0.1,-1.2 -1.3,-1.4q-1.3,-0.2 -0.9,-2.1l1.15,-4.8q0.35,-1.4 1.65,-1.4z M515.97,495.95a2.85,2.85 0 1,0 5.7,0a2.85,2.85 0 1,0 -5.7,0zM516.22,499.9l5.2,0q1.3,0 1.65,1.4l1.15,4.8q0.4,1.9 -0.9,2.1q-1.2,0.2 -1.3,1.4l-0.7,7.5q-0.1,1.7 -1.6,1.7l-1.8,0q-1.5,0 -1.6,-1.7l-0.7,-7.5q-0.1,-1.2 -1.3,-1.4q-1.3,-0.2 -0.9,-2.1l1.15,-4.8q0.35,-1.4 1.65,-1.4z M534.51,495.95a2.85,2.85 0 1,0 5.7,0a2.85,2.85 0 1,0 -5.7,0zM534.76,499.9l5.2,0q1.3,0 1.65,1.4l1.15,4.8q0.4,1.9 -0.9,2.1q-1.2,0.2 -1.3,1.4l-0.7,7.5q-0.1,1.7 -1.6,1.7l-1.8,0q-1.5,0 -1.6,-1.7l-0.7,-7.5q-0.1,-1.2 -1.3,-1.4q-1.3,-0.2 -0.9,-2.1l1.15,-4.8q0.35,-1.4 1.65,-1.4z M553.06,495.95a2.85,2.85 0 1,0 5.7,0a2.85,2.85 0 1,0 -5.7,0zM553.31,499.9l5.2,0q1.3,0 1.65,1.4l1.15,4.8q0.4,1.9 -0.9,2.1q-1.2,0.2 -1.3,1.4l-0.7,7.5q-0.1,1.7 -1.6,1.7l-1.8,0q-1.5,0 -1.6,-1.7l-0.7,-7.5q-0.1,-1.2 -1.3,-1.4q-1.3,-0.2 -0.9,-2.1l1.15,-4.8q0.35,-1.4 1.65,-1.4z M571.61,495.95a2.85,2.85 0 1,0 5.7,0a2.85,2.85 0 1,0 -5.7,0zM571.86,499.9l5.2,0q1.3,0 1.65,1.4l1.15,4.8q0.4,1.9 -0.9,2.1q-1.2,0.2 -1.3,1.4l-0.7,7.5q-0.1,1.7 -1.6,1.7l-1.8,0q-1.5,0 -1.6,-1.7l-0.7,-7.5q-0.1,-1.2 -1.3,-1.4q-1.3,-0.2 -0.9,-2.1l1.15,-4.8q0.35,-1.4 1.65,-1.4z M590.15,495.95a2.85,2.85 0 1,0 5.7,0a2.85,2.85 0 1,0 -5.7,0zM590.4,499.9l5.2,0q1.3,0 1.65,1.4l1.15,4.8q0.4,1.9 -0.9,2.1q-1.2,0.2 -1.3,1.4l-0.7,7.5q-0.1,1.7 -1.6,1.7l-1.8,0q-1.5,0 -1.6,-1.7l-0.7,-7.5q-0.1,-1.2 -1.3,-1.4q-1.3,-0.2 -0.9,-2.1l1.15,-4.8q0.35,-1.4 1.65,-1.4z M608.7,495.95a2.85,2.85 0 1,0 5.7,0a2.85,2.85 0 1,0 -5.7,0zM608.95,499.9l5.2,0q1.3,0 1.65,1.4l1.15,4.8q0.4,1.9 -0.9,2.1q-1.2,0.2 -1.3,1.4l-0.7,7.5q-0.1,1.7 -1.6,1.7l-1.8,0q-1.5,0 -1.6,-1.7l-0.7,-7.5q-0.1,-1.2 -1.3,-1.4q-1.3,-0.2 -0.9,-2.1l1.15,-4.8q0.35,-1.4 1.65,-1.4z M627.24,495.95a2.85,2.85 0 1,0 5.7,0a2.85,2.85 0 1,0 -5.7,0zM627.49,499.9l5.2,0q1.3,0 1.65,1.4l1.15,4.8q0.4,1.9 -0.9,2.1q-1.2,0.2 -1.3,1.4l-0.7,7.5q-0.1,1.7 -1.6,1.7l-1.8,0q-1.5,0 -1.6,-1.7l-0.7,-7.5q-0.1,-1.2 -1.3,-1.4q-1.3,-0.2 -0.9,-2.1l1.15,-4.8q0.35,-1.4 1.65,-1.4z M645.78,495.95a2.85,2.85 0 1,0 5.7,0a2.85,2.85 0 1,0 -5.7,0zM646.03,499.9l5.2,0q1.3,0 1.65,1.4l1.15,4.8q0.4,1.9 -0.9,2.1q-1.2,0.2 -1.3,1.4l-0.7,7.5q-0.1,1.7 -1.6,1.7l-1.8,0q-1.5,0 -1.6,-1.7l-0.7,-7.5q-0.1,-1.2 -1.3,-1.4q-1.3,-0.2 -0.9,-2.1l1.15,-4.8q0.35,-1.4 1.65,-1.4z M664.33,495.95a2.85,2.85 0 1,0 5.7,0a2.85,2.85 0 1,0 -5.7,0zM664.58,499.9l5.2,0q1.3,0 1.65,1.4l1.15,4.8q0.4,1.9 -0.9,2.1q-1.2,0.2 -1.3,1.4l-0.7,7.5q-0.1,1.7 -1.6,1.7l-1.8,0q-1.5,0 -1.6,-1.7l-0.7,-7.5q-0.1,-1.2 -1.3,-1.4q-1.3,-0.2 -0.9,-2.1l1.15,-4.8q0.35,-1.4 1.65,-1.4z M682.88,495.95a2.85,2.85 0 1,0 5.7,0a2.85,2.85 0 1,0 -5.7,0zM683.12,499.9l5.2,0q1.3,0 1.65,1.4l1.15,4.8q0.4,1.9 -0.9,2.1q-1.2,0.2 -1.3,1.4l-0.7,7.5q-0.1,1.7 -1.6,1.7l-1.8,0q-1.5,0 -1.6,-1.7l-0.7,-7.5q-0.1,-1.2 -1.3,-1.4q-1.3,-0.2 -0.9,-2.1l1.15,-4.8q0.35,-1.4 1.65,-1.4z M701.42,495.95a2.85,2.85 0 1,0 5.7,0a2.85,2.85 0 1,0 -5.7,0zM701.67,499.9l5.2,0q1.3,0 1.65,1.4l1.15,4.8q0.4,1.9 -0.9,2.1q-1.2,0.2 -1.3,1.4l-0.7,7.5q-0.1,1.7 -1.6,1.7l-1.8,0q-1.5,0 -1.6,-1.7l-0.7,-7.5q-0.1,-1.2 -1.3,-1.4q-1.3,-0.2 -0.9,-2.1l1.15,-4.8q0.35,-1.4 1.65,-1.4z M719.97,495.95a2.85,2.85 0 1,0 5.7,0a2.85,2.85 0 1,0 -5.7,0zM720.22,499.9l5.2,0q1.3,0 1.65,1.4l1.15,4.8q0.4,1.9 -0.9,2.1q-1.2,0.2 -1.3,1.4l-0.7,7.5q-0.1,1.7 -1.6,1.7l-1.8,0q-1.5,0 -1.6,-1.7l-0.7,-7.5q-0.1,-1.2 -1.3,-1.4q-1.3,-0.2 -0.9,-2.1l1.15,-4.8q0.35,-1.4 1.65,-1.4z M738.51,495.95a2.85,2.85 0 1,0 5.7,0a2.85,2.85 0 1,0 -5.7,0zM738.76,499.9l5.2,0q1.3,0 1.65,1.4l1.15,4.8q0.4,1.9 -0.9,2.1q-1.2,0.2 -1.3,1.4l-0.7,7.5q-0.1,1.7 -1.6,1.7l-1.8,0q-1.5,0 -1.6,-1.7l-0.7,-7.5q-0.1,-1.2 -1.3,-1.4q-1.3,-0.2 -0.9,-2.1l1.15,-4.8q0.35,-1.4 1.65,-1.4z M757.05,495.95a2.85,2.85 0 1,0 5.7,0a2.85,2.85 0 1,0 -5.7,0zM757.3,499.9l5.2,0q1.3,0 1.65,1.4l1.15,4.8q0.4,1.9 -0.9,2.1q-1.2,0.2 -1.3,1.4l-0.7,7.5q-0.1,1.7 -1.6,1.7l-1.8,0q-1.5,0 -1.6,-1.7l-0.7,-7.5q-0.1,-1.2 -1.3,-1.4q-1.3,-0.2 -0.9,-2.1l1.15,-4.8q0.35,-1.4 1.65,-1.4z M775.6,495.95a2.85,2.85 0 1,0 5.7,0a2.85,2.85 0 1,0 -5.7,0zM775.85,499.9l5.2,0q1.3,0 1.65,1.4l1.15,4.8q0.4,1.9 -0.9,2.1q-1.2,0.2 -1.3,1.4l-0.7,7.5q-0.1,1.7 -1.6,1.7l-1.8,0q-1.5,0 -1.6,-1.7l-0.7,-7.5q-0.1,-1.2 -1.3,-1.4q-1.3,-0.2 -0.9,-2.1l1.15,-4.8q0.35,-1.4 1.65,-1.4z M794.15,495.95a2.85,2.85 0 1,0 5.7,0a2.85,2.85 0 1,0 -5.7,0zM794.4,499.9l5.2,0q1.3,0 1.65,1.4l1.15,4.8q0.4,1.9 -0.9,2.1q-1.2,0.2 -1.3,1.4l-0.7,7.5q-0.1,1.7 -1.6,1.7l-1.8,0q-1.5,0 -1.6,-1.7l-0.7,-7.5q-0.1,-1.2 -1.3,-1.4q-1.3,-0.2 -0.9,-2.1l1.15,-4.8q0.35,-1.4 1.65,-1.4z M812.69,495.95a2.85,2.85 0 1,0 5.7,0a2.85,2.85 0 1,0 -5.7,0zM812.94,499.9l5.2,0q1.3,0 1.65,1.4l1.15,4.8q0.4,1.9 -0.9,2.1q-1.2,0.2 -1.3,1.4l-0.7,7.5q-0.1,1.7 -1.6,1.7l-1.8,0q-1.5,0 -1.6,-1.7l-0.7,-7.5q-0.1,-1.2 -1.3,-1.4q-1.3,-0.2 -0.9,-2.1l1.15,-4.8q0.35,-1.4 1.65,-1.4z M831.24,495.95a2.85,2.85 0 1,0 5.7,0a2.85,2.85 0 1,0 -5.7,0zM831.49,499.9l5.2,0q1.3,0 1.65,1.4l1.15,4.8q0.4,1.9 -0.9,2.1q-1.2,0.2 -1.3,1.4l-0.7,7.5q-0.1,1.7 -1.6,1.7l-1.8,0q-1.5,0 -1.6,-1.7l-0.7,-7.5q-0.1,-1.2 -1.3,-1.4q-1.3,-0.2 -0.9,-2.1l1.15,-4.8q0.35,-1.4 1.65,-1.4z M849.78,495.95a2.85,2.85 0 1,0 5.7,0a2.85,2.85 0 1,0 -5.7,0zM850.03,499.9l5.2,0q1.3,0 1.65,1.4l1.15,4.8q0.4,1.9 -0.9,2.1q-1.2,0.2 -1.3,1.4l-0.7,7.5q-0.1,1.7 -1.6,1.7l-1.8,0q-1.5,0 -1.6,-1.7l-0.7,-7.5q-0.1,-1.2 -1.3,-1.4q-1.3,-0.2 -0.9,-2.1l1.15,-4.8q0.35,-1.4 1.65,-1.4z M868.33,495.95a2.85,2.85 0 1,0 5.7,0a2.85,2.85 0 1,0 -5.7,0zM868.58,499.9l5.2,0q1.3,0 1.65,1.4l1.15,4.8q0.4,1.9 -0.9,2.1q-1.2,0.2 -1.3,1.4l-0.7,7.5q-0.1,1.7 -1.6,1.7l-1.8,0q-1.5,0 -1.6,-1.7l-0.7,-7.5q-0.1,-1.2 -1.3,-1.4q-1.3,-0.2 -0.9,-2.1l1.15,-4.8q0.35,-1.4 1.65,-1.4z M886.87,495.95a2.85,2.85 0 1,0 5.7,0a2.85,2.85 0 1,0 -5.7,0zM887.12,499.9l5.2,0q1.3,0 1.65,1.4l1.15,4.8q0.4,1.9 -0.9,2.1q-1.2,0.2 -1.3,1.4l-0.7,7.5q-0.1,1.7 -1.6,1.7l-1.8,0q-1.5,0 -1.6,-1.7l-0.7,-7.5q-0.1,-1.2 -1.3,-1.4q-1.3,-0.2 -0.9,-2.1l1.15,-4.8q0.35,-1.4 1.65,-1.4z M404.7,529.12a2.85,2.85 0 1,0 5.7,0a2.85,2.85 0 1,0 -5.7,0zM404.95,533.07l5.2,0q1.3,0 1.65,1.4l1.15,4.8q0.4,1.9 -0.9,2.1q-1.2,0.2 -1.3,1.4l-0.7,7.5q-0.1,1.7 -1.6,1.7l-1.8,0q-1.5,0 -1.6,-1.7l-0.7,-7.5q-0.1,-1.2 -1.3,-1.4q-1.3,-0.2 -0.9,-2.1l1.15,-4.8q0.35,-1.4 1.65,-1.4z M423.25,529.12a2.85,2.85 0 1,0 5.7,0a2.85,2.85 0 1,0 -5.7,0zM423.5,533.07l5.2,0q1.3,0 1.65,1.4l1.15,4.8q0.4,1.9 -0.9,2.1q-1.2,0.2 -1.3,1.4l-0.7,7.5q-0.1,1.7 -1.6,1.7l-1.8,0q-1.5,0 -1.6,-1.7l-0.7,-7.5q-0.1,-1.2 -1.3,-1.4q-1.3,-0.2 -0.9,-2.1l1.15,-4.8q0.35,-1.4 1.65,-1.4z M441.79,529.12a2.85,2.85 0 1,0 5.7,0a2.85,2.85 0 1,0 -5.7,0zM442.04,533.07l5.2,0q1.3,0 1.65,1.4l1.15,4.8q0.4,1.9 -0.9,2.1q-1.2,0.2 -1.3,1.4l-0.7,7.5q-0.1,1.7 -1.6,1.7l-1.8,0q-1.5,0 -1.6,-1.7l-0.7,-7.5q-0.1,-1.2 -1.3,-1.4q-1.3,-0.2 -0.9,-2.1l1.15,-4.8q0.35,-1.4 1.65,-1.4z M460.33,529.12a2.85,2.85 0 1,0 5.7,0a2.85,2.85 0 1,0 -5.7,0zM460.58,533.07l5.2,0q1.3,0 1.65,1.4l1.15,4.8q0.4,1.9 -0.9,2.1q-1.2,0.2 -1.3,1.4l-0.7,7.5q-0.1,1.7 -1.6,1.7l-1.8,0q-1.5,0 -1.6,-1.7l-0.7,-7.5q-0.1,-1.2 -1.3,-1.4q-1.3,-0.2 -0.9,-2.1l1.15,-4.8q0.35,-1.4 1.65,-1.4z M478.88,529.12a2.85,2.85 0 1,0 5.7,0a2.85,2.85 0 1,0 -5.7,0zM479.13,533.07l5.2,0q1.3,0 1.65,1.4l1.15,4.8q0.4,1.9 -0.9,2.1q-1.2,0.2 -1.3,1.4l-0.7,7.5q-0.1,1.7 -1.6,1.7l-1.8,0q-1.5,0 -1.6,-1.7l-0.7,-7.5q-0.1,-1.2 -1.3,-1.4q-1.3,-0.2 -0.9,-2.1l1.15,-4.8q0.35,-1.4 1.65,-1.4z M497.43,529.12a2.85,2.85 0 1,0 5.7,0a2.85,2.85 0 1,0 -5.7,0zM497.68,533.07l5.2,0q1.3,0 1.65,1.4l1.15,4.8q0.4,1.9 -0.9,2.1q-1.2,0.2 -1.3,1.4l-0.7,7.5q-0.1,1.7 -1.6,1.7l-1.8,0q-1.5,0 -1.6,-1.7l-0.7,-7.5q-0.1,-1.2 -1.3,-1.4q-1.3,-0.2 -0.9,-2.1l1.15,-4.8q0.35,-1.4 1.65,-1.4z M515.97,529.12a2.85,2.85 0 1,0 5.7,0a2.85,2.85 0 1,0 -5.7,0zM516.22,533.07l5.2,0q1.3,0 1.65,1.4l1.15,4.8q0.4,1.9 -0.9,2.1q-1.2,0.2 -1.3,1.4l-0.7,7.5q-0.1,1.7 -1.6,1.7l-1.8,0q-1.5,0 -1.6,-1.7l-0.7,-7.5q-0.1,-1.2 -1.3,-1.4q-1.3,-0.2 -0.9,-2.1l1.15,-4.8q0.35,-1.4 1.65,-1.4z M534.51,529.12a2.85,2.85 0 1,0 5.7,0a2.85,2.85 0 1,0 -5.7,0zM534.76,533.07l5.2,0q1.3,0 1.65,1.4l1.15,4.8q0.4,1.9 -0.9,2.1q-1.2,0.2 -1.3,1.4l-0.7,7.5q-0.1,1.7 -1.6,1.7l-1.8,0q-1.5,0 -1.6,-1.7l-0.7,-7.5q-0.1,-1.2 -1.3,-1.4q-1.3,-0.2 -0.9,-2.1l1.15,-4.8q0.35,-1.4 1.65,-1.4z M553.06,529.12a2.85,2.85 0 1,0 5.7,0a2.85,2.85 0 1,0 -5.7,0zM553.31,533.07l5.2,0q1.3,0 1.65,1.4l1.15,4.8q0.4,1.9 -0.9,2.1q-1.2,0.2 -1.3,1.4l-0.7,7.5q-0.1,1.7 -1.6,1.7l-1.8,0q-1.5,0 -1.6,-1.7l-0.7,-7.5q-0.1,-1.2 -1.3,-1.4q-1.3,-0.2 -0.9,-2.1l1.15,-4.8q0.35,-1.4 1.65,-1.4z M571.61,529.12a2.85,2.85 0 1,0 5.7,0a2.85,2.85 0 1,0 -5.7,0zM571.86,533.07l5.2,0q1.3,0 1.65,1.4l1.15,4.8q0.4,1.9 -0.9,2.1q-1.2,0.2 -1.3,1.4l-0.7,7.5q-0.1,1.7 -1.6,1.7l-1.8,0q-1.5,0 -1.6,-1.7l-0.7,-7.5q-0.1,-1.2 -1.3,-1.4q-1.3,-0.2 -0.9,-2.1l1.15,-4.8q0.35,-1.4 1.65,-1.4z M590.15,529.12a2.85,2.85 0 1,0 5.7,0a2.85,2.85 0 1,0 -5.7,0zM590.4,533.07l5.2,0q1.3,0 1.65,1.4l1.15,4.8q0.4,1.9 -0.9,2.1q-1.2,0.2 -1.3,1.4l-0.7,7.5q-0.1,1.7 -1.6,1.7l-1.8,0q-1.5,0 -1.6,-1.7l-0.7,-7.5q-0.1,-1.2 -1.3,-1.4q-1.3,-0.2 -0.9,-2.1l1.15,-4.8q0.35,-1.4 1.65,-1.4z M608.7,529.12a2.85,2.85 0 1,0 5.7,0a2.85,2.85 0 1,0 -5.7,0zM608.95,533.07l5.2,0q1.3,0 1.65,1.4l1.15,4.8q0.4,1.9 -0.9,2.1q-1.2,0.2 -1.3,1.4l-0.7,7.5q-0.1,1.7 -1.6,1.7l-1.8,0q-1.5,0 -1.6,-1.7l-0.7,-7.5q-0.1,-1.2 -1.3,-1.4q-1.3,-0.2 -0.9,-2.1l1.15,-4.8q0.35,-1.4 1.65,-1.4z M627.24,529.12a2.85,2.85 0 1,0 5.7,0a2.85,2.85 0 1,0 -5.7,0zM627.49,533.07l5.2,0q1.3,0 1.65,1.4l1.15,4.8q0.4,1.9 -0.9,2.1q-1.2,0.2 -1.3,1.4l-0.7,7.5q-0.1,1.7 -1.6,1.7l-1.8,0q-1.5,0 -1.6,-1.7l-0.7,-7.5q-0.1,-1.2 -1.3,-1.4q-1.3,-0.2 -0.9,-2.1l1.15,-4.8q0.35,-1.4 1.65,-1.4z M645.78,529.12a2.85,2.85 0 1,0 5.7,0a2.85,2.85 0 1,0 -5.7,0zM646.03,533.07l5.2,0q1.3,0 1.65,1.4l1.15,4.8q0.4,1.9 -0.9,2.1q-1.2,0.2 -1.3,1.4l-0.7,7.5q-0.1,1.7 -1.6,1.7l-1.8,0q-1.5,0 -1.6,-1.7l-0.7,-7.5q-0.1,-1.2 -1.3,-1.4q-1.3,-0.2 -0.9,-2.1l1.15,-4.8q0.35,-1.4 1.65,-1.4z M664.33,529.12a2.85,2.85 0 1,0 5.7,0a2.85,2.85 0 1,0 -5.7,0zM664.58,533.07l5.2,0q1.3,0 1.65,1.4l1.15,4.8q0.4,1.9 -0.9,2.1q-1.2,0.2 -1.3,1.4l-0.7,7.5q-0.1,1.7 -1.6,1.7l-1.8,0q-1.5,0 -1.6,-1.7l-0.7,-7.5q-0.1,-1.2 -1.3,-1.4q-1.3,-0.2 -0.9,-2.1l1.15,-4.8q0.35,-1.4 1.65,-1.4z M682.88,529.12a2.85,2.85 0 1,0 5.7,0a2.85,2.85 0 1,0 -5.7,0zM683.12,533.07l5.2,0q1.3,0 1.65,1.4l1.15,4.8q0.4,1.9 -0.9,2.1q-1.2,0.2 -1.3,1.4l-0.7,7.5q-0.1,1.7 -1.6,1.7l-1.8,0q-1.5,0 -1.6,-1.7l-0.7,-7.5q-0.1,-1.2 -1.3,-1.4q-1.3,-0.2 -0.9,-2.1l1.15,-4.8q0.35,-1.4 1.65,-1.4z M701.42,529.12a2.85,2.85 0 1,0 5.7,0a2.85,2.85 0 1,0 -5.7,0zM701.67,533.07l5.2,0q1.3,0 1.65,1.4l1.15,4.8q0.4,1.9 -0.9,2.1q-1.2,0.2 -1.3,1.4l-0.7,7.5q-0.1,1.7 -1.6,1.7l-1.8,0q-1.5,0 -1.6,-1.7l-0.7,-7.5q-0.1,-1.2 -1.3,-1.4q-1.3,-0.2 -0.9,-2.1l1.15,-4.8q0.35,-1.4 1.65,-1.4z M719.97,529.12a2.85,2.85 0 1,0 5.7,0a2.85,2.85 0 1,0 -5.7,0zM720.22,533.07l5.2,0q1.3,0 1.65,1.4l1.15,4.8q0.4,1.9 -0.9,2.1q-1.2,0.2 -1.3,1.4l-0.7,7.5q-0.1,1.7 -1.6,1.7l-1.8,0q-1.5,0 -1.6,-1.7l-0.7,-7.5q-0.1,-1.2 -1.3,-1.4q-1.3,-0.2 -0.9,-2.1l1.15,-4.8q0.35,-1.4 1.65,-1.4z M738.51,529.12a2.85,2.85 0 1,0 5.7,0a2.85,2.85 0 1,0 -5.7,0zM738.76,533.07l5.2,0q1.3,0 1.65,1.4l1.15,4.8q0.4,1.9 -0.9,2.1q-1.2,0.2 -1.3,1.4l-0.7,7.5q-0.1,1.7 -1.6,1.7l-1.8,0q-1.5,0 -1.6,-1.7l-0.7,-7.5q-0.1,-1.2 -1.3,-1.4q-1.3,-0.2 -0.9,-2.1l1.15,-4.8q0.35,-1.4 1.65,-1.4z M757.05,529.12a2.85,2.85 0 1,0 5.7,0a2.85,2.85 0 1,0 -5.7,0zM757.3,533.07l5.2,0q1.3,0 1.65,1.4l1.15,4.8q0.4,1.9 -0.9,2.1q-1.2,0.2 -1.3,1.4l-0.7,7.5q-0.1,1.7 -1.6,1.7l-1.8,0q-1.5,0 -1.6,-1.7l-0.7,-7.5q-0.1,-1.2 -1.3,-1.4q-1.3,-0.2 -0.9,-2.1l1.15,-4.8q0.35,-1.4 1.65,-1.4z M775.6,529.12a2.85,2.85 0 1,0 5.7,0a2.85,2.85 0 1,0 -5.7,0zM775.85,533.07l5.2,0q1.3,0 1.65,1.4l1.15,4.8q0.4,1.9 -0.9,2.1q-1.2,0.2 -1.3,1.4l-0.7,7.5q-0.1,1.7 -1.6,1.7l-1.8,0q-1.5,0 -1.6,-1.7l-0.7,-7.5q-0.1,-1.2 -1.3,-1.4q-1.3,-0.2 -0.9,-2.1l1.15,-4.8q0.35,-1.4 1.65,-1.4z M794.15,529.12a2.85,2.85 0 1,0 5.7,0a2.85,2.85 0 1,0 -5.7,0zM794.4,533.07l5.2,0q1.3,0 1.65,1.4l1.15,4.8q0.4,1.9 -0.9,2.1q-1.2,0.2 -1.3,1.4l-0.7,7.5q-0.1,1.7 -1.6,1.7l-1.8,0q-1.5,0 -1.6,-1.7l-0.7,-7.5q-0.1,-1.2 -1.3,-1.4q-1.3,-0.2 -0.9,-2.1l1.15,-4.8q0.35,-1.4 1.65,-1.4z M812.69,529.12a2.85,2.85 0 1,0 5.7,0a2.85,2.85 0 1,0 -5.7,0zM812.94,533.07l5.2,0q1.3,0 1.65,1.4l1.15,4.8q0.4,1.9 -0.9,2.1q-1.2,0.2 -1.3,1.4l-0.7,7.5q-0.1,1.7 -1.6,1.7l-1.8,0q-1.5,0 -1.6,-1.7l-0.7,-7.5q-0.1,-1.2 -1.3,-1.4q-1.3,-0.2 -0.9,-2.1l1.15,-4.8q0.35,-1.4 1.65,-1.4z M831.24,529.12a2.85,2.85 0 1,0 5.7,0a2.85,2.85 0 1,0 -5.7,0zM831.49,533.07l5.2,0q1.3,0 1.65,1.4l1.15,4.8q0.4,1.9 -0.9,2.1q-1.2,0.2 -1.3,1.4l-0.7,7.5q-0.1,1.7 -1.6,1.7l-1.8,0q-1.5,0 -1.6,-1.7l-0.7,-7.5q-0.1,-1.2 -1.3,-1.4q-1.3,-0.2 -0.9,-2.1l1.15,-4.8q0.35,-1.4 1.65,-1.4z M849.78,529.12a2.85,2.85 0 1,0 5.7,0a2.85,2.85 0 1,0 -5.7,0zM850.03,533.07l5.2,0q1.3,0 1.65,1.4l1.15,4.8q0.4,1.9 -0.9,2.1q-1.2,0.2 -1.3,1.4l-0.7,7.5q-0.1,1.7 -1.6,1.7l-1.8,0q-1.5,0 -1.6,-1.7l-0.7,-7.5q-0.1,-1.2 -1.3,-1.4q-1.3,-0.2 -0.9,-2.1l1.15,-4.8q0.35,-1.4 1.65,-1.4z M868.33,529.12a2.85,2.85 0 1,0 5.7,0a2.85,2.85 0 1,0 -5.7,0zM868.58,533.07l5.2,0q1.3,0 1.65,1.4l1.15,4.8q0.4,1.9 -0.9,2.1q-1.2,0.2 -1.3,1.4l-0.7,7.5q-0.1,1.7 -1.6,1.7l-1.8,0q-1.5,0 -1.6,-1.7l-0.7,-7.5q-0.1,-1.2 -1.3,-1.4q-1.3,-0.2 -0.9,-2.1l1.15,-4.8q0.35,-1.4 1.65,-1.4z M886.87,529.12a2.85,2.85 0 1,0 5.7,0a2.85,2.85 0 1,0 -5.7,0zM887.12,533.07l5.2,0q1.3,0 1.65,1.4l1.15,4.8q0.4,1.9 -0.9,2.1q-1.2,0.2 -1.3,1.4l-0.7,7.5q-0.1,1.7 -1.6,1.7l-1.8,0q-1.5,0 -1.6,-1.7l-0.7,-7.5q-0.1,-1.2 -1.3,-1.4q-1.3,-0.2 -0.9,-2.1l1.15,-4.8q0.35,-1.4 1.65,-1.4z M404.7,562.29a2.85,2.85 0 1,0 5.7,0a2.85,2.85 0 1,0 -5.7,0zM404.95,566.24l5.2,0q1.3,0 1.65,1.4l1.15,4.8q0.4,1.9 -0.9,2.1q-1.2,0.2 -1.3,1.4l-0.7,7.5q-0.1,1.7 -1.6,1.7l-1.8,0q-1.5,0 -1.6,-1.7l-0.7,-7.5q-0.1,-1.2 -1.3,-1.4q-1.3,-0.2 -0.9,-2.1l1.15,-4.8q0.35,-1.4 1.65,-1.4z M423.25,562.29a2.85,2.85 0 1,0 5.7,0a2.85,2.85 0 1,0 -5.7,0zM423.5,566.24l5.2,0q1.3,0 1.65,1.4l1.15,4.8q0.4,1.9 -0.9,2.1q-1.2,0.2 -1.3,1.4l-0.7,7.5q-0.1,1.7 -1.6,1.7l-1.8,0q-1.5,0 -1.6,-1.7l-0.7,-7.5q-0.1,-1.2 -1.3,-1.4q-1.3,-0.2 -0.9,-2.1l1.15,-4.8q0.35,-1.4 1.65,-1.4z M441.79,562.29a2.85,2.85 0 1,0 5.7,0a2.85,2.85 0 1,0 -5.7,0zM442.04,566.24l5.2,0q1.3,0 1.65,1.4l1.15,4.8q0.4,1.9 -0.9,2.1q-1.2,0.2 -1.3,1.4l-0.7,7.5q-0.1,1.7 -1.6,1.7l-1.8,0q-1.5,0 -1.6,-1.7l-0.7,-7.5q-0.1,-1.2 -1.3,-1.4q-1.3,-0.2 -0.9,-2.1l1.15,-4.8q0.35,-1.4 1.65,-1.4z M460.33,562.29a2.85,2.85 0 1,0 5.7,0a2.85,2.85 0 1,0 -5.7,0zM460.58,566.24l5.2,0q1.3,0 1.65,1.4l1.15,4.8q0.4,1.9 -0.9,2.1q-1.2,0.2 -1.3,1.4l-0.7,7.5q-0.1,1.7 -1.6,1.7l-1.8,0q-1.5,0 -1.6,-1.7l-0.7,-7.5q-0.1,-1.2 -1.3,-1.4q-1.3,-0.2 -0.9,-2.1l1.15,-4.8q0.35,-1.4 1.65,-1.4z M478.88,562.29a2.85,2.85 0 1,0 5.7,0a2.85,2.85 0 1,0 -5.7,0zM479.13,566.24l5.2,0q1.3,0 1.65,1.4l1.15,4.8q0.4,1.9 -0.9,2.1q-1.2,0.2 -1.3,1.4l-0.7,7.5q-0.1,1.7 -1.6,1.7l-1.8,0q-1.5,0 -1.6,-1.7l-0.7,-7.5q-0.1,-1.2 -1.3,-1.4q-1.3,-0.2 -0.9,-2.1l1.15,-4.8q0.35,-1.4 1.65,-1.4z M497.43,562.29a2.85,2.85 0 1,0 5.7,0a2.85,2.85 0 1,0 -5.7,0zM497.68,566.24l5.2,0q1.3,0 1.65,1.4l1.15,4.8q0.4,1.9 -0.9,2.1q-1.2,0.2 -1.3,1.4l-0.7,7.5q-0.1,1.7 -1.6,1.7l-1.8,0q-1.5,0 -1.6,-1.7l-0.7,-7.5q-0.1,-1.2 -1.3,-1.4q-1.3,-0.2 -0.9,-2.1l1.15,-4.8q0.35,-1.4 1.65,-1.4z M515.97,562.29a2.85,2.85 0 1,0 5.7,0a2.85,2.85 0 1,0 -5.7,0zM516.22,566.24l5.2,0q1.3,0 1.65,1.4l1.15,4.8q0.4,1.9 -0.9,2.1q-1.2,0.2 -1.3,1.4l-0.7,7.5q-0.1,1.7 -1.6,1.7l-1.8,0q-1.5,0 -1.6,-1.7l-0.7,-7.5q-0.1,-1.2 -1.3,-1.4q-1.3,-0.2 -0.9,-2.1l1.15,-4.8q0.35,-1.4 1.65,-1.4z M534.51,562.29a2.85,2.85 0 1,0 5.7,0a2.85,2.85 0 1,0 -5.7,0zM534.76,566.24l5.2,0q1.3,0 1.65,1.4l1.15,4.8q0.4,1.9 -0.9,2.1q-1.2,0.2 -1.3,1.4l-0.7,7.5q-0.1,1.7 -1.6,1.7l-1.8,0q-1.5,0 -1.6,-1.7l-0.7,-7.5q-0.1,-1.2 -1.3,-1.4q-1.3,-0.2 -0.9,-2.1l1.15,-4.8q0.35,-1.4 1.65,-1.4z M553.06,562.29a2.85,2.85 0 1,0 5.7,0a2.85,2.85 0 1,0 -5.7,0zM553.31,566.24l5.2,0q1.3,0 1.65,1.4l1.15,4.8q0.4,1.9 -0.9,2.1q-1.2,0.2 -1.3,1.4l-0.7,7.5q-0.1,1.7 -1.6,1.7l-1.8,0q-1.5,0 -1.6,-1.7l-0.7,-7.5q-0.1,-1.2 -1.3,-1.4q-1.3,-0.2 -0.9,-2.1l1.15,-4.8q0.35,-1.4 1.65,-1.4z M571.61,562.29a2.85,2.85 0 1,0 5.7,0a2.85,2.85 0 1,0 -5.7,0zM571.86,566.24l5.2,0q1.3,0 1.65,1.4l1.15,4.8q0.4,1.9 -0.9,2.1q-1.2,0.2 -1.3,1.4l-0.7,7.5q-0.1,1.7 -1.6,1.7l-1.8,0q-1.5,0 -1.6,-1.7l-0.7,-7.5q-0.1,-1.2 -1.3,-1.4q-1.3,-0.2 -0.9,-2.1l1.15,-4.8q0.35,-1.4 1.65,-1.4z M590.15,562.29a2.85,2.85 0 1,0 5.7,0a2.85,2.85 0 1,0 -5.7,0zM590.4,566.24l5.2,0q1.3,0 1.65,1.4l1.15,4.8q0.4,1.9 -0.9,2.1q-1.2,0.2 -1.3,1.4l-0.7,7.5q-0.1,1.7 -1.6,1.7l-1.8,0q-1.5,0 -1.6,-1.7l-0.7,-7.5q-0.1,-1.2 -1.3,-1.4q-1.3,-0.2 -0.9,-2.1l1.15,-4.8q0.35,-1.4 1.65,-1.4z M608.7,562.29a2.85,2.85 0 1,0 5.7,0a2.85,2.85 0 1,0 -5.7,0zM608.95,566.24l5.2,0q1.3,0 1.65,1.4l1.15,4.8q0.4,1.9 -0.9,2.1q-1.2,0.2 -1.3,1.4l-0.7,7.5q-0.1,1.7 -1.6,1.7l-1.8,0q-1.5,0 -1.6,-1.7l-0.7,-7.5q-0.1,-1.2 -1.3,-1.4q-1.3,-0.2 -0.9,-2.1l1.15,-4.8q0.35,-1.4 1.65,-1.4z M627.24,562.29a2.85,2.85 0 1,0 5.7,0a2.85,2.85 0 1,0 -5.7,0zM627.49,566.24l5.2,0q1.3,0 1.65,1.4l1.15,4.8q0.4,1.9 -0.9,2.1q-1.2,0.2 -1.3,1.4l-0.7,7.5q-0.1,1.7 -1.6,1.7l-1.8,0q-1.5,0 -1.6,-1.7l-0.7,-7.5q-0.1,-1.2 -1.3,-1.4q-1.3,-0.2 -0.9,-2.1l1.15,-4.8q0.35,-1.4 1.65,-1.4z M645.78,562.29a2.85,2.85 0 1,0 5.7,0a2.85,2.85 0 1,0 -5.7,0zM646.03,566.24l5.2,0q1.3,0 1.65,1.4l1.15,4.8q0.4,1.9 -0.9,2.1q-1.2,0.2 -1.3,1.4l-0.7,7.5q-0.1,1.7 -1.6,1.7l-1.8,0q-1.5,0 -1.6,-1.7l-0.7,-7.5q-0.1,-1.2 -1.3,-1.4q-1.3,-0.2 -0.9,-2.1l1.15,-4.8q0.35,-1.4 1.65,-1.4z M664.33,562.29a2.85,2.85 0 1,0 5.7,0a2.85,2.85 0 1,0 -5.7,0zM664.58,566.24l5.2,0q1.3,0 1.65,1.4l1.15,4.8q0.4,1.9 -0.9,2.1q-1.2,0.2 -1.3,1.4l-0.7,7.5q-0.1,1.7 -1.6,1.7l-1.8,0q-1.5,0 -1.6,-1.7l-0.7,-7.5q-0.1,-1.2 -1.3,-1.4q-1.3,-0.2 -0.9,-2.1l1.15,-4.8q0.35,-1.4 1.65,-1.4z M682.88,562.29a2.85,2.85 0 1,0 5.7,0a2.85,2.85 0 1,0 -5.7,0zM683.12,566.24l5.2,0q1.3,0 1.65,1.4l1.15,4.8q0.4,1.9 -0.9,2.1q-1.2,0.2 -1.3,1.4l-0.7,7.5q-0.1,1.7 -1.6,1.7l-1.8,0q-1.5,0 -1.6,-1.7l-0.7,-7.5q-0.1,-1.2 -1.3,-1.4q-1.3,-0.2 -0.9,-2.1l1.15,-4.8q0.35,-1.4 1.65,-1.4z M700.85,562.29a2.85,2.85 0 1,0 5.7,0a2.85,2.85 0 1,0 -5.7,0zM701.1,566.24l5.2,0q1.3,0 1.65,1.4l1.15,4.8q0.4,1.9 -0.9,2.1q-1.2,0.2 -1.3,1.4l-0.7,7.5q-0.1,1.7 -1.6,1.7l-1.8,0q-1.5,0 -1.6,-1.7l-0.7,-7.5q-0.1,-1.2 -1.3,-1.4q-1.3,-0.2 -0.9,-2.1l1.15,-4.8q0.35,-1.4 1.65,-1.4z M719.17,562.29a2.85,2.85 0 1,0 5.7,0a2.85,2.85 0 1,0 -5.7,0zM719.42,566.24l5.2,0q1.3,0 1.65,1.4l1.15,4.8q0.4,1.9 -0.9,2.1q-1.2,0.2 -1.3,1.4l-0.7,7.5q-0.1,1.7 -1.6,1.7l-1.8,0q-1.5,0 -1.6,-1.7l-0.7,-7.5q-0.1,-1.2 -1.3,-1.4q-1.3,-0.2 -0.9,-2.1l1.15,-4.8q0.35,-1.4 1.65,-1.4z M737.61,562.29a2.85,2.85 0 1,0 5.7,0a2.85,2.85 0 1,0 -5.7,0zM737.86,566.24l5.2,0q1.3,0 1.65,1.4l1.15,4.8q0.4,1.9 -0.9,2.1q-1.2,0.2 -1.3,1.4l-0.7,7.5q-0.1,1.7 -1.6,1.7l-1.8,0q-1.5,0 -1.6,-1.7l-0.7,-7.5q-0.1,-1.2 -1.3,-1.4q-1.3,-0.2 -0.9,-2.1l1.15,-4.8q0.35,-1.4 1.65,-1.4z M756.15,562.29a2.85,2.85 0 1,0 5.7,0a2.85,2.85 0 1,0 -5.7,0zM756.4,566.24l5.2,0q1.3,0 1.65,1.4l1.15,4.8q0.4,1.9 -0.9,2.1q-1.2,0.2 -1.3,1.4l-0.7,7.5q-0.1,1.7 -1.6,1.7l-1.8,0q-1.5,0 -1.6,-1.7l-0.7,-7.5q-0.1,-1.2 -1.3,-1.4q-1.3,-0.2 -0.9,-2.1l1.15,-4.8q0.35,-1.4 1.65,-1.4z M774.5,562.29a2.85,2.85 0 1,0 5.7,0a2.85,2.85 0 1,0 -5.7,0zM774.75,566.24l5.2,0q1.3,0 1.65,1.4l1.15,4.8q0.4,1.9 -0.9,2.1q-1.2,0.2 -1.3,1.4l-0.7,7.5q-0.1,1.7 -1.6,1.7l-1.8,0q-1.5,0 -1.6,-1.7l-0.7,-7.5q-0.1,-1.2 -1.3,-1.4q-1.3,-0.2 -0.9,-2.1l1.15,-4.8q0.35,-1.4 1.65,-1.4z M793.15,562.29a2.85,2.85 0 1,0 5.7,0a2.85,2.85 0 1,0 -5.7,0zM793.4,566.24l5.2,0q1.3,0 1.65,1.4l1.15,4.8q0.4,1.9 -0.9,2.1q-1.2,0.2 -1.3,1.4l-0.7,7.5q-0.1,1.7 -1.6,1.7l-1.8,0q-1.5,0 -1.6,-1.7l-0.7,-7.5q-0.1,-1.2 -1.3,-1.4q-1.3,-0.2 -0.9,-2.1l1.15,-4.8q0.35,-1.4 1.65,-1.4z M811.89,562.29a2.85,2.85 0 1,0 5.7,0a2.85,2.85 0 1,0 -5.7,0zM812.14,566.24l5.2,0q1.3,0 1.65,1.4l1.15,4.8q0.4,1.9 -0.9,2.1q-1.2,0.2 -1.3,1.4l-0.7,7.5q-0.1,1.7 -1.6,1.7l-1.8,0q-1.5,0 -1.6,-1.7l-0.7,-7.5q-0.1,-1.2 -1.3,-1.4q-1.3,-0.2 -0.9,-2.1l1.15,-4.8q0.35,-1.4 1.65,-1.4z"/>
<path class="l" d="M830.53,562.29a2.85,2.85 0 1,0 5.7,0a2.85,2.85 0 1,0 -5.7,0zM830.78,566.24l5.2,0q1.3,0 1.65,1.4l1.15,4.8q0.4,1.9 -0.9,2.1q-1.2,0.2 -1.3,1.4l-0.7,7.5q-0.1,1.7 -1.6,1.7l-1.8,0q-1.5,0 -1.6,-1.7l-0.7,-7.5q-0.1,-1.2 -1.3,-1.4q-1.3,-0.2 -0.9,-2.1l1.15,-4.8q0.35,-1.4 1.65,-1.4z M848.88,562.29a2.85,2.85 0 1,0 5.7,0a2.85,2.85 0 1,0 -5.7,0zM849.13,566.24l5.2,0q1.3,0 1.65,1.4l1.15,4.8q0.4,1.9 -0.9,2.1q-1.2,0.2 -1.3,1.4l-0.7,7.5q-0.1,1.7 -1.6,1.7l-1.8,0q-1.5,0 -1.6,-1.7l-0.7,-7.5q-0.1,-1.2 -1.3,-1.4q-1.3,-0.2 -0.9,-2.1l1.15,-4.8q0.35,-1.4 1.65,-1.4z M867.98,562.29a2.85,2.85 0 1,0 5.7,0a2.85,2.85 0 1,0 -5.7,0zM868.23,566.24l5.2,0q1.3,0 1.65,1.4l1.15,4.8q0.4,1.9 -0.9,2.1q-1.2,0.2 -1.3,1.4l-0.7,7.5q-0.1,1.7 -1.6,1.7l-1.8,0q-1.5,0 -1.6,-1.7l-0.7,-7.5q-0.1,-1.2 -1.3,-1.4q-1.3,-0.2 -0.9,-2.1l1.15,-4.8q0.35,-1.4 1.65,-1.4z"/>
<path class="d" d="M886.52,562.29a2.85,2.85 0 1,0 5.7,0a2.85,2.85 0 1,0 -5.7,0zM886.77,566.24l5.2,0q1.3,0 1.65,1.4l1.15,4.8q0.4,1.9 -0.9,2.1q-1.2,0.2 -1.3,1.4l-0.7,7.5q-0.1,1.7 -1.6,1.7l-1.8,0q-1.5,0 -1.6,-1.7l-0.7,-7.5q-0.1,-1.2 -1.3,-1.4q-1.3,-0.2 -0.9,-2.1l1.15,-4.8q0.35,-1.4 1.65,-1.4z"/>
</g>
</svg>
<div class="legend soft" style="width:1300px;height:30px">
<span class="sw" style="left:384.5px;background:#f0585a"></span><span class="sw" style="left:583.2px;background:#90c6f8"></span><span class="sw" style="left:763.6px;background:#5558e3"></span>
<span class="tx" style="left:409.00px;letter-spacing:0.00px">No </span><span class="tx" style="left:433.60px;letter-spacing:0.27px">Criminal </span><span class="tx" style="left:502.20px;letter-spacing:-0.28px">Charges</span><span class="tx" style="left:607.00px;letter-spacing:0.24px">Officer(s) </span><span class="tx" style="left:682.00px;letter-spacing:0.00px">Charged</span><span class="tx" style="left:788.00px;letter-spacing:0.29px">Officer(s) </span><span class="tx" style="left:863.20px;letter-spacing:0.08px">Convicted</span>
</div>
</body>
</html>
